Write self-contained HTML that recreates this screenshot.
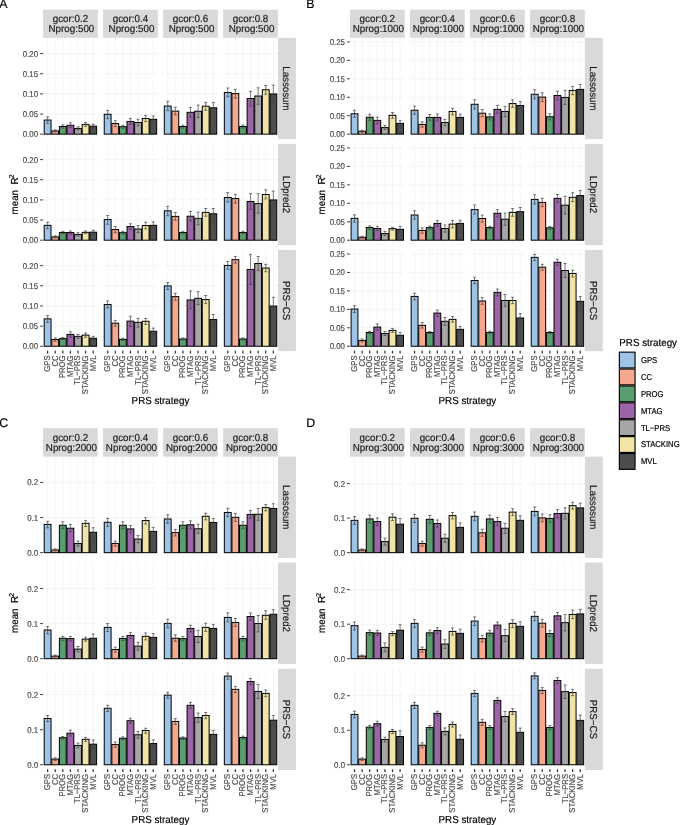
<!DOCTYPE html>
<html><head><meta charset="utf-8"><title>PRS strategy</title>
<style>
html,body{margin:0;padding:0;background:#fff;}
body{width:685px;height:825px;overflow:hidden;}
svg{display:block;font-family:"Liberation Sans",sans-serif;-webkit-font-smoothing:antialiased;text-rendering:geometricPrecision;}
</style></head><body>
<svg width="685" height="825" viewBox="0 0 685 825">
<rect x="0" y="0" width="685" height="825" fill="#ffffff"/>
<g>
<rect x="43.05" y="9.7" width="54.7" height="28.1" fill="#D9D9D9"/>
<rect x="103.1" y="9.7" width="54.7" height="28.1" fill="#D9D9D9"/>
<rect x="163.15" y="9.7" width="54.7" height="28.1" fill="#D9D9D9"/>
<rect x="223.2" y="9.7" width="54.7" height="28.1" fill="#D9D9D9"/>
<rect x="277.95" y="37.8" width="17.95" height="101.3" fill="#D9D9D9"/>
<line x1="40.1" y1="134.15" x2="43.05" y2="134.15" stroke="#333333" stroke-width="0.95"/>
<line x1="40.1" y1="114" x2="43.05" y2="114" stroke="#333333" stroke-width="0.95"/>
<line x1="40.1" y1="93.85" x2="43.05" y2="93.85" stroke="#333333" stroke-width="0.95"/>
<line x1="40.1" y1="73.7" x2="43.05" y2="73.7" stroke="#333333" stroke-width="0.95"/>
<line x1="40.1" y1="53.55" x2="43.05" y2="53.55" stroke="#333333" stroke-width="0.95"/>
<line x1="43.05" y1="134.15" x2="97.75" y2="134.15" stroke="#EDEDED" stroke-width="0.55"/>
<line x1="43.05" y1="114" x2="97.75" y2="114" stroke="#EDEDED" stroke-width="0.55"/>
<line x1="43.05" y1="93.85" x2="97.75" y2="93.85" stroke="#EDEDED" stroke-width="0.55"/>
<line x1="43.05" y1="73.7" x2="97.75" y2="73.7" stroke="#EDEDED" stroke-width="0.55"/>
<line x1="43.05" y1="53.55" x2="97.75" y2="53.55" stroke="#EDEDED" stroke-width="0.55"/>
<line x1="47.61" y1="37.8" x2="47.61" y2="139.1" stroke="#EDEDED" stroke-width="0.55"/>
<line x1="55.21" y1="37.8" x2="55.21" y2="139.1" stroke="#EDEDED" stroke-width="0.55"/>
<line x1="62.8" y1="37.8" x2="62.8" y2="139.1" stroke="#EDEDED" stroke-width="0.55"/>
<line x1="70.4" y1="37.8" x2="70.4" y2="139.1" stroke="#EDEDED" stroke-width="0.55"/>
<line x1="78" y1="37.8" x2="78" y2="139.1" stroke="#EDEDED" stroke-width="0.55"/>
<line x1="85.59" y1="37.8" x2="85.59" y2="139.1" stroke="#EDEDED" stroke-width="0.55"/>
<line x1="93.19" y1="37.8" x2="93.19" y2="139.1" stroke="#EDEDED" stroke-width="0.55"/>
<rect x="44.19" y="120.04" width="6.84" height="14.11" fill="#9DC3E6" stroke="#000" stroke-width="1"/>
<line x1="47.61" y1="116.89" x2="47.61" y2="123.2" stroke="#444444" stroke-width="0.7"/>
<line x1="46.06" y1="116.89" x2="49.16" y2="116.89" stroke="#444444" stroke-width="0.7"/>
<line x1="46.06" y1="123.2" x2="49.16" y2="123.2" stroke="#444444" stroke-width="0.7"/>
<rect x="51.79" y="130.91" width="6.84" height="3.24" fill="#F4A88E" stroke="#000" stroke-width="1"/>
<line x1="55.21" y1="129.85" x2="55.21" y2="131.96" stroke="#444444" stroke-width="0.7"/>
<line x1="53.66" y1="129.85" x2="56.76" y2="129.85" stroke="#444444" stroke-width="0.7"/>
<line x1="53.66" y1="131.96" x2="56.76" y2="131.96" stroke="#444444" stroke-width="0.7"/>
<rect x="59.38" y="126.53" width="6.84" height="7.62" fill="#5A9E6F" stroke="#000" stroke-width="1"/>
<line x1="62.8" y1="124.95" x2="62.8" y2="128.1" stroke="#444444" stroke-width="0.7"/>
<line x1="61.25" y1="124.95" x2="64.35" y2="124.95" stroke="#444444" stroke-width="0.7"/>
<line x1="61.25" y1="128.1" x2="64.35" y2="128.1" stroke="#444444" stroke-width="0.7"/>
<rect x="66.98" y="125.3" width="6.84" height="8.85" fill="#9C65A7" stroke="#000" stroke-width="1"/>
<line x1="70.4" y1="122.85" x2="70.4" y2="127.58" stroke="#444444" stroke-width="0.7"/>
<line x1="68.85" y1="122.85" x2="71.95" y2="122.85" stroke="#444444" stroke-width="0.7"/>
<line x1="68.85" y1="127.58" x2="71.95" y2="127.58" stroke="#444444" stroke-width="0.7"/>
<rect x="74.58" y="128.45" width="6.84" height="5.7" fill="#A6A6A6" stroke="#000" stroke-width="1"/>
<line x1="78" y1="126.88" x2="78" y2="130.03" stroke="#444444" stroke-width="0.7"/>
<line x1="76.45" y1="126.88" x2="79.55" y2="126.88" stroke="#444444" stroke-width="0.7"/>
<line x1="76.45" y1="130.03" x2="79.55" y2="130.03" stroke="#444444" stroke-width="0.7"/>
<rect x="82.18" y="124.42" width="6.84" height="9.73" fill="#F0E4A6" stroke="#000" stroke-width="1"/>
<line x1="85.59" y1="122.5" x2="85.59" y2="126.35" stroke="#444444" stroke-width="0.7"/>
<line x1="84.04" y1="122.5" x2="87.14" y2="122.5" stroke="#444444" stroke-width="0.7"/>
<line x1="84.04" y1="126.35" x2="87.14" y2="126.35" stroke="#444444" stroke-width="0.7"/>
<rect x="89.77" y="126.18" width="6.84" height="7.97" fill="#4D4D4D" stroke="#000" stroke-width="1"/>
<line x1="93.19" y1="124.25" x2="93.19" y2="128.1" stroke="#444444" stroke-width="0.7"/>
<line x1="91.64" y1="124.25" x2="94.74" y2="124.25" stroke="#444444" stroke-width="0.7"/>
<line x1="91.64" y1="128.1" x2="94.74" y2="128.1" stroke="#444444" stroke-width="0.7"/>
<line x1="103.1" y1="134.15" x2="157.8" y2="134.15" stroke="#EDEDED" stroke-width="0.55"/>
<line x1="103.1" y1="114" x2="157.8" y2="114" stroke="#EDEDED" stroke-width="0.55"/>
<line x1="103.1" y1="93.85" x2="157.8" y2="93.85" stroke="#EDEDED" stroke-width="0.55"/>
<line x1="103.1" y1="73.7" x2="157.8" y2="73.7" stroke="#EDEDED" stroke-width="0.55"/>
<line x1="103.1" y1="53.55" x2="157.8" y2="53.55" stroke="#EDEDED" stroke-width="0.55"/>
<line x1="107.66" y1="37.8" x2="107.66" y2="139.1" stroke="#EDEDED" stroke-width="0.55"/>
<line x1="115.26" y1="37.8" x2="115.26" y2="139.1" stroke="#EDEDED" stroke-width="0.55"/>
<line x1="122.85" y1="37.8" x2="122.85" y2="139.1" stroke="#EDEDED" stroke-width="0.55"/>
<line x1="130.45" y1="37.8" x2="130.45" y2="139.1" stroke="#EDEDED" stroke-width="0.55"/>
<line x1="138.05" y1="37.8" x2="138.05" y2="139.1" stroke="#EDEDED" stroke-width="0.55"/>
<line x1="145.64" y1="37.8" x2="145.64" y2="139.1" stroke="#EDEDED" stroke-width="0.55"/>
<line x1="153.24" y1="37.8" x2="153.24" y2="139.1" stroke="#EDEDED" stroke-width="0.55"/>
<rect x="104.24" y="114.26" width="6.84" height="19.89" fill="#9DC3E6" stroke="#000" stroke-width="1"/>
<line x1="107.66" y1="110.41" x2="107.66" y2="118.64" stroke="#444444" stroke-width="0.7"/>
<line x1="106.11" y1="110.41" x2="109.21" y2="110.41" stroke="#444444" stroke-width="0.7"/>
<line x1="106.11" y1="118.64" x2="109.21" y2="118.64" stroke="#444444" stroke-width="0.7"/>
<rect x="111.84" y="123.55" width="6.84" height="10.6" fill="#F4A88E" stroke="#000" stroke-width="1"/>
<line x1="115.26" y1="120.74" x2="115.26" y2="126.53" stroke="#444444" stroke-width="0.7"/>
<line x1="113.71" y1="120.74" x2="116.81" y2="120.74" stroke="#444444" stroke-width="0.7"/>
<line x1="113.71" y1="126.53" x2="116.81" y2="126.53" stroke="#444444" stroke-width="0.7"/>
<rect x="119.43" y="126.7" width="6.84" height="7.45" fill="#5A9E6F" stroke="#000" stroke-width="1"/>
<line x1="122.85" y1="125.3" x2="122.85" y2="128.28" stroke="#444444" stroke-width="0.7"/>
<line x1="121.3" y1="125.3" x2="124.4" y2="125.3" stroke="#444444" stroke-width="0.7"/>
<line x1="121.3" y1="128.28" x2="124.4" y2="128.28" stroke="#444444" stroke-width="0.7"/>
<rect x="127.03" y="121.45" width="6.84" height="12.7" fill="#9C65A7" stroke="#000" stroke-width="1"/>
<line x1="130.45" y1="118.47" x2="130.45" y2="124.42" stroke="#444444" stroke-width="0.7"/>
<line x1="128.9" y1="118.47" x2="132" y2="118.47" stroke="#444444" stroke-width="0.7"/>
<line x1="128.9" y1="124.42" x2="132" y2="124.42" stroke="#444444" stroke-width="0.7"/>
<rect x="134.63" y="122.5" width="6.84" height="11.65" fill="#A6A6A6" stroke="#000" stroke-width="1"/>
<line x1="138.05" y1="119.17" x2="138.05" y2="125.82" stroke="#444444" stroke-width="0.7"/>
<line x1="136.5" y1="119.17" x2="139.6" y2="119.17" stroke="#444444" stroke-width="0.7"/>
<line x1="136.5" y1="125.82" x2="139.6" y2="125.82" stroke="#444444" stroke-width="0.7"/>
<rect x="142.23" y="118.47" width="6.84" height="15.68" fill="#F0E4A6" stroke="#000" stroke-width="1"/>
<line x1="145.64" y1="115.31" x2="145.64" y2="121.62" stroke="#444444" stroke-width="0.7"/>
<line x1="144.09" y1="115.31" x2="147.19" y2="115.31" stroke="#444444" stroke-width="0.7"/>
<line x1="144.09" y1="121.62" x2="147.19" y2="121.62" stroke="#444444" stroke-width="0.7"/>
<rect x="149.82" y="119.34" width="6.84" height="14.81" fill="#4D4D4D" stroke="#000" stroke-width="1"/>
<line x1="153.24" y1="116.01" x2="153.24" y2="122.67" stroke="#444444" stroke-width="0.7"/>
<line x1="151.69" y1="116.01" x2="154.79" y2="116.01" stroke="#444444" stroke-width="0.7"/>
<line x1="151.69" y1="122.67" x2="154.79" y2="122.67" stroke="#444444" stroke-width="0.7"/>
<line x1="163.15" y1="134.15" x2="217.85" y2="134.15" stroke="#EDEDED" stroke-width="0.55"/>
<line x1="163.15" y1="114" x2="217.85" y2="114" stroke="#EDEDED" stroke-width="0.55"/>
<line x1="163.15" y1="93.85" x2="217.85" y2="93.85" stroke="#EDEDED" stroke-width="0.55"/>
<line x1="163.15" y1="73.7" x2="217.85" y2="73.7" stroke="#EDEDED" stroke-width="0.55"/>
<line x1="163.15" y1="53.55" x2="217.85" y2="53.55" stroke="#EDEDED" stroke-width="0.55"/>
<line x1="167.71" y1="37.8" x2="167.71" y2="139.1" stroke="#EDEDED" stroke-width="0.55"/>
<line x1="175.31" y1="37.8" x2="175.31" y2="139.1" stroke="#EDEDED" stroke-width="0.55"/>
<line x1="182.9" y1="37.8" x2="182.9" y2="139.1" stroke="#EDEDED" stroke-width="0.55"/>
<line x1="190.5" y1="37.8" x2="190.5" y2="139.1" stroke="#EDEDED" stroke-width="0.55"/>
<line x1="198.1" y1="37.8" x2="198.1" y2="139.1" stroke="#EDEDED" stroke-width="0.55"/>
<line x1="205.69" y1="37.8" x2="205.69" y2="139.1" stroke="#EDEDED" stroke-width="0.55"/>
<line x1="213.29" y1="37.8" x2="213.29" y2="139.1" stroke="#EDEDED" stroke-width="0.55"/>
<rect x="164.29" y="106.03" width="6.84" height="28.12" fill="#9DC3E6" stroke="#000" stroke-width="1"/>
<line x1="167.71" y1="101.3" x2="167.71" y2="110.58" stroke="#444444" stroke-width="0.7"/>
<line x1="166.16" y1="101.3" x2="169.26" y2="101.3" stroke="#444444" stroke-width="0.7"/>
<line x1="166.16" y1="110.58" x2="169.26" y2="110.58" stroke="#444444" stroke-width="0.7"/>
<rect x="171.89" y="111.11" width="6.84" height="23.04" fill="#F4A88E" stroke="#000" stroke-width="1"/>
<line x1="175.31" y1="107.26" x2="175.31" y2="114.79" stroke="#444444" stroke-width="0.7"/>
<line x1="173.76" y1="107.26" x2="176.86" y2="107.26" stroke="#444444" stroke-width="0.7"/>
<line x1="173.76" y1="114.79" x2="176.86" y2="114.79" stroke="#444444" stroke-width="0.7"/>
<rect x="179.48" y="126.53" width="6.84" height="7.62" fill="#5A9E6F" stroke="#000" stroke-width="1"/>
<line x1="182.9" y1="125.12" x2="182.9" y2="128.1" stroke="#444444" stroke-width="0.7"/>
<line x1="181.35" y1="125.12" x2="184.45" y2="125.12" stroke="#444444" stroke-width="0.7"/>
<line x1="181.35" y1="128.1" x2="184.45" y2="128.1" stroke="#444444" stroke-width="0.7"/>
<rect x="187.08" y="112.34" width="6.84" height="21.81" fill="#9C65A7" stroke="#000" stroke-width="1"/>
<line x1="190.5" y1="107.43" x2="190.5" y2="117.07" stroke="#444444" stroke-width="0.7"/>
<line x1="188.95" y1="107.43" x2="192.05" y2="107.43" stroke="#444444" stroke-width="0.7"/>
<line x1="188.95" y1="117.07" x2="192.05" y2="117.07" stroke="#444444" stroke-width="0.7"/>
<rect x="194.68" y="111.28" width="6.84" height="22.87" fill="#A6A6A6" stroke="#000" stroke-width="1"/>
<line x1="198.1" y1="105.15" x2="198.1" y2="117.59" stroke="#444444" stroke-width="0.7"/>
<line x1="196.55" y1="105.15" x2="199.65" y2="105.15" stroke="#444444" stroke-width="0.7"/>
<line x1="196.55" y1="117.59" x2="199.65" y2="117.59" stroke="#444444" stroke-width="0.7"/>
<rect x="202.28" y="106.2" width="6.84" height="27.95" fill="#F0E4A6" stroke="#000" stroke-width="1"/>
<line x1="205.69" y1="102.35" x2="205.69" y2="110.23" stroke="#444444" stroke-width="0.7"/>
<line x1="204.14" y1="102.35" x2="207.24" y2="102.35" stroke="#444444" stroke-width="0.7"/>
<line x1="204.14" y1="110.23" x2="207.24" y2="110.23" stroke="#444444" stroke-width="0.7"/>
<rect x="209.87" y="107.78" width="6.84" height="26.37" fill="#4D4D4D" stroke="#000" stroke-width="1"/>
<line x1="213.29" y1="102.53" x2="213.29" y2="113.04" stroke="#444444" stroke-width="0.7"/>
<line x1="211.74" y1="102.53" x2="214.84" y2="102.53" stroke="#444444" stroke-width="0.7"/>
<line x1="211.74" y1="113.04" x2="214.84" y2="113.04" stroke="#444444" stroke-width="0.7"/>
<line x1="223.2" y1="134.15" x2="277.9" y2="134.15" stroke="#EDEDED" stroke-width="0.55"/>
<line x1="223.2" y1="114" x2="277.9" y2="114" stroke="#EDEDED" stroke-width="0.55"/>
<line x1="223.2" y1="93.85" x2="277.9" y2="93.85" stroke="#EDEDED" stroke-width="0.55"/>
<line x1="223.2" y1="73.7" x2="277.9" y2="73.7" stroke="#EDEDED" stroke-width="0.55"/>
<line x1="223.2" y1="53.55" x2="277.9" y2="53.55" stroke="#EDEDED" stroke-width="0.55"/>
<line x1="227.76" y1="37.8" x2="227.76" y2="139.1" stroke="#EDEDED" stroke-width="0.55"/>
<line x1="235.36" y1="37.8" x2="235.36" y2="139.1" stroke="#EDEDED" stroke-width="0.55"/>
<line x1="242.95" y1="37.8" x2="242.95" y2="139.1" stroke="#EDEDED" stroke-width="0.55"/>
<line x1="250.55" y1="37.8" x2="250.55" y2="139.1" stroke="#EDEDED" stroke-width="0.55"/>
<line x1="258.15" y1="37.8" x2="258.15" y2="139.1" stroke="#EDEDED" stroke-width="0.55"/>
<line x1="265.74" y1="37.8" x2="265.74" y2="139.1" stroke="#EDEDED" stroke-width="0.55"/>
<line x1="273.34" y1="37.8" x2="273.34" y2="139.1" stroke="#EDEDED" stroke-width="0.55"/>
<rect x="224.34" y="92.54" width="6.84" height="41.61" fill="#9DC3E6" stroke="#000" stroke-width="1"/>
<line x1="227.76" y1="87.99" x2="227.76" y2="96.74" stroke="#444444" stroke-width="0.7"/>
<line x1="226.21" y1="87.99" x2="229.31" y2="87.99" stroke="#444444" stroke-width="0.7"/>
<line x1="226.21" y1="96.74" x2="229.31" y2="96.74" stroke="#444444" stroke-width="0.7"/>
<rect x="231.94" y="93.59" width="6.84" height="40.56" fill="#F4A88E" stroke="#000" stroke-width="1"/>
<line x1="235.36" y1="89.39" x2="235.36" y2="98.15" stroke="#444444" stroke-width="0.7"/>
<line x1="233.81" y1="89.39" x2="236.91" y2="89.39" stroke="#444444" stroke-width="0.7"/>
<line x1="233.81" y1="98.15" x2="236.91" y2="98.15" stroke="#444444" stroke-width="0.7"/>
<rect x="239.53" y="126.53" width="6.84" height="7.62" fill="#5A9E6F" stroke="#000" stroke-width="1"/>
<line x1="242.95" y1="124.95" x2="242.95" y2="128.1" stroke="#444444" stroke-width="0.7"/>
<line x1="241.4" y1="124.95" x2="244.5" y2="124.95" stroke="#444444" stroke-width="0.7"/>
<line x1="241.4" y1="128.1" x2="244.5" y2="128.1" stroke="#444444" stroke-width="0.7"/>
<rect x="247.13" y="98.5" width="6.84" height="35.65" fill="#9C65A7" stroke="#000" stroke-width="1"/>
<line x1="250.55" y1="91.31" x2="250.55" y2="106.03" stroke="#444444" stroke-width="0.7"/>
<line x1="249" y1="91.31" x2="252.1" y2="91.31" stroke="#444444" stroke-width="0.7"/>
<line x1="249" y1="106.03" x2="252.1" y2="106.03" stroke="#444444" stroke-width="0.7"/>
<rect x="254.73" y="96.04" width="6.84" height="38.11" fill="#A6A6A6" stroke="#000" stroke-width="1"/>
<line x1="258.15" y1="87.81" x2="258.15" y2="104.28" stroke="#444444" stroke-width="0.7"/>
<line x1="256.6" y1="87.81" x2="259.7" y2="87.81" stroke="#444444" stroke-width="0.7"/>
<line x1="256.6" y1="104.28" x2="259.7" y2="104.28" stroke="#444444" stroke-width="0.7"/>
<rect x="262.33" y="89.74" width="6.84" height="44.41" fill="#F0E4A6" stroke="#000" stroke-width="1"/>
<line x1="265.74" y1="85.53" x2="265.74" y2="94.29" stroke="#444444" stroke-width="0.7"/>
<line x1="264.19" y1="85.53" x2="267.29" y2="85.53" stroke="#444444" stroke-width="0.7"/>
<line x1="264.19" y1="94.29" x2="267.29" y2="94.29" stroke="#444444" stroke-width="0.7"/>
<rect x="269.92" y="93.94" width="6.84" height="40.21" fill="#4D4D4D" stroke="#000" stroke-width="1"/>
<line x1="273.34" y1="85.18" x2="273.34" y2="102.7" stroke="#444444" stroke-width="0.7"/>
<line x1="271.79" y1="85.18" x2="274.89" y2="85.18" stroke="#444444" stroke-width="0.7"/>
<line x1="271.79" y1="102.7" x2="274.89" y2="102.7" stroke="#444444" stroke-width="0.7"/>
<rect x="277.95" y="143.85" width="17.95" height="101.3" fill="#D9D9D9"/>
<line x1="40.1" y1="240.2" x2="43.05" y2="240.2" stroke="#333333" stroke-width="0.95"/>
<line x1="40.1" y1="220.05" x2="43.05" y2="220.05" stroke="#333333" stroke-width="0.95"/>
<line x1="40.1" y1="199.9" x2="43.05" y2="199.9" stroke="#333333" stroke-width="0.95"/>
<line x1="40.1" y1="179.75" x2="43.05" y2="179.75" stroke="#333333" stroke-width="0.95"/>
<line x1="40.1" y1="159.6" x2="43.05" y2="159.6" stroke="#333333" stroke-width="0.95"/>
<line x1="43.05" y1="240.2" x2="97.75" y2="240.2" stroke="#EDEDED" stroke-width="0.55"/>
<line x1="43.05" y1="220.05" x2="97.75" y2="220.05" stroke="#EDEDED" stroke-width="0.55"/>
<line x1="43.05" y1="199.9" x2="97.75" y2="199.9" stroke="#EDEDED" stroke-width="0.55"/>
<line x1="43.05" y1="179.75" x2="97.75" y2="179.75" stroke="#EDEDED" stroke-width="0.55"/>
<line x1="43.05" y1="159.6" x2="97.75" y2="159.6" stroke="#EDEDED" stroke-width="0.55"/>
<line x1="47.61" y1="143.85" x2="47.61" y2="245.15" stroke="#EDEDED" stroke-width="0.55"/>
<line x1="55.21" y1="143.85" x2="55.21" y2="245.15" stroke="#EDEDED" stroke-width="0.55"/>
<line x1="62.8" y1="143.85" x2="62.8" y2="245.15" stroke="#EDEDED" stroke-width="0.55"/>
<line x1="70.4" y1="143.85" x2="70.4" y2="245.15" stroke="#EDEDED" stroke-width="0.55"/>
<line x1="78" y1="143.85" x2="78" y2="245.15" stroke="#EDEDED" stroke-width="0.55"/>
<line x1="85.59" y1="143.85" x2="85.59" y2="245.15" stroke="#EDEDED" stroke-width="0.55"/>
<line x1="93.19" y1="143.85" x2="93.19" y2="245.15" stroke="#EDEDED" stroke-width="0.55"/>
<rect x="44.19" y="225.34" width="6.84" height="14.86" fill="#9DC3E6" stroke="#000" stroke-width="1"/>
<line x1="47.61" y1="222.19" x2="47.61" y2="228.85" stroke="#444444" stroke-width="0.7"/>
<line x1="46.06" y1="222.19" x2="49.16" y2="222.19" stroke="#444444" stroke-width="0.7"/>
<line x1="46.06" y1="228.85" x2="49.16" y2="228.85" stroke="#444444" stroke-width="0.7"/>
<rect x="51.79" y="236.91" width="6.84" height="3.29" fill="#F4A88E" stroke="#000" stroke-width="1"/>
<line x1="55.21" y1="235.85" x2="55.21" y2="237.96" stroke="#444444" stroke-width="0.7"/>
<line x1="53.66" y1="235.85" x2="56.76" y2="235.85" stroke="#444444" stroke-width="0.7"/>
<line x1="53.66" y1="237.96" x2="56.76" y2="237.96" stroke="#444444" stroke-width="0.7"/>
<rect x="59.38" y="232.53" width="6.84" height="7.67" fill="#5A9E6F" stroke="#000" stroke-width="1"/>
<line x1="62.8" y1="231.3" x2="62.8" y2="233.93" stroke="#444444" stroke-width="0.7"/>
<line x1="61.25" y1="231.3" x2="64.35" y2="231.3" stroke="#444444" stroke-width="0.7"/>
<line x1="61.25" y1="233.93" x2="64.35" y2="233.93" stroke="#444444" stroke-width="0.7"/>
<rect x="66.98" y="232.53" width="6.84" height="7.67" fill="#9C65A7" stroke="#000" stroke-width="1"/>
<line x1="70.4" y1="230.95" x2="70.4" y2="234.28" stroke="#444444" stroke-width="0.7"/>
<line x1="68.85" y1="230.95" x2="71.95" y2="230.95" stroke="#444444" stroke-width="0.7"/>
<line x1="68.85" y1="234.28" x2="71.95" y2="234.28" stroke="#444444" stroke-width="0.7"/>
<rect x="74.58" y="234.45" width="6.84" height="5.75" fill="#A6A6A6" stroke="#000" stroke-width="1"/>
<line x1="78" y1="232.7" x2="78" y2="236.03" stroke="#444444" stroke-width="0.7"/>
<line x1="76.45" y1="232.7" x2="79.55" y2="232.7" stroke="#444444" stroke-width="0.7"/>
<line x1="76.45" y1="236.03" x2="79.55" y2="236.03" stroke="#444444" stroke-width="0.7"/>
<rect x="82.18" y="232.35" width="6.84" height="7.85" fill="#F0E4A6" stroke="#000" stroke-width="1"/>
<line x1="85.59" y1="230.95" x2="85.59" y2="233.75" stroke="#444444" stroke-width="0.7"/>
<line x1="84.04" y1="230.95" x2="87.14" y2="230.95" stroke="#444444" stroke-width="0.7"/>
<line x1="84.04" y1="233.75" x2="87.14" y2="233.75" stroke="#444444" stroke-width="0.7"/>
<rect x="89.77" y="232.18" width="6.84" height="8.02" fill="#4D4D4D" stroke="#000" stroke-width="1"/>
<line x1="93.19" y1="230.25" x2="93.19" y2="234.1" stroke="#444444" stroke-width="0.7"/>
<line x1="91.64" y1="230.25" x2="94.74" y2="230.25" stroke="#444444" stroke-width="0.7"/>
<line x1="91.64" y1="234.1" x2="94.74" y2="234.1" stroke="#444444" stroke-width="0.7"/>
<line x1="103.1" y1="240.2" x2="157.8" y2="240.2" stroke="#EDEDED" stroke-width="0.55"/>
<line x1="103.1" y1="220.05" x2="157.8" y2="220.05" stroke="#EDEDED" stroke-width="0.55"/>
<line x1="103.1" y1="199.9" x2="157.8" y2="199.9" stroke="#EDEDED" stroke-width="0.55"/>
<line x1="103.1" y1="179.75" x2="157.8" y2="179.75" stroke="#EDEDED" stroke-width="0.55"/>
<line x1="103.1" y1="159.6" x2="157.8" y2="159.6" stroke="#EDEDED" stroke-width="0.55"/>
<line x1="107.66" y1="143.85" x2="107.66" y2="245.15" stroke="#EDEDED" stroke-width="0.55"/>
<line x1="115.26" y1="143.85" x2="115.26" y2="245.15" stroke="#EDEDED" stroke-width="0.55"/>
<line x1="122.85" y1="143.85" x2="122.85" y2="245.15" stroke="#EDEDED" stroke-width="0.55"/>
<line x1="130.45" y1="143.85" x2="130.45" y2="245.15" stroke="#EDEDED" stroke-width="0.55"/>
<line x1="138.05" y1="143.85" x2="138.05" y2="245.15" stroke="#EDEDED" stroke-width="0.55"/>
<line x1="145.64" y1="143.85" x2="145.64" y2="245.15" stroke="#EDEDED" stroke-width="0.55"/>
<line x1="153.24" y1="143.85" x2="153.24" y2="245.15" stroke="#EDEDED" stroke-width="0.55"/>
<rect x="104.24" y="219.56" width="6.84" height="20.64" fill="#9DC3E6" stroke="#000" stroke-width="1"/>
<line x1="107.66" y1="215.53" x2="107.66" y2="224.29" stroke="#444444" stroke-width="0.7"/>
<line x1="106.11" y1="215.53" x2="109.21" y2="215.53" stroke="#444444" stroke-width="0.7"/>
<line x1="106.11" y1="224.29" x2="109.21" y2="224.29" stroke="#444444" stroke-width="0.7"/>
<rect x="111.84" y="229.55" width="6.84" height="10.65" fill="#F4A88E" stroke="#000" stroke-width="1"/>
<line x1="115.26" y1="226.57" x2="115.26" y2="232.7" stroke="#444444" stroke-width="0.7"/>
<line x1="113.71" y1="226.57" x2="116.81" y2="226.57" stroke="#444444" stroke-width="0.7"/>
<line x1="113.71" y1="232.7" x2="116.81" y2="232.7" stroke="#444444" stroke-width="0.7"/>
<rect x="119.43" y="232.7" width="6.84" height="7.5" fill="#5A9E6F" stroke="#000" stroke-width="1"/>
<line x1="122.85" y1="231.3" x2="122.85" y2="234.1" stroke="#444444" stroke-width="0.7"/>
<line x1="121.3" y1="231.3" x2="124.4" y2="231.3" stroke="#444444" stroke-width="0.7"/>
<line x1="121.3" y1="234.1" x2="124.4" y2="234.1" stroke="#444444" stroke-width="0.7"/>
<rect x="127.03" y="226.57" width="6.84" height="13.63" fill="#9C65A7" stroke="#000" stroke-width="1"/>
<line x1="130.45" y1="223.77" x2="130.45" y2="229.37" stroke="#444444" stroke-width="0.7"/>
<line x1="128.9" y1="223.77" x2="132" y2="223.77" stroke="#444444" stroke-width="0.7"/>
<line x1="128.9" y1="229.37" x2="132" y2="229.37" stroke="#444444" stroke-width="0.7"/>
<rect x="134.63" y="229.02" width="6.84" height="11.18" fill="#A6A6A6" stroke="#000" stroke-width="1"/>
<line x1="138.05" y1="225.52" x2="138.05" y2="232.53" stroke="#444444" stroke-width="0.7"/>
<line x1="136.5" y1="225.52" x2="139.6" y2="225.52" stroke="#444444" stroke-width="0.7"/>
<line x1="136.5" y1="232.53" x2="139.6" y2="232.53" stroke="#444444" stroke-width="0.7"/>
<rect x="142.23" y="225.52" width="6.84" height="14.68" fill="#F0E4A6" stroke="#000" stroke-width="1"/>
<line x1="145.64" y1="222.19" x2="145.64" y2="228.85" stroke="#444444" stroke-width="0.7"/>
<line x1="144.09" y1="222.19" x2="147.19" y2="222.19" stroke="#444444" stroke-width="0.7"/>
<line x1="144.09" y1="228.85" x2="147.19" y2="228.85" stroke="#444444" stroke-width="0.7"/>
<rect x="149.82" y="225.34" width="6.84" height="14.86" fill="#4D4D4D" stroke="#000" stroke-width="1"/>
<line x1="153.24" y1="221.84" x2="153.24" y2="228.85" stroke="#444444" stroke-width="0.7"/>
<line x1="151.69" y1="221.84" x2="154.79" y2="221.84" stroke="#444444" stroke-width="0.7"/>
<line x1="151.69" y1="228.85" x2="154.79" y2="228.85" stroke="#444444" stroke-width="0.7"/>
<line x1="163.15" y1="240.2" x2="217.85" y2="240.2" stroke="#EDEDED" stroke-width="0.55"/>
<line x1="163.15" y1="220.05" x2="217.85" y2="220.05" stroke="#EDEDED" stroke-width="0.55"/>
<line x1="163.15" y1="199.9" x2="217.85" y2="199.9" stroke="#EDEDED" stroke-width="0.55"/>
<line x1="163.15" y1="179.75" x2="217.85" y2="179.75" stroke="#EDEDED" stroke-width="0.55"/>
<line x1="163.15" y1="159.6" x2="217.85" y2="159.6" stroke="#EDEDED" stroke-width="0.55"/>
<line x1="167.71" y1="143.85" x2="167.71" y2="245.15" stroke="#EDEDED" stroke-width="0.55"/>
<line x1="175.31" y1="143.85" x2="175.31" y2="245.15" stroke="#EDEDED" stroke-width="0.55"/>
<line x1="182.9" y1="143.85" x2="182.9" y2="245.15" stroke="#EDEDED" stroke-width="0.55"/>
<line x1="190.5" y1="143.85" x2="190.5" y2="245.15" stroke="#EDEDED" stroke-width="0.55"/>
<line x1="198.1" y1="143.85" x2="198.1" y2="245.15" stroke="#EDEDED" stroke-width="0.55"/>
<line x1="205.69" y1="143.85" x2="205.69" y2="245.15" stroke="#EDEDED" stroke-width="0.55"/>
<line x1="213.29" y1="143.85" x2="213.29" y2="245.15" stroke="#EDEDED" stroke-width="0.55"/>
<rect x="164.29" y="210.8" width="6.84" height="29.4" fill="#9DC3E6" stroke="#000" stroke-width="1"/>
<line x1="167.71" y1="206.42" x2="167.71" y2="215.71" stroke="#444444" stroke-width="0.7"/>
<line x1="166.16" y1="206.42" x2="169.26" y2="206.42" stroke="#444444" stroke-width="0.7"/>
<line x1="166.16" y1="215.71" x2="169.26" y2="215.71" stroke="#444444" stroke-width="0.7"/>
<rect x="171.89" y="216.41" width="6.84" height="23.79" fill="#F4A88E" stroke="#000" stroke-width="1"/>
<line x1="175.31" y1="212.55" x2="175.31" y2="220.26" stroke="#444444" stroke-width="0.7"/>
<line x1="173.76" y1="212.55" x2="176.86" y2="212.55" stroke="#444444" stroke-width="0.7"/>
<line x1="173.76" y1="220.26" x2="176.86" y2="220.26" stroke="#444444" stroke-width="0.7"/>
<rect x="179.48" y="232.53" width="6.84" height="7.67" fill="#5A9E6F" stroke="#000" stroke-width="1"/>
<line x1="182.9" y1="231.3" x2="182.9" y2="233.75" stroke="#444444" stroke-width="0.7"/>
<line x1="181.35" y1="231.3" x2="184.45" y2="231.3" stroke="#444444" stroke-width="0.7"/>
<line x1="181.35" y1="233.75" x2="184.45" y2="233.75" stroke="#444444" stroke-width="0.7"/>
<rect x="187.08" y="216.23" width="6.84" height="23.97" fill="#9C65A7" stroke="#000" stroke-width="1"/>
<line x1="190.5" y1="211.5" x2="190.5" y2="220.96" stroke="#444444" stroke-width="0.7"/>
<line x1="188.95" y1="211.5" x2="192.05" y2="211.5" stroke="#444444" stroke-width="0.7"/>
<line x1="188.95" y1="220.96" x2="192.05" y2="220.96" stroke="#444444" stroke-width="0.7"/>
<rect x="194.68" y="218.34" width="6.84" height="21.86" fill="#A6A6A6" stroke="#000" stroke-width="1"/>
<line x1="198.1" y1="212.2" x2="198.1" y2="224.82" stroke="#444444" stroke-width="0.7"/>
<line x1="196.55" y1="212.2" x2="199.65" y2="212.2" stroke="#444444" stroke-width="0.7"/>
<line x1="196.55" y1="224.82" x2="199.65" y2="224.82" stroke="#444444" stroke-width="0.7"/>
<rect x="202.28" y="212.38" width="6.84" height="27.82" fill="#F0E4A6" stroke="#000" stroke-width="1"/>
<line x1="205.69" y1="208.53" x2="205.69" y2="216.23" stroke="#444444" stroke-width="0.7"/>
<line x1="204.14" y1="208.53" x2="207.24" y2="208.53" stroke="#444444" stroke-width="0.7"/>
<line x1="204.14" y1="216.23" x2="207.24" y2="216.23" stroke="#444444" stroke-width="0.7"/>
<rect x="209.87" y="213.78" width="6.84" height="26.42" fill="#4D4D4D" stroke="#000" stroke-width="1"/>
<line x1="213.29" y1="208.53" x2="213.29" y2="219.04" stroke="#444444" stroke-width="0.7"/>
<line x1="211.74" y1="208.53" x2="214.84" y2="208.53" stroke="#444444" stroke-width="0.7"/>
<line x1="211.74" y1="219.04" x2="214.84" y2="219.04" stroke="#444444" stroke-width="0.7"/>
<line x1="223.2" y1="240.2" x2="277.9" y2="240.2" stroke="#EDEDED" stroke-width="0.55"/>
<line x1="223.2" y1="220.05" x2="277.9" y2="220.05" stroke="#EDEDED" stroke-width="0.55"/>
<line x1="223.2" y1="199.9" x2="277.9" y2="199.9" stroke="#EDEDED" stroke-width="0.55"/>
<line x1="223.2" y1="179.75" x2="277.9" y2="179.75" stroke="#EDEDED" stroke-width="0.55"/>
<line x1="223.2" y1="159.6" x2="277.9" y2="159.6" stroke="#EDEDED" stroke-width="0.55"/>
<line x1="227.76" y1="143.85" x2="227.76" y2="245.15" stroke="#EDEDED" stroke-width="0.55"/>
<line x1="235.36" y1="143.85" x2="235.36" y2="245.15" stroke="#EDEDED" stroke-width="0.55"/>
<line x1="242.95" y1="143.85" x2="242.95" y2="245.15" stroke="#EDEDED" stroke-width="0.55"/>
<line x1="250.55" y1="143.85" x2="250.55" y2="245.15" stroke="#EDEDED" stroke-width="0.55"/>
<line x1="258.15" y1="143.85" x2="258.15" y2="245.15" stroke="#EDEDED" stroke-width="0.55"/>
<line x1="265.74" y1="143.85" x2="265.74" y2="245.15" stroke="#EDEDED" stroke-width="0.55"/>
<line x1="273.34" y1="143.85" x2="273.34" y2="245.15" stroke="#EDEDED" stroke-width="0.55"/>
<rect x="224.34" y="197.49" width="6.84" height="42.71" fill="#9DC3E6" stroke="#000" stroke-width="1"/>
<line x1="227.76" y1="192.58" x2="227.76" y2="202.04" stroke="#444444" stroke-width="0.7"/>
<line x1="226.21" y1="192.58" x2="229.31" y2="192.58" stroke="#444444" stroke-width="0.7"/>
<line x1="226.21" y1="202.04" x2="229.31" y2="202.04" stroke="#444444" stroke-width="0.7"/>
<rect x="231.94" y="198.54" width="6.84" height="41.66" fill="#F4A88E" stroke="#000" stroke-width="1"/>
<line x1="235.36" y1="194.34" x2="235.36" y2="203.09" stroke="#444444" stroke-width="0.7"/>
<line x1="233.81" y1="194.34" x2="236.91" y2="194.34" stroke="#444444" stroke-width="0.7"/>
<line x1="233.81" y1="203.09" x2="236.91" y2="203.09" stroke="#444444" stroke-width="0.7"/>
<rect x="239.53" y="232.53" width="6.84" height="7.67" fill="#5A9E6F" stroke="#000" stroke-width="1"/>
<line x1="242.95" y1="231.3" x2="242.95" y2="233.75" stroke="#444444" stroke-width="0.7"/>
<line x1="241.4" y1="231.3" x2="244.5" y2="231.3" stroke="#444444" stroke-width="0.7"/>
<line x1="241.4" y1="233.75" x2="244.5" y2="233.75" stroke="#444444" stroke-width="0.7"/>
<rect x="247.13" y="201.52" width="6.84" height="38.68" fill="#9C65A7" stroke="#000" stroke-width="1"/>
<line x1="250.55" y1="193.64" x2="250.55" y2="209.4" stroke="#444444" stroke-width="0.7"/>
<line x1="249" y1="193.64" x2="252.1" y2="193.64" stroke="#444444" stroke-width="0.7"/>
<line x1="249" y1="209.4" x2="252.1" y2="209.4" stroke="#444444" stroke-width="0.7"/>
<rect x="254.73" y="203.62" width="6.84" height="36.58" fill="#A6A6A6" stroke="#000" stroke-width="1"/>
<line x1="258.15" y1="193.64" x2="258.15" y2="213.08" stroke="#444444" stroke-width="0.7"/>
<line x1="256.6" y1="193.64" x2="259.7" y2="193.64" stroke="#444444" stroke-width="0.7"/>
<line x1="256.6" y1="213.08" x2="259.7" y2="213.08" stroke="#444444" stroke-width="0.7"/>
<rect x="262.33" y="194.51" width="6.84" height="45.69" fill="#F0E4A6" stroke="#000" stroke-width="1"/>
<line x1="265.74" y1="189.78" x2="265.74" y2="198.89" stroke="#444444" stroke-width="0.7"/>
<line x1="264.19" y1="189.78" x2="267.29" y2="189.78" stroke="#444444" stroke-width="0.7"/>
<line x1="264.19" y1="198.89" x2="267.29" y2="198.89" stroke="#444444" stroke-width="0.7"/>
<rect x="269.92" y="199.94" width="6.84" height="40.26" fill="#4D4D4D" stroke="#000" stroke-width="1"/>
<line x1="273.34" y1="191.18" x2="273.34" y2="208.7" stroke="#444444" stroke-width="0.7"/>
<line x1="271.79" y1="191.18" x2="274.89" y2="191.18" stroke="#444444" stroke-width="0.7"/>
<line x1="271.79" y1="208.7" x2="274.89" y2="208.7" stroke="#444444" stroke-width="0.7"/>
<rect x="277.95" y="249.9" width="17.95" height="101.3" fill="#D9D9D9"/>
<line x1="40.1" y1="346.25" x2="43.05" y2="346.25" stroke="#333333" stroke-width="0.95"/>
<line x1="40.1" y1="326.1" x2="43.05" y2="326.1" stroke="#333333" stroke-width="0.95"/>
<line x1="40.1" y1="305.95" x2="43.05" y2="305.95" stroke="#333333" stroke-width="0.95"/>
<line x1="40.1" y1="285.8" x2="43.05" y2="285.8" stroke="#333333" stroke-width="0.95"/>
<line x1="40.1" y1="265.65" x2="43.05" y2="265.65" stroke="#333333" stroke-width="0.95"/>
<line x1="43.05" y1="346.25" x2="97.75" y2="346.25" stroke="#EDEDED" stroke-width="0.55"/>
<line x1="43.05" y1="326.1" x2="97.75" y2="326.1" stroke="#EDEDED" stroke-width="0.55"/>
<line x1="43.05" y1="305.95" x2="97.75" y2="305.95" stroke="#EDEDED" stroke-width="0.55"/>
<line x1="43.05" y1="285.8" x2="97.75" y2="285.8" stroke="#EDEDED" stroke-width="0.55"/>
<line x1="43.05" y1="265.65" x2="97.75" y2="265.65" stroke="#EDEDED" stroke-width="0.55"/>
<line x1="47.61" y1="249.9" x2="47.61" y2="351.2" stroke="#EDEDED" stroke-width="0.55"/>
<line x1="55.21" y1="249.9" x2="55.21" y2="351.2" stroke="#EDEDED" stroke-width="0.55"/>
<line x1="62.8" y1="249.9" x2="62.8" y2="351.2" stroke="#EDEDED" stroke-width="0.55"/>
<line x1="70.4" y1="249.9" x2="70.4" y2="351.2" stroke="#EDEDED" stroke-width="0.55"/>
<line x1="78" y1="249.9" x2="78" y2="351.2" stroke="#EDEDED" stroke-width="0.55"/>
<line x1="85.59" y1="249.9" x2="85.59" y2="351.2" stroke="#EDEDED" stroke-width="0.55"/>
<line x1="93.19" y1="249.9" x2="93.19" y2="351.2" stroke="#EDEDED" stroke-width="0.55"/>
<rect x="44.19" y="318.85" width="6.84" height="27.4" fill="#9DC3E6" stroke="#000" stroke-width="1"/>
<line x1="47.61" y1="315.69" x2="47.61" y2="322.35" stroke="#444444" stroke-width="0.7"/>
<line x1="46.06" y1="315.69" x2="49.16" y2="315.69" stroke="#444444" stroke-width="0.7"/>
<line x1="46.06" y1="322.35" x2="49.16" y2="322.35" stroke="#444444" stroke-width="0.7"/>
<rect x="51.79" y="339.52" width="6.84" height="6.73" fill="#F4A88E" stroke="#000" stroke-width="1"/>
<line x1="55.21" y1="337.94" x2="55.21" y2="341.27" stroke="#444444" stroke-width="0.7"/>
<line x1="53.66" y1="337.94" x2="56.76" y2="337.94" stroke="#444444" stroke-width="0.7"/>
<line x1="53.66" y1="341.27" x2="56.76" y2="341.27" stroke="#444444" stroke-width="0.7"/>
<rect x="59.38" y="338.64" width="6.84" height="7.61" fill="#5A9E6F" stroke="#000" stroke-width="1"/>
<line x1="62.8" y1="337.59" x2="62.8" y2="339.69" stroke="#444444" stroke-width="0.7"/>
<line x1="61.25" y1="337.59" x2="64.35" y2="337.59" stroke="#444444" stroke-width="0.7"/>
<line x1="61.25" y1="339.69" x2="64.35" y2="339.69" stroke="#444444" stroke-width="0.7"/>
<rect x="66.98" y="334.44" width="6.84" height="11.81" fill="#9C65A7" stroke="#000" stroke-width="1"/>
<line x1="70.4" y1="331.81" x2="70.4" y2="337.07" stroke="#444444" stroke-width="0.7"/>
<line x1="68.85" y1="331.81" x2="71.95" y2="331.81" stroke="#444444" stroke-width="0.7"/>
<line x1="68.85" y1="337.07" x2="71.95" y2="337.07" stroke="#444444" stroke-width="0.7"/>
<rect x="74.58" y="336.36" width="6.84" height="9.89" fill="#A6A6A6" stroke="#000" stroke-width="1"/>
<line x1="78" y1="334.44" x2="78" y2="338.47" stroke="#444444" stroke-width="0.7"/>
<line x1="76.45" y1="334.44" x2="79.55" y2="334.44" stroke="#444444" stroke-width="0.7"/>
<line x1="76.45" y1="338.47" x2="79.55" y2="338.47" stroke="#444444" stroke-width="0.7"/>
<rect x="82.18" y="335.14" width="6.84" height="11.11" fill="#F0E4A6" stroke="#000" stroke-width="1"/>
<line x1="85.59" y1="333.04" x2="85.59" y2="337.24" stroke="#444444" stroke-width="0.7"/>
<line x1="84.04" y1="333.04" x2="87.14" y2="333.04" stroke="#444444" stroke-width="0.7"/>
<line x1="84.04" y1="337.24" x2="87.14" y2="337.24" stroke="#444444" stroke-width="0.7"/>
<rect x="89.77" y="338.29" width="6.84" height="7.96" fill="#4D4D4D" stroke="#000" stroke-width="1"/>
<line x1="93.19" y1="336.36" x2="93.19" y2="340.22" stroke="#444444" stroke-width="0.7"/>
<line x1="91.64" y1="336.36" x2="94.74" y2="336.36" stroke="#444444" stroke-width="0.7"/>
<line x1="91.64" y1="340.22" x2="94.74" y2="340.22" stroke="#444444" stroke-width="0.7"/>
<line x1="103.1" y1="346.25" x2="157.8" y2="346.25" stroke="#EDEDED" stroke-width="0.55"/>
<line x1="103.1" y1="326.1" x2="157.8" y2="326.1" stroke="#EDEDED" stroke-width="0.55"/>
<line x1="103.1" y1="305.95" x2="157.8" y2="305.95" stroke="#EDEDED" stroke-width="0.55"/>
<line x1="103.1" y1="285.8" x2="157.8" y2="285.8" stroke="#EDEDED" stroke-width="0.55"/>
<line x1="103.1" y1="265.65" x2="157.8" y2="265.65" stroke="#EDEDED" stroke-width="0.55"/>
<line x1="107.66" y1="249.9" x2="107.66" y2="351.2" stroke="#EDEDED" stroke-width="0.55"/>
<line x1="115.26" y1="249.9" x2="115.26" y2="351.2" stroke="#EDEDED" stroke-width="0.55"/>
<line x1="122.85" y1="249.9" x2="122.85" y2="351.2" stroke="#EDEDED" stroke-width="0.55"/>
<line x1="130.45" y1="249.9" x2="130.45" y2="351.2" stroke="#EDEDED" stroke-width="0.55"/>
<line x1="138.05" y1="249.9" x2="138.05" y2="351.2" stroke="#EDEDED" stroke-width="0.55"/>
<line x1="145.64" y1="249.9" x2="145.64" y2="351.2" stroke="#EDEDED" stroke-width="0.55"/>
<line x1="153.24" y1="249.9" x2="153.24" y2="351.2" stroke="#EDEDED" stroke-width="0.55"/>
<rect x="104.24" y="304.48" width="6.84" height="41.77" fill="#9DC3E6" stroke="#000" stroke-width="1"/>
<line x1="107.66" y1="300.98" x2="107.66" y2="307.99" stroke="#444444" stroke-width="0.7"/>
<line x1="106.11" y1="300.98" x2="109.21" y2="300.98" stroke="#444444" stroke-width="0.7"/>
<line x1="106.11" y1="307.99" x2="109.21" y2="307.99" stroke="#444444" stroke-width="0.7"/>
<rect x="111.84" y="323.23" width="6.84" height="23.02" fill="#F4A88E" stroke="#000" stroke-width="1"/>
<line x1="115.26" y1="320.42" x2="115.26" y2="326.2" stroke="#444444" stroke-width="0.7"/>
<line x1="113.71" y1="320.42" x2="116.81" y2="320.42" stroke="#444444" stroke-width="0.7"/>
<line x1="113.71" y1="326.2" x2="116.81" y2="326.2" stroke="#444444" stroke-width="0.7"/>
<rect x="119.43" y="339.34" width="6.84" height="6.91" fill="#5A9E6F" stroke="#000" stroke-width="1"/>
<line x1="122.85" y1="338.29" x2="122.85" y2="340.39" stroke="#444444" stroke-width="0.7"/>
<line x1="121.3" y1="338.29" x2="124.4" y2="338.29" stroke="#444444" stroke-width="0.7"/>
<line x1="121.3" y1="340.39" x2="124.4" y2="340.39" stroke="#444444" stroke-width="0.7"/>
<rect x="127.03" y="321.12" width="6.84" height="25.13" fill="#9C65A7" stroke="#000" stroke-width="1"/>
<line x1="130.45" y1="316.22" x2="130.45" y2="326.38" stroke="#444444" stroke-width="0.7"/>
<line x1="128.9" y1="316.22" x2="132" y2="316.22" stroke="#444444" stroke-width="0.7"/>
<line x1="128.9" y1="326.38" x2="132" y2="326.38" stroke="#444444" stroke-width="0.7"/>
<rect x="134.63" y="322.35" width="6.84" height="23.9" fill="#A6A6A6" stroke="#000" stroke-width="1"/>
<line x1="138.05" y1="318.32" x2="138.05" y2="327.08" stroke="#444444" stroke-width="0.7"/>
<line x1="136.5" y1="318.32" x2="139.6" y2="318.32" stroke="#444444" stroke-width="0.7"/>
<line x1="136.5" y1="327.08" x2="139.6" y2="327.08" stroke="#444444" stroke-width="0.7"/>
<rect x="142.23" y="321.3" width="6.84" height="24.95" fill="#F0E4A6" stroke="#000" stroke-width="1"/>
<line x1="145.64" y1="318.5" x2="145.64" y2="324.45" stroke="#444444" stroke-width="0.7"/>
<line x1="144.09" y1="318.5" x2="147.19" y2="318.5" stroke="#444444" stroke-width="0.7"/>
<line x1="144.09" y1="324.45" x2="147.19" y2="324.45" stroke="#444444" stroke-width="0.7"/>
<rect x="149.82" y="331.28" width="6.84" height="14.97" fill="#4D4D4D" stroke="#000" stroke-width="1"/>
<line x1="153.24" y1="328.13" x2="153.24" y2="334.61" stroke="#444444" stroke-width="0.7"/>
<line x1="151.69" y1="328.13" x2="154.79" y2="328.13" stroke="#444444" stroke-width="0.7"/>
<line x1="151.69" y1="334.61" x2="154.79" y2="334.61" stroke="#444444" stroke-width="0.7"/>
<line x1="163.15" y1="346.25" x2="217.85" y2="346.25" stroke="#EDEDED" stroke-width="0.55"/>
<line x1="163.15" y1="326.1" x2="217.85" y2="326.1" stroke="#EDEDED" stroke-width="0.55"/>
<line x1="163.15" y1="305.95" x2="217.85" y2="305.95" stroke="#EDEDED" stroke-width="0.55"/>
<line x1="163.15" y1="285.8" x2="217.85" y2="285.8" stroke="#EDEDED" stroke-width="0.55"/>
<line x1="163.15" y1="265.65" x2="217.85" y2="265.65" stroke="#EDEDED" stroke-width="0.55"/>
<line x1="167.71" y1="249.9" x2="167.71" y2="351.2" stroke="#EDEDED" stroke-width="0.55"/>
<line x1="175.31" y1="249.9" x2="175.31" y2="351.2" stroke="#EDEDED" stroke-width="0.55"/>
<line x1="182.9" y1="249.9" x2="182.9" y2="351.2" stroke="#EDEDED" stroke-width="0.55"/>
<line x1="190.5" y1="249.9" x2="190.5" y2="351.2" stroke="#EDEDED" stroke-width="0.55"/>
<line x1="198.1" y1="249.9" x2="198.1" y2="351.2" stroke="#EDEDED" stroke-width="0.55"/>
<line x1="205.69" y1="249.9" x2="205.69" y2="351.2" stroke="#EDEDED" stroke-width="0.55"/>
<line x1="213.29" y1="249.9" x2="213.29" y2="351.2" stroke="#EDEDED" stroke-width="0.55"/>
<rect x="164.29" y="285.91" width="6.84" height="60.34" fill="#9DC3E6" stroke="#000" stroke-width="1"/>
<line x1="167.71" y1="282.58" x2="167.71" y2="289.42" stroke="#444444" stroke-width="0.7"/>
<line x1="166.16" y1="282.58" x2="169.26" y2="282.58" stroke="#444444" stroke-width="0.7"/>
<line x1="166.16" y1="289.42" x2="169.26" y2="289.42" stroke="#444444" stroke-width="0.7"/>
<rect x="171.89" y="296.6" width="6.84" height="49.65" fill="#F4A88E" stroke="#000" stroke-width="1"/>
<line x1="175.31" y1="293.27" x2="175.31" y2="300.28" stroke="#444444" stroke-width="0.7"/>
<line x1="173.76" y1="293.27" x2="176.86" y2="293.27" stroke="#444444" stroke-width="0.7"/>
<line x1="173.76" y1="300.28" x2="176.86" y2="300.28" stroke="#444444" stroke-width="0.7"/>
<rect x="179.48" y="338.99" width="6.84" height="7.26" fill="#5A9E6F" stroke="#000" stroke-width="1"/>
<line x1="182.9" y1="337.94" x2="182.9" y2="340.04" stroke="#444444" stroke-width="0.7"/>
<line x1="181.35" y1="337.94" x2="184.45" y2="337.94" stroke="#444444" stroke-width="0.7"/>
<line x1="181.35" y1="340.04" x2="184.45" y2="340.04" stroke="#444444" stroke-width="0.7"/>
<rect x="187.08" y="299.93" width="6.84" height="46.32" fill="#9C65A7" stroke="#000" stroke-width="1"/>
<line x1="190.5" y1="290.99" x2="190.5" y2="308.69" stroke="#444444" stroke-width="0.7"/>
<line x1="188.95" y1="290.99" x2="192.05" y2="290.99" stroke="#444444" stroke-width="0.7"/>
<line x1="188.95" y1="308.69" x2="192.05" y2="308.69" stroke="#444444" stroke-width="0.7"/>
<rect x="194.68" y="298.35" width="6.84" height="47.9" fill="#A6A6A6" stroke="#000" stroke-width="1"/>
<line x1="198.1" y1="291.69" x2="198.1" y2="304.66" stroke="#444444" stroke-width="0.7"/>
<line x1="196.55" y1="291.69" x2="199.65" y2="291.69" stroke="#444444" stroke-width="0.7"/>
<line x1="196.55" y1="304.66" x2="199.65" y2="304.66" stroke="#444444" stroke-width="0.7"/>
<rect x="202.28" y="299.58" width="6.84" height="46.67" fill="#F0E4A6" stroke="#000" stroke-width="1"/>
<line x1="205.69" y1="295.55" x2="205.69" y2="303.61" stroke="#444444" stroke-width="0.7"/>
<line x1="204.14" y1="295.55" x2="207.24" y2="295.55" stroke="#444444" stroke-width="0.7"/>
<line x1="204.14" y1="303.61" x2="207.24" y2="303.61" stroke="#444444" stroke-width="0.7"/>
<rect x="209.87" y="319.55" width="6.84" height="26.7" fill="#4D4D4D" stroke="#000" stroke-width="1"/>
<line x1="213.29" y1="314.47" x2="213.29" y2="324.8" stroke="#444444" stroke-width="0.7"/>
<line x1="211.74" y1="314.47" x2="214.84" y2="314.47" stroke="#444444" stroke-width="0.7"/>
<line x1="211.74" y1="324.8" x2="214.84" y2="324.8" stroke="#444444" stroke-width="0.7"/>
<line x1="223.2" y1="346.25" x2="277.9" y2="346.25" stroke="#EDEDED" stroke-width="0.55"/>
<line x1="223.2" y1="326.1" x2="277.9" y2="326.1" stroke="#EDEDED" stroke-width="0.55"/>
<line x1="223.2" y1="305.95" x2="277.9" y2="305.95" stroke="#EDEDED" stroke-width="0.55"/>
<line x1="223.2" y1="285.8" x2="277.9" y2="285.8" stroke="#EDEDED" stroke-width="0.55"/>
<line x1="223.2" y1="265.65" x2="277.9" y2="265.65" stroke="#EDEDED" stroke-width="0.55"/>
<line x1="227.76" y1="249.9" x2="227.76" y2="351.2" stroke="#EDEDED" stroke-width="0.55"/>
<line x1="235.36" y1="249.9" x2="235.36" y2="351.2" stroke="#EDEDED" stroke-width="0.55"/>
<line x1="242.95" y1="249.9" x2="242.95" y2="351.2" stroke="#EDEDED" stroke-width="0.55"/>
<line x1="250.55" y1="249.9" x2="250.55" y2="351.2" stroke="#EDEDED" stroke-width="0.55"/>
<line x1="258.15" y1="249.9" x2="258.15" y2="351.2" stroke="#EDEDED" stroke-width="0.55"/>
<line x1="265.74" y1="249.9" x2="265.74" y2="351.2" stroke="#EDEDED" stroke-width="0.55"/>
<line x1="273.34" y1="249.9" x2="273.34" y2="351.2" stroke="#EDEDED" stroke-width="0.55"/>
<rect x="224.34" y="265.42" width="6.84" height="80.83" fill="#9DC3E6" stroke="#000" stroke-width="1"/>
<line x1="227.76" y1="261.56" x2="227.76" y2="269.27" stroke="#444444" stroke-width="0.7"/>
<line x1="226.21" y1="261.56" x2="229.31" y2="261.56" stroke="#444444" stroke-width="0.7"/>
<line x1="226.21" y1="269.27" x2="229.31" y2="269.27" stroke="#444444" stroke-width="0.7"/>
<rect x="231.94" y="259.64" width="6.84" height="86.61" fill="#F4A88E" stroke="#000" stroke-width="1"/>
<line x1="235.36" y1="256.48" x2="235.36" y2="263.14" stroke="#444444" stroke-width="0.7"/>
<line x1="233.81" y1="256.48" x2="236.91" y2="256.48" stroke="#444444" stroke-width="0.7"/>
<line x1="233.81" y1="263.14" x2="236.91" y2="263.14" stroke="#444444" stroke-width="0.7"/>
<rect x="239.53" y="338.99" width="6.84" height="7.26" fill="#5A9E6F" stroke="#000" stroke-width="1"/>
<line x1="242.95" y1="337.94" x2="242.95" y2="340.04" stroke="#444444" stroke-width="0.7"/>
<line x1="241.4" y1="337.94" x2="244.5" y2="337.94" stroke="#444444" stroke-width="0.7"/>
<line x1="241.4" y1="340.04" x2="244.5" y2="340.04" stroke="#444444" stroke-width="0.7"/>
<rect x="247.13" y="269.45" width="6.84" height="76.8" fill="#9C65A7" stroke="#000" stroke-width="1"/>
<line x1="250.55" y1="254.38" x2="250.55" y2="284.51" stroke="#444444" stroke-width="0.7"/>
<line x1="249" y1="254.38" x2="252.1" y2="254.38" stroke="#444444" stroke-width="0.7"/>
<line x1="249" y1="284.51" x2="252.1" y2="284.51" stroke="#444444" stroke-width="0.7"/>
<rect x="254.73" y="263.49" width="6.84" height="82.76" fill="#A6A6A6" stroke="#000" stroke-width="1"/>
<line x1="258.15" y1="256.48" x2="258.15" y2="270.67" stroke="#444444" stroke-width="0.7"/>
<line x1="256.6" y1="256.48" x2="259.7" y2="256.48" stroke="#444444" stroke-width="0.7"/>
<line x1="256.6" y1="270.67" x2="259.7" y2="270.67" stroke="#444444" stroke-width="0.7"/>
<rect x="262.33" y="268.04" width="6.84" height="78.21" fill="#F0E4A6" stroke="#000" stroke-width="1"/>
<line x1="265.74" y1="264.36" x2="265.74" y2="271.72" stroke="#444444" stroke-width="0.7"/>
<line x1="264.19" y1="264.36" x2="267.29" y2="264.36" stroke="#444444" stroke-width="0.7"/>
<line x1="264.19" y1="271.72" x2="267.29" y2="271.72" stroke="#444444" stroke-width="0.7"/>
<rect x="269.92" y="306.06" width="6.84" height="40.19" fill="#4D4D4D" stroke="#000" stroke-width="1"/>
<line x1="273.34" y1="297.3" x2="273.34" y2="314.82" stroke="#444444" stroke-width="0.7"/>
<line x1="271.79" y1="297.3" x2="274.89" y2="297.3" stroke="#444444" stroke-width="0.7"/>
<line x1="271.79" y1="314.82" x2="274.89" y2="314.82" stroke="#444444" stroke-width="0.7"/>
<line x1="47.61" y1="350.8" x2="47.61" y2="353.55" stroke="#333333" stroke-width="1.25"/>
<line x1="55.21" y1="350.8" x2="55.21" y2="353.55" stroke="#333333" stroke-width="1.25"/>
<line x1="62.8" y1="350.8" x2="62.8" y2="353.55" stroke="#333333" stroke-width="1.25"/>
<line x1="70.4" y1="350.8" x2="70.4" y2="353.55" stroke="#333333" stroke-width="1.25"/>
<line x1="78" y1="350.8" x2="78" y2="353.55" stroke="#333333" stroke-width="1.25"/>
<line x1="85.59" y1="350.8" x2="85.59" y2="353.55" stroke="#333333" stroke-width="1.25"/>
<line x1="93.19" y1="350.8" x2="93.19" y2="353.55" stroke="#333333" stroke-width="1.25"/>
<line x1="107.66" y1="350.8" x2="107.66" y2="353.55" stroke="#333333" stroke-width="1.25"/>
<line x1="115.26" y1="350.8" x2="115.26" y2="353.55" stroke="#333333" stroke-width="1.25"/>
<line x1="122.85" y1="350.8" x2="122.85" y2="353.55" stroke="#333333" stroke-width="1.25"/>
<line x1="130.45" y1="350.8" x2="130.45" y2="353.55" stroke="#333333" stroke-width="1.25"/>
<line x1="138.05" y1="350.8" x2="138.05" y2="353.55" stroke="#333333" stroke-width="1.25"/>
<line x1="145.64" y1="350.8" x2="145.64" y2="353.55" stroke="#333333" stroke-width="1.25"/>
<line x1="153.24" y1="350.8" x2="153.24" y2="353.55" stroke="#333333" stroke-width="1.25"/>
<line x1="167.71" y1="350.8" x2="167.71" y2="353.55" stroke="#333333" stroke-width="1.25"/>
<line x1="175.31" y1="350.8" x2="175.31" y2="353.55" stroke="#333333" stroke-width="1.25"/>
<line x1="182.9" y1="350.8" x2="182.9" y2="353.55" stroke="#333333" stroke-width="1.25"/>
<line x1="190.5" y1="350.8" x2="190.5" y2="353.55" stroke="#333333" stroke-width="1.25"/>
<line x1="198.1" y1="350.8" x2="198.1" y2="353.55" stroke="#333333" stroke-width="1.25"/>
<line x1="205.69" y1="350.8" x2="205.69" y2="353.55" stroke="#333333" stroke-width="1.25"/>
<line x1="213.29" y1="350.8" x2="213.29" y2="353.55" stroke="#333333" stroke-width="1.25"/>
<line x1="227.76" y1="350.8" x2="227.76" y2="353.55" stroke="#333333" stroke-width="1.25"/>
<line x1="235.36" y1="350.8" x2="235.36" y2="353.55" stroke="#333333" stroke-width="1.25"/>
<line x1="242.95" y1="350.8" x2="242.95" y2="353.55" stroke="#333333" stroke-width="1.25"/>
<line x1="250.55" y1="350.8" x2="250.55" y2="353.55" stroke="#333333" stroke-width="1.25"/>
<line x1="258.15" y1="350.8" x2="258.15" y2="353.55" stroke="#333333" stroke-width="1.25"/>
<line x1="265.74" y1="350.8" x2="265.74" y2="353.55" stroke="#333333" stroke-width="1.25"/>
<line x1="273.34" y1="350.8" x2="273.34" y2="353.55" stroke="#333333" stroke-width="1.25"/>
<rect x="349.95" y="9.7" width="54.7" height="28.1" fill="#D9D9D9"/>
<rect x="410" y="9.7" width="54.7" height="28.1" fill="#D9D9D9"/>
<rect x="470.05" y="9.7" width="54.7" height="28.1" fill="#D9D9D9"/>
<rect x="530.1" y="9.7" width="54.7" height="28.1" fill="#D9D9D9"/>
<rect x="584.85" y="37.8" width="17.95" height="101.3" fill="#D9D9D9"/>
<line x1="347" y1="134.15" x2="349.95" y2="134.15" stroke="#333333" stroke-width="0.95"/>
<line x1="347" y1="115.7" x2="349.95" y2="115.7" stroke="#333333" stroke-width="0.95"/>
<line x1="347" y1="97.25" x2="349.95" y2="97.25" stroke="#333333" stroke-width="0.95"/>
<line x1="347" y1="78.8" x2="349.95" y2="78.8" stroke="#333333" stroke-width="0.95"/>
<line x1="347" y1="60.35" x2="349.95" y2="60.35" stroke="#333333" stroke-width="0.95"/>
<line x1="347" y1="41.9" x2="349.95" y2="41.9" stroke="#333333" stroke-width="0.95"/>
<line x1="349.95" y1="134.15" x2="404.65" y2="134.15" stroke="#EDEDED" stroke-width="0.55"/>
<line x1="349.95" y1="115.7" x2="404.65" y2="115.7" stroke="#EDEDED" stroke-width="0.55"/>
<line x1="349.95" y1="97.25" x2="404.65" y2="97.25" stroke="#EDEDED" stroke-width="0.55"/>
<line x1="349.95" y1="78.8" x2="404.65" y2="78.8" stroke="#EDEDED" stroke-width="0.55"/>
<line x1="349.95" y1="60.35" x2="404.65" y2="60.35" stroke="#EDEDED" stroke-width="0.55"/>
<line x1="349.95" y1="41.9" x2="404.65" y2="41.9" stroke="#EDEDED" stroke-width="0.55"/>
<line x1="354.51" y1="37.8" x2="354.51" y2="139.1" stroke="#EDEDED" stroke-width="0.55"/>
<line x1="362.11" y1="37.8" x2="362.11" y2="139.1" stroke="#EDEDED" stroke-width="0.55"/>
<line x1="369.7" y1="37.8" x2="369.7" y2="139.1" stroke="#EDEDED" stroke-width="0.55"/>
<line x1="377.3" y1="37.8" x2="377.3" y2="139.1" stroke="#EDEDED" stroke-width="0.55"/>
<line x1="384.9" y1="37.8" x2="384.9" y2="139.1" stroke="#EDEDED" stroke-width="0.55"/>
<line x1="392.49" y1="37.8" x2="392.49" y2="139.1" stroke="#EDEDED" stroke-width="0.55"/>
<line x1="400.09" y1="37.8" x2="400.09" y2="139.1" stroke="#EDEDED" stroke-width="0.55"/>
<rect x="351.09" y="113.74" width="6.84" height="20.41" fill="#9DC3E6" stroke="#000" stroke-width="1"/>
<line x1="354.51" y1="110.23" x2="354.51" y2="117.24" stroke="#444444" stroke-width="0.7"/>
<line x1="352.96" y1="110.23" x2="356.06" y2="110.23" stroke="#444444" stroke-width="0.7"/>
<line x1="352.96" y1="117.24" x2="356.06" y2="117.24" stroke="#444444" stroke-width="0.7"/>
<rect x="358.69" y="131.26" width="6.84" height="2.89" fill="#F4A88E" stroke="#000" stroke-width="1"/>
<line x1="362.11" y1="130.2" x2="362.11" y2="132.31" stroke="#444444" stroke-width="0.7"/>
<line x1="360.56" y1="130.2" x2="363.66" y2="130.2" stroke="#444444" stroke-width="0.7"/>
<line x1="360.56" y1="132.31" x2="363.66" y2="132.31" stroke="#444444" stroke-width="0.7"/>
<rect x="366.28" y="117.24" width="6.84" height="16.91" fill="#5A9E6F" stroke="#000" stroke-width="1"/>
<line x1="369.7" y1="114.26" x2="369.7" y2="120.39" stroke="#444444" stroke-width="0.7"/>
<line x1="368.15" y1="114.26" x2="371.25" y2="114.26" stroke="#444444" stroke-width="0.7"/>
<line x1="368.15" y1="120.39" x2="371.25" y2="120.39" stroke="#444444" stroke-width="0.7"/>
<rect x="373.88" y="120.39" width="6.84" height="13.76" fill="#9C65A7" stroke="#000" stroke-width="1"/>
<line x1="377.3" y1="117.24" x2="377.3" y2="123.72" stroke="#444444" stroke-width="0.7"/>
<line x1="375.75" y1="117.24" x2="378.85" y2="117.24" stroke="#444444" stroke-width="0.7"/>
<line x1="375.75" y1="123.72" x2="378.85" y2="123.72" stroke="#444444" stroke-width="0.7"/>
<rect x="381.48" y="127.58" width="6.84" height="6.57" fill="#A6A6A6" stroke="#000" stroke-width="1"/>
<line x1="384.9" y1="125.47" x2="384.9" y2="129.5" stroke="#444444" stroke-width="0.7"/>
<line x1="383.35" y1="125.47" x2="386.45" y2="125.47" stroke="#444444" stroke-width="0.7"/>
<line x1="383.35" y1="129.5" x2="386.45" y2="129.5" stroke="#444444" stroke-width="0.7"/>
<rect x="389.08" y="115.31" width="6.84" height="18.84" fill="#F0E4A6" stroke="#000" stroke-width="1"/>
<line x1="392.49" y1="112.51" x2="392.49" y2="118.29" stroke="#444444" stroke-width="0.7"/>
<line x1="390.94" y1="112.51" x2="394.04" y2="112.51" stroke="#444444" stroke-width="0.7"/>
<line x1="390.94" y1="118.29" x2="394.04" y2="118.29" stroke="#444444" stroke-width="0.7"/>
<rect x="396.67" y="123.37" width="6.84" height="10.78" fill="#4D4D4D" stroke="#000" stroke-width="1"/>
<line x1="400.09" y1="120.39" x2="400.09" y2="126.53" stroke="#444444" stroke-width="0.7"/>
<line x1="398.54" y1="120.39" x2="401.64" y2="120.39" stroke="#444444" stroke-width="0.7"/>
<line x1="398.54" y1="126.53" x2="401.64" y2="126.53" stroke="#444444" stroke-width="0.7"/>
<line x1="410" y1="134.15" x2="464.7" y2="134.15" stroke="#EDEDED" stroke-width="0.55"/>
<line x1="410" y1="115.7" x2="464.7" y2="115.7" stroke="#EDEDED" stroke-width="0.55"/>
<line x1="410" y1="97.25" x2="464.7" y2="97.25" stroke="#EDEDED" stroke-width="0.55"/>
<line x1="410" y1="78.8" x2="464.7" y2="78.8" stroke="#EDEDED" stroke-width="0.55"/>
<line x1="410" y1="60.35" x2="464.7" y2="60.35" stroke="#EDEDED" stroke-width="0.55"/>
<line x1="410" y1="41.9" x2="464.7" y2="41.9" stroke="#EDEDED" stroke-width="0.55"/>
<line x1="414.56" y1="37.8" x2="414.56" y2="139.1" stroke="#EDEDED" stroke-width="0.55"/>
<line x1="422.16" y1="37.8" x2="422.16" y2="139.1" stroke="#EDEDED" stroke-width="0.55"/>
<line x1="429.75" y1="37.8" x2="429.75" y2="139.1" stroke="#EDEDED" stroke-width="0.55"/>
<line x1="437.35" y1="37.8" x2="437.35" y2="139.1" stroke="#EDEDED" stroke-width="0.55"/>
<line x1="444.95" y1="37.8" x2="444.95" y2="139.1" stroke="#EDEDED" stroke-width="0.55"/>
<line x1="452.54" y1="37.8" x2="452.54" y2="139.1" stroke="#EDEDED" stroke-width="0.55"/>
<line x1="460.14" y1="37.8" x2="460.14" y2="139.1" stroke="#EDEDED" stroke-width="0.55"/>
<rect x="411.14" y="110.23" width="6.84" height="23.92" fill="#9DC3E6" stroke="#000" stroke-width="1"/>
<line x1="414.56" y1="106.2" x2="414.56" y2="114.26" stroke="#444444" stroke-width="0.7"/>
<line x1="413.01" y1="106.2" x2="416.11" y2="106.2" stroke="#444444" stroke-width="0.7"/>
<line x1="413.01" y1="114.26" x2="416.11" y2="114.26" stroke="#444444" stroke-width="0.7"/>
<rect x="418.74" y="124.42" width="6.84" height="9.73" fill="#F4A88E" stroke="#000" stroke-width="1"/>
<line x1="422.16" y1="121.8" x2="422.16" y2="127.23" stroke="#444444" stroke-width="0.7"/>
<line x1="420.61" y1="121.8" x2="423.71" y2="121.8" stroke="#444444" stroke-width="0.7"/>
<line x1="420.61" y1="127.23" x2="423.71" y2="127.23" stroke="#444444" stroke-width="0.7"/>
<rect x="426.33" y="117.42" width="6.84" height="16.73" fill="#5A9E6F" stroke="#000" stroke-width="1"/>
<line x1="429.75" y1="114.44" x2="429.75" y2="120.39" stroke="#444444" stroke-width="0.7"/>
<line x1="428.2" y1="114.44" x2="431.3" y2="114.44" stroke="#444444" stroke-width="0.7"/>
<line x1="428.2" y1="120.39" x2="431.3" y2="120.39" stroke="#444444" stroke-width="0.7"/>
<rect x="433.93" y="117.42" width="6.84" height="16.73" fill="#9C65A7" stroke="#000" stroke-width="1"/>
<line x1="437.35" y1="113.91" x2="437.35" y2="121.09" stroke="#444444" stroke-width="0.7"/>
<line x1="435.8" y1="113.91" x2="438.9" y2="113.91" stroke="#444444" stroke-width="0.7"/>
<line x1="435.8" y1="121.09" x2="438.9" y2="121.09" stroke="#444444" stroke-width="0.7"/>
<rect x="441.53" y="122.5" width="6.84" height="11.65" fill="#A6A6A6" stroke="#000" stroke-width="1"/>
<line x1="444.95" y1="119.34" x2="444.95" y2="125.82" stroke="#444444" stroke-width="0.7"/>
<line x1="443.4" y1="119.34" x2="446.5" y2="119.34" stroke="#444444" stroke-width="0.7"/>
<line x1="443.4" y1="125.82" x2="446.5" y2="125.82" stroke="#444444" stroke-width="0.7"/>
<rect x="449.13" y="111.46" width="6.84" height="22.69" fill="#F0E4A6" stroke="#000" stroke-width="1"/>
<line x1="452.54" y1="108.31" x2="452.54" y2="114.79" stroke="#444444" stroke-width="0.7"/>
<line x1="450.99" y1="108.31" x2="454.09" y2="108.31" stroke="#444444" stroke-width="0.7"/>
<line x1="450.99" y1="114.79" x2="454.09" y2="114.79" stroke="#444444" stroke-width="0.7"/>
<rect x="456.72" y="117.42" width="6.84" height="16.73" fill="#4D4D4D" stroke="#000" stroke-width="1"/>
<line x1="460.14" y1="114.26" x2="460.14" y2="120.74" stroke="#444444" stroke-width="0.7"/>
<line x1="458.59" y1="114.26" x2="461.69" y2="114.26" stroke="#444444" stroke-width="0.7"/>
<line x1="458.59" y1="120.74" x2="461.69" y2="120.74" stroke="#444444" stroke-width="0.7"/>
<line x1="470.05" y1="134.15" x2="524.75" y2="134.15" stroke="#EDEDED" stroke-width="0.55"/>
<line x1="470.05" y1="115.7" x2="524.75" y2="115.7" stroke="#EDEDED" stroke-width="0.55"/>
<line x1="470.05" y1="97.25" x2="524.75" y2="97.25" stroke="#EDEDED" stroke-width="0.55"/>
<line x1="470.05" y1="78.8" x2="524.75" y2="78.8" stroke="#EDEDED" stroke-width="0.55"/>
<line x1="470.05" y1="60.35" x2="524.75" y2="60.35" stroke="#EDEDED" stroke-width="0.55"/>
<line x1="470.05" y1="41.9" x2="524.75" y2="41.9" stroke="#EDEDED" stroke-width="0.55"/>
<line x1="474.61" y1="37.8" x2="474.61" y2="139.1" stroke="#EDEDED" stroke-width="0.55"/>
<line x1="482.21" y1="37.8" x2="482.21" y2="139.1" stroke="#EDEDED" stroke-width="0.55"/>
<line x1="489.8" y1="37.8" x2="489.8" y2="139.1" stroke="#EDEDED" stroke-width="0.55"/>
<line x1="497.4" y1="37.8" x2="497.4" y2="139.1" stroke="#EDEDED" stroke-width="0.55"/>
<line x1="505" y1="37.8" x2="505" y2="139.1" stroke="#EDEDED" stroke-width="0.55"/>
<line x1="512.59" y1="37.8" x2="512.59" y2="139.1" stroke="#EDEDED" stroke-width="0.55"/>
<line x1="520.19" y1="37.8" x2="520.19" y2="139.1" stroke="#EDEDED" stroke-width="0.55"/>
<rect x="471.19" y="104.28" width="6.84" height="29.87" fill="#9DC3E6" stroke="#000" stroke-width="1"/>
<line x1="474.61" y1="99.72" x2="474.61" y2="109.01" stroke="#444444" stroke-width="0.7"/>
<line x1="473.06" y1="99.72" x2="476.16" y2="99.72" stroke="#444444" stroke-width="0.7"/>
<line x1="473.06" y1="109.01" x2="476.16" y2="109.01" stroke="#444444" stroke-width="0.7"/>
<rect x="478.79" y="113.21" width="6.84" height="20.94" fill="#F4A88E" stroke="#000" stroke-width="1"/>
<line x1="482.21" y1="109.53" x2="482.21" y2="116.72" stroke="#444444" stroke-width="0.7"/>
<line x1="480.66" y1="109.53" x2="483.76" y2="109.53" stroke="#444444" stroke-width="0.7"/>
<line x1="480.66" y1="116.72" x2="483.76" y2="116.72" stroke="#444444" stroke-width="0.7"/>
<rect x="486.38" y="116.89" width="6.84" height="17.26" fill="#5A9E6F" stroke="#000" stroke-width="1"/>
<line x1="489.8" y1="113.91" x2="489.8" y2="119.87" stroke="#444444" stroke-width="0.7"/>
<line x1="488.25" y1="113.91" x2="491.35" y2="113.91" stroke="#444444" stroke-width="0.7"/>
<line x1="488.25" y1="119.87" x2="491.35" y2="119.87" stroke="#444444" stroke-width="0.7"/>
<rect x="493.98" y="109.36" width="6.84" height="24.79" fill="#9C65A7" stroke="#000" stroke-width="1"/>
<line x1="497.4" y1="105.33" x2="497.4" y2="113.21" stroke="#444444" stroke-width="0.7"/>
<line x1="495.85" y1="105.33" x2="498.95" y2="105.33" stroke="#444444" stroke-width="0.7"/>
<line x1="495.85" y1="113.21" x2="498.95" y2="113.21" stroke="#444444" stroke-width="0.7"/>
<rect x="501.58" y="111.46" width="6.84" height="22.69" fill="#A6A6A6" stroke="#000" stroke-width="1"/>
<line x1="505" y1="106.38" x2="505" y2="116.72" stroke="#444444" stroke-width="0.7"/>
<line x1="503.45" y1="106.38" x2="506.55" y2="106.38" stroke="#444444" stroke-width="0.7"/>
<line x1="503.45" y1="116.72" x2="506.55" y2="116.72" stroke="#444444" stroke-width="0.7"/>
<rect x="509.18" y="103.58" width="6.84" height="30.57" fill="#F0E4A6" stroke="#000" stroke-width="1"/>
<line x1="512.59" y1="99.9" x2="512.59" y2="107.26" stroke="#444444" stroke-width="0.7"/>
<line x1="511.04" y1="99.9" x2="514.14" y2="99.9" stroke="#444444" stroke-width="0.7"/>
<line x1="511.04" y1="107.26" x2="514.14" y2="107.26" stroke="#444444" stroke-width="0.7"/>
<rect x="516.77" y="105.5" width="6.84" height="28.65" fill="#4D4D4D" stroke="#000" stroke-width="1"/>
<line x1="520.19" y1="101.47" x2="520.19" y2="109.71" stroke="#444444" stroke-width="0.7"/>
<line x1="518.64" y1="101.47" x2="521.74" y2="101.47" stroke="#444444" stroke-width="0.7"/>
<line x1="518.64" y1="109.71" x2="521.74" y2="109.71" stroke="#444444" stroke-width="0.7"/>
<line x1="530.1" y1="134.15" x2="584.8" y2="134.15" stroke="#EDEDED" stroke-width="0.55"/>
<line x1="530.1" y1="115.7" x2="584.8" y2="115.7" stroke="#EDEDED" stroke-width="0.55"/>
<line x1="530.1" y1="97.25" x2="584.8" y2="97.25" stroke="#EDEDED" stroke-width="0.55"/>
<line x1="530.1" y1="78.8" x2="584.8" y2="78.8" stroke="#EDEDED" stroke-width="0.55"/>
<line x1="530.1" y1="60.35" x2="584.8" y2="60.35" stroke="#EDEDED" stroke-width="0.55"/>
<line x1="530.1" y1="41.9" x2="584.8" y2="41.9" stroke="#EDEDED" stroke-width="0.55"/>
<line x1="534.66" y1="37.8" x2="534.66" y2="139.1" stroke="#EDEDED" stroke-width="0.55"/>
<line x1="542.26" y1="37.8" x2="542.26" y2="139.1" stroke="#EDEDED" stroke-width="0.55"/>
<line x1="549.85" y1="37.8" x2="549.85" y2="139.1" stroke="#EDEDED" stroke-width="0.55"/>
<line x1="557.45" y1="37.8" x2="557.45" y2="139.1" stroke="#EDEDED" stroke-width="0.55"/>
<line x1="565.05" y1="37.8" x2="565.05" y2="139.1" stroke="#EDEDED" stroke-width="0.55"/>
<line x1="572.64" y1="37.8" x2="572.64" y2="139.1" stroke="#EDEDED" stroke-width="0.55"/>
<line x1="580.24" y1="37.8" x2="580.24" y2="139.1" stroke="#EDEDED" stroke-width="0.55"/>
<rect x="531.24" y="94.29" width="6.84" height="39.86" fill="#9DC3E6" stroke="#000" stroke-width="1"/>
<line x1="534.66" y1="89.74" x2="534.66" y2="98.85" stroke="#444444" stroke-width="0.7"/>
<line x1="533.11" y1="89.74" x2="536.21" y2="89.74" stroke="#444444" stroke-width="0.7"/>
<line x1="533.11" y1="98.85" x2="536.21" y2="98.85" stroke="#444444" stroke-width="0.7"/>
<rect x="538.84" y="97.09" width="6.84" height="37.06" fill="#F4A88E" stroke="#000" stroke-width="1"/>
<line x1="542.26" y1="92.89" x2="542.26" y2="101.47" stroke="#444444" stroke-width="0.7"/>
<line x1="540.71" y1="92.89" x2="543.81" y2="92.89" stroke="#444444" stroke-width="0.7"/>
<line x1="540.71" y1="101.47" x2="543.81" y2="101.47" stroke="#444444" stroke-width="0.7"/>
<rect x="546.43" y="116.72" width="6.84" height="17.43" fill="#5A9E6F" stroke="#000" stroke-width="1"/>
<line x1="549.85" y1="113.74" x2="549.85" y2="119.87" stroke="#444444" stroke-width="0.7"/>
<line x1="548.3" y1="113.74" x2="551.4" y2="113.74" stroke="#444444" stroke-width="0.7"/>
<line x1="548.3" y1="119.87" x2="551.4" y2="119.87" stroke="#444444" stroke-width="0.7"/>
<rect x="554.03" y="95.52" width="6.84" height="38.63" fill="#9C65A7" stroke="#000" stroke-width="1"/>
<line x1="557.45" y1="91.31" x2="557.45" y2="99.72" stroke="#444444" stroke-width="0.7"/>
<line x1="555.9" y1="91.31" x2="559" y2="91.31" stroke="#444444" stroke-width="0.7"/>
<line x1="555.9" y1="99.72" x2="559" y2="99.72" stroke="#444444" stroke-width="0.7"/>
<rect x="561.63" y="97.45" width="6.84" height="36.7" fill="#A6A6A6" stroke="#000" stroke-width="1"/>
<line x1="565.05" y1="90.26" x2="565.05" y2="104.45" stroke="#444444" stroke-width="0.7"/>
<line x1="563.5" y1="90.26" x2="566.6" y2="90.26" stroke="#444444" stroke-width="0.7"/>
<line x1="563.5" y1="104.45" x2="566.6" y2="104.45" stroke="#444444" stroke-width="0.7"/>
<rect x="569.23" y="90.44" width="6.84" height="43.71" fill="#F0E4A6" stroke="#000" stroke-width="1"/>
<line x1="572.64" y1="86.41" x2="572.64" y2="94.64" stroke="#444444" stroke-width="0.7"/>
<line x1="571.09" y1="86.41" x2="574.19" y2="86.41" stroke="#444444" stroke-width="0.7"/>
<line x1="571.09" y1="94.64" x2="574.19" y2="94.64" stroke="#444444" stroke-width="0.7"/>
<rect x="576.82" y="89.39" width="6.84" height="44.76" fill="#4D4D4D" stroke="#000" stroke-width="1"/>
<line x1="580.24" y1="84.48" x2="580.24" y2="94.29" stroke="#444444" stroke-width="0.7"/>
<line x1="578.69" y1="84.48" x2="581.79" y2="84.48" stroke="#444444" stroke-width="0.7"/>
<line x1="578.69" y1="94.29" x2="581.79" y2="94.29" stroke="#444444" stroke-width="0.7"/>
<rect x="584.85" y="143.85" width="17.95" height="101.3" fill="#D9D9D9"/>
<line x1="347" y1="240.2" x2="349.95" y2="240.2" stroke="#333333" stroke-width="0.95"/>
<line x1="347" y1="221.75" x2="349.95" y2="221.75" stroke="#333333" stroke-width="0.95"/>
<line x1="347" y1="203.3" x2="349.95" y2="203.3" stroke="#333333" stroke-width="0.95"/>
<line x1="347" y1="184.85" x2="349.95" y2="184.85" stroke="#333333" stroke-width="0.95"/>
<line x1="347" y1="166.4" x2="349.95" y2="166.4" stroke="#333333" stroke-width="0.95"/>
<line x1="347" y1="147.95" x2="349.95" y2="147.95" stroke="#333333" stroke-width="0.95"/>
<line x1="349.95" y1="240.2" x2="404.65" y2="240.2" stroke="#EDEDED" stroke-width="0.55"/>
<line x1="349.95" y1="221.75" x2="404.65" y2="221.75" stroke="#EDEDED" stroke-width="0.55"/>
<line x1="349.95" y1="203.3" x2="404.65" y2="203.3" stroke="#EDEDED" stroke-width="0.55"/>
<line x1="349.95" y1="184.85" x2="404.65" y2="184.85" stroke="#EDEDED" stroke-width="0.55"/>
<line x1="349.95" y1="166.4" x2="404.65" y2="166.4" stroke="#EDEDED" stroke-width="0.55"/>
<line x1="349.95" y1="147.95" x2="404.65" y2="147.95" stroke="#EDEDED" stroke-width="0.55"/>
<line x1="354.51" y1="143.85" x2="354.51" y2="245.15" stroke="#EDEDED" stroke-width="0.55"/>
<line x1="362.11" y1="143.85" x2="362.11" y2="245.15" stroke="#EDEDED" stroke-width="0.55"/>
<line x1="369.7" y1="143.85" x2="369.7" y2="245.15" stroke="#EDEDED" stroke-width="0.55"/>
<line x1="377.3" y1="143.85" x2="377.3" y2="245.15" stroke="#EDEDED" stroke-width="0.55"/>
<line x1="384.9" y1="143.85" x2="384.9" y2="245.15" stroke="#EDEDED" stroke-width="0.55"/>
<line x1="392.49" y1="143.85" x2="392.49" y2="245.15" stroke="#EDEDED" stroke-width="0.55"/>
<line x1="400.09" y1="143.85" x2="400.09" y2="245.15" stroke="#EDEDED" stroke-width="0.55"/>
<rect x="351.09" y="218.34" width="6.84" height="21.86" fill="#9DC3E6" stroke="#000" stroke-width="1"/>
<line x1="354.51" y1="214.83" x2="354.51" y2="222.19" stroke="#444444" stroke-width="0.7"/>
<line x1="352.96" y1="214.83" x2="356.06" y2="214.83" stroke="#444444" stroke-width="0.7"/>
<line x1="352.96" y1="222.19" x2="356.06" y2="222.19" stroke="#444444" stroke-width="0.7"/>
<rect x="358.69" y="237.26" width="6.84" height="2.94" fill="#F4A88E" stroke="#000" stroke-width="1"/>
<line x1="362.11" y1="236.2" x2="362.11" y2="238.31" stroke="#444444" stroke-width="0.7"/>
<line x1="360.56" y1="236.2" x2="363.66" y2="236.2" stroke="#444444" stroke-width="0.7"/>
<line x1="360.56" y1="238.31" x2="363.66" y2="238.31" stroke="#444444" stroke-width="0.7"/>
<rect x="366.28" y="227.45" width="6.84" height="12.75" fill="#5A9E6F" stroke="#000" stroke-width="1"/>
<line x1="369.7" y1="225.87" x2="369.7" y2="229.2" stroke="#444444" stroke-width="0.7"/>
<line x1="368.15" y1="225.87" x2="371.25" y2="225.87" stroke="#444444" stroke-width="0.7"/>
<line x1="368.15" y1="229.2" x2="371.25" y2="229.2" stroke="#444444" stroke-width="0.7"/>
<rect x="373.88" y="228.5" width="6.84" height="11.7" fill="#9C65A7" stroke="#000" stroke-width="1"/>
<line x1="377.3" y1="226.39" x2="377.3" y2="230.6" stroke="#444444" stroke-width="0.7"/>
<line x1="375.75" y1="226.39" x2="378.85" y2="226.39" stroke="#444444" stroke-width="0.7"/>
<line x1="375.75" y1="230.6" x2="378.85" y2="230.6" stroke="#444444" stroke-width="0.7"/>
<rect x="381.48" y="233.58" width="6.84" height="6.62" fill="#A6A6A6" stroke="#000" stroke-width="1"/>
<line x1="384.9" y1="231.3" x2="384.9" y2="235.5" stroke="#444444" stroke-width="0.7"/>
<line x1="383.35" y1="231.3" x2="386.45" y2="231.3" stroke="#444444" stroke-width="0.7"/>
<line x1="383.35" y1="235.5" x2="386.45" y2="235.5" stroke="#444444" stroke-width="0.7"/>
<rect x="389.08" y="228.67" width="6.84" height="11.53" fill="#F0E4A6" stroke="#000" stroke-width="1"/>
<line x1="392.49" y1="227.27" x2="392.49" y2="230.07" stroke="#444444" stroke-width="0.7"/>
<line x1="390.94" y1="227.27" x2="394.04" y2="227.27" stroke="#444444" stroke-width="0.7"/>
<line x1="390.94" y1="230.07" x2="394.04" y2="230.07" stroke="#444444" stroke-width="0.7"/>
<rect x="396.67" y="229.37" width="6.84" height="10.83" fill="#4D4D4D" stroke="#000" stroke-width="1"/>
<line x1="400.09" y1="226.39" x2="400.09" y2="232.35" stroke="#444444" stroke-width="0.7"/>
<line x1="398.54" y1="226.39" x2="401.64" y2="226.39" stroke="#444444" stroke-width="0.7"/>
<line x1="398.54" y1="232.35" x2="401.64" y2="232.35" stroke="#444444" stroke-width="0.7"/>
<line x1="410" y1="240.2" x2="464.7" y2="240.2" stroke="#EDEDED" stroke-width="0.55"/>
<line x1="410" y1="221.75" x2="464.7" y2="221.75" stroke="#EDEDED" stroke-width="0.55"/>
<line x1="410" y1="203.3" x2="464.7" y2="203.3" stroke="#EDEDED" stroke-width="0.55"/>
<line x1="410" y1="184.85" x2="464.7" y2="184.85" stroke="#EDEDED" stroke-width="0.55"/>
<line x1="410" y1="166.4" x2="464.7" y2="166.4" stroke="#EDEDED" stroke-width="0.55"/>
<line x1="410" y1="147.95" x2="464.7" y2="147.95" stroke="#EDEDED" stroke-width="0.55"/>
<line x1="414.56" y1="143.85" x2="414.56" y2="245.15" stroke="#EDEDED" stroke-width="0.55"/>
<line x1="422.16" y1="143.85" x2="422.16" y2="245.15" stroke="#EDEDED" stroke-width="0.55"/>
<line x1="429.75" y1="143.85" x2="429.75" y2="245.15" stroke="#EDEDED" stroke-width="0.55"/>
<line x1="437.35" y1="143.85" x2="437.35" y2="245.15" stroke="#EDEDED" stroke-width="0.55"/>
<line x1="444.95" y1="143.85" x2="444.95" y2="245.15" stroke="#EDEDED" stroke-width="0.55"/>
<line x1="452.54" y1="143.85" x2="452.54" y2="245.15" stroke="#EDEDED" stroke-width="0.55"/>
<line x1="460.14" y1="143.85" x2="460.14" y2="245.15" stroke="#EDEDED" stroke-width="0.55"/>
<rect x="411.14" y="215.01" width="6.84" height="25.19" fill="#9DC3E6" stroke="#000" stroke-width="1"/>
<line x1="414.56" y1="210.8" x2="414.56" y2="219.21" stroke="#444444" stroke-width="0.7"/>
<line x1="413.01" y1="210.8" x2="416.11" y2="210.8" stroke="#444444" stroke-width="0.7"/>
<line x1="413.01" y1="219.21" x2="416.11" y2="219.21" stroke="#444444" stroke-width="0.7"/>
<rect x="418.74" y="230.42" width="6.84" height="9.78" fill="#F4A88E" stroke="#000" stroke-width="1"/>
<line x1="422.16" y1="227.8" x2="422.16" y2="233.23" stroke="#444444" stroke-width="0.7"/>
<line x1="420.61" y1="227.8" x2="423.71" y2="227.8" stroke="#444444" stroke-width="0.7"/>
<line x1="420.61" y1="233.23" x2="423.71" y2="233.23" stroke="#444444" stroke-width="0.7"/>
<rect x="426.33" y="227.62" width="6.84" height="12.58" fill="#5A9E6F" stroke="#000" stroke-width="1"/>
<line x1="429.75" y1="226.04" x2="429.75" y2="229.2" stroke="#444444" stroke-width="0.7"/>
<line x1="428.2" y1="226.04" x2="431.3" y2="226.04" stroke="#444444" stroke-width="0.7"/>
<line x1="428.2" y1="229.2" x2="431.3" y2="229.2" stroke="#444444" stroke-width="0.7"/>
<rect x="433.93" y="223.42" width="6.84" height="16.78" fill="#9C65A7" stroke="#000" stroke-width="1"/>
<line x1="437.35" y1="220.44" x2="437.35" y2="226.39" stroke="#444444" stroke-width="0.7"/>
<line x1="435.8" y1="220.44" x2="438.9" y2="220.44" stroke="#444444" stroke-width="0.7"/>
<line x1="435.8" y1="226.39" x2="438.9" y2="226.39" stroke="#444444" stroke-width="0.7"/>
<rect x="441.53" y="228.5" width="6.84" height="11.7" fill="#A6A6A6" stroke="#000" stroke-width="1"/>
<line x1="444.95" y1="224.99" x2="444.95" y2="232.18" stroke="#444444" stroke-width="0.7"/>
<line x1="443.4" y1="224.99" x2="446.5" y2="224.99" stroke="#444444" stroke-width="0.7"/>
<line x1="443.4" y1="232.18" x2="446.5" y2="232.18" stroke="#444444" stroke-width="0.7"/>
<rect x="449.13" y="224.12" width="6.84" height="16.08" fill="#F0E4A6" stroke="#000" stroke-width="1"/>
<line x1="452.54" y1="220.44" x2="452.54" y2="227.8" stroke="#444444" stroke-width="0.7"/>
<line x1="450.99" y1="220.44" x2="454.09" y2="220.44" stroke="#444444" stroke-width="0.7"/>
<line x1="450.99" y1="227.8" x2="454.09" y2="227.8" stroke="#444444" stroke-width="0.7"/>
<rect x="456.72" y="223.42" width="6.84" height="16.78" fill="#4D4D4D" stroke="#000" stroke-width="1"/>
<line x1="460.14" y1="220.26" x2="460.14" y2="226.74" stroke="#444444" stroke-width="0.7"/>
<line x1="458.59" y1="220.26" x2="461.69" y2="220.26" stroke="#444444" stroke-width="0.7"/>
<line x1="458.59" y1="226.74" x2="461.69" y2="226.74" stroke="#444444" stroke-width="0.7"/>
<line x1="470.05" y1="240.2" x2="524.75" y2="240.2" stroke="#EDEDED" stroke-width="0.55"/>
<line x1="470.05" y1="221.75" x2="524.75" y2="221.75" stroke="#EDEDED" stroke-width="0.55"/>
<line x1="470.05" y1="203.3" x2="524.75" y2="203.3" stroke="#EDEDED" stroke-width="0.55"/>
<line x1="470.05" y1="184.85" x2="524.75" y2="184.85" stroke="#EDEDED" stroke-width="0.55"/>
<line x1="470.05" y1="166.4" x2="524.75" y2="166.4" stroke="#EDEDED" stroke-width="0.55"/>
<line x1="470.05" y1="147.95" x2="524.75" y2="147.95" stroke="#EDEDED" stroke-width="0.55"/>
<line x1="474.61" y1="143.85" x2="474.61" y2="245.15" stroke="#EDEDED" stroke-width="0.55"/>
<line x1="482.21" y1="143.85" x2="482.21" y2="245.15" stroke="#EDEDED" stroke-width="0.55"/>
<line x1="489.8" y1="143.85" x2="489.8" y2="245.15" stroke="#EDEDED" stroke-width="0.55"/>
<line x1="497.4" y1="143.85" x2="497.4" y2="245.15" stroke="#EDEDED" stroke-width="0.55"/>
<line x1="505" y1="143.85" x2="505" y2="245.15" stroke="#EDEDED" stroke-width="0.55"/>
<line x1="512.59" y1="143.85" x2="512.59" y2="245.15" stroke="#EDEDED" stroke-width="0.55"/>
<line x1="520.19" y1="143.85" x2="520.19" y2="245.15" stroke="#EDEDED" stroke-width="0.55"/>
<rect x="471.19" y="209.58" width="6.84" height="30.62" fill="#9DC3E6" stroke="#000" stroke-width="1"/>
<line x1="474.61" y1="205.02" x2="474.61" y2="214.13" stroke="#444444" stroke-width="0.7"/>
<line x1="473.06" y1="205.02" x2="476.16" y2="205.02" stroke="#444444" stroke-width="0.7"/>
<line x1="473.06" y1="214.13" x2="476.16" y2="214.13" stroke="#444444" stroke-width="0.7"/>
<rect x="478.79" y="218.51" width="6.84" height="21.69" fill="#F4A88E" stroke="#000" stroke-width="1"/>
<line x1="482.21" y1="215.18" x2="482.21" y2="222.19" stroke="#444444" stroke-width="0.7"/>
<line x1="480.66" y1="215.18" x2="483.76" y2="215.18" stroke="#444444" stroke-width="0.7"/>
<line x1="480.66" y1="222.19" x2="483.76" y2="222.19" stroke="#444444" stroke-width="0.7"/>
<rect x="486.38" y="227.62" width="6.84" height="12.58" fill="#5A9E6F" stroke="#000" stroke-width="1"/>
<line x1="489.8" y1="226.22" x2="489.8" y2="229.02" stroke="#444444" stroke-width="0.7"/>
<line x1="488.25" y1="226.22" x2="491.35" y2="226.22" stroke="#444444" stroke-width="0.7"/>
<line x1="488.25" y1="229.02" x2="491.35" y2="229.02" stroke="#444444" stroke-width="0.7"/>
<rect x="493.98" y="213.26" width="6.84" height="26.94" fill="#9C65A7" stroke="#000" stroke-width="1"/>
<line x1="497.4" y1="209.58" x2="497.4" y2="216.93" stroke="#444444" stroke-width="0.7"/>
<line x1="495.85" y1="209.58" x2="498.95" y2="209.58" stroke="#444444" stroke-width="0.7"/>
<line x1="495.85" y1="216.93" x2="498.95" y2="216.93" stroke="#444444" stroke-width="0.7"/>
<rect x="501.58" y="219.21" width="6.84" height="20.99" fill="#A6A6A6" stroke="#000" stroke-width="1"/>
<line x1="505" y1="213.08" x2="505" y2="225.34" stroke="#444444" stroke-width="0.7"/>
<line x1="503.45" y1="213.08" x2="506.55" y2="213.08" stroke="#444444" stroke-width="0.7"/>
<line x1="503.45" y1="225.34" x2="506.55" y2="225.34" stroke="#444444" stroke-width="0.7"/>
<rect x="509.18" y="212.38" width="6.84" height="27.82" fill="#F0E4A6" stroke="#000" stroke-width="1"/>
<line x1="512.59" y1="208.53" x2="512.59" y2="216.23" stroke="#444444" stroke-width="0.7"/>
<line x1="511.04" y1="208.53" x2="514.14" y2="208.53" stroke="#444444" stroke-width="0.7"/>
<line x1="511.04" y1="216.23" x2="514.14" y2="216.23" stroke="#444444" stroke-width="0.7"/>
<rect x="516.77" y="211.68" width="6.84" height="28.52" fill="#4D4D4D" stroke="#000" stroke-width="1"/>
<line x1="520.19" y1="207.47" x2="520.19" y2="215.88" stroke="#444444" stroke-width="0.7"/>
<line x1="518.64" y1="207.47" x2="521.74" y2="207.47" stroke="#444444" stroke-width="0.7"/>
<line x1="518.64" y1="215.88" x2="521.74" y2="215.88" stroke="#444444" stroke-width="0.7"/>
<line x1="530.1" y1="240.2" x2="584.8" y2="240.2" stroke="#EDEDED" stroke-width="0.55"/>
<line x1="530.1" y1="221.75" x2="584.8" y2="221.75" stroke="#EDEDED" stroke-width="0.55"/>
<line x1="530.1" y1="203.3" x2="584.8" y2="203.3" stroke="#EDEDED" stroke-width="0.55"/>
<line x1="530.1" y1="184.85" x2="584.8" y2="184.85" stroke="#EDEDED" stroke-width="0.55"/>
<line x1="530.1" y1="166.4" x2="584.8" y2="166.4" stroke="#EDEDED" stroke-width="0.55"/>
<line x1="530.1" y1="147.95" x2="584.8" y2="147.95" stroke="#EDEDED" stroke-width="0.55"/>
<line x1="534.66" y1="143.85" x2="534.66" y2="245.15" stroke="#EDEDED" stroke-width="0.55"/>
<line x1="542.26" y1="143.85" x2="542.26" y2="245.15" stroke="#EDEDED" stroke-width="0.55"/>
<line x1="549.85" y1="143.85" x2="549.85" y2="245.15" stroke="#EDEDED" stroke-width="0.55"/>
<line x1="557.45" y1="143.85" x2="557.45" y2="245.15" stroke="#EDEDED" stroke-width="0.55"/>
<line x1="565.05" y1="143.85" x2="565.05" y2="245.15" stroke="#EDEDED" stroke-width="0.55"/>
<line x1="572.64" y1="143.85" x2="572.64" y2="245.15" stroke="#EDEDED" stroke-width="0.55"/>
<line x1="580.24" y1="143.85" x2="580.24" y2="245.15" stroke="#EDEDED" stroke-width="0.55"/>
<rect x="531.24" y="199.42" width="6.84" height="40.78" fill="#9DC3E6" stroke="#000" stroke-width="1"/>
<line x1="534.66" y1="194.69" x2="534.66" y2="203.97" stroke="#444444" stroke-width="0.7"/>
<line x1="533.11" y1="194.69" x2="536.21" y2="194.69" stroke="#444444" stroke-width="0.7"/>
<line x1="533.11" y1="203.97" x2="536.21" y2="203.97" stroke="#444444" stroke-width="0.7"/>
<rect x="538.84" y="202.39" width="6.84" height="37.81" fill="#F4A88E" stroke="#000" stroke-width="1"/>
<line x1="542.26" y1="198.19" x2="542.26" y2="206.6" stroke="#444444" stroke-width="0.7"/>
<line x1="540.71" y1="198.19" x2="543.81" y2="198.19" stroke="#444444" stroke-width="0.7"/>
<line x1="540.71" y1="206.6" x2="543.81" y2="206.6" stroke="#444444" stroke-width="0.7"/>
<rect x="546.43" y="227.8" width="6.84" height="12.4" fill="#5A9E6F" stroke="#000" stroke-width="1"/>
<line x1="549.85" y1="226.39" x2="549.85" y2="229.2" stroke="#444444" stroke-width="0.7"/>
<line x1="548.3" y1="226.39" x2="551.4" y2="226.39" stroke="#444444" stroke-width="0.7"/>
<line x1="548.3" y1="229.2" x2="551.4" y2="229.2" stroke="#444444" stroke-width="0.7"/>
<rect x="554.03" y="198.36" width="6.84" height="41.84" fill="#9C65A7" stroke="#000" stroke-width="1"/>
<line x1="557.45" y1="194.51" x2="557.45" y2="202.57" stroke="#444444" stroke-width="0.7"/>
<line x1="555.9" y1="194.51" x2="559" y2="194.51" stroke="#444444" stroke-width="0.7"/>
<line x1="555.9" y1="202.57" x2="559" y2="202.57" stroke="#444444" stroke-width="0.7"/>
<rect x="561.63" y="205.2" width="6.84" height="35" fill="#A6A6A6" stroke="#000" stroke-width="1"/>
<line x1="565.05" y1="196.26" x2="565.05" y2="214.13" stroke="#444444" stroke-width="0.7"/>
<line x1="563.5" y1="196.26" x2="566.6" y2="196.26" stroke="#444444" stroke-width="0.7"/>
<line x1="563.5" y1="214.13" x2="566.6" y2="214.13" stroke="#444444" stroke-width="0.7"/>
<rect x="569.23" y="197.31" width="6.84" height="42.89" fill="#F0E4A6" stroke="#000" stroke-width="1"/>
<line x1="572.64" y1="192.76" x2="572.64" y2="201.52" stroke="#444444" stroke-width="0.7"/>
<line x1="571.09" y1="192.76" x2="574.19" y2="192.76" stroke="#444444" stroke-width="0.7"/>
<line x1="571.09" y1="201.52" x2="574.19" y2="201.52" stroke="#444444" stroke-width="0.7"/>
<rect x="576.82" y="195.56" width="6.84" height="44.64" fill="#4D4D4D" stroke="#000" stroke-width="1"/>
<line x1="580.24" y1="190.48" x2="580.24" y2="200.47" stroke="#444444" stroke-width="0.7"/>
<line x1="578.69" y1="190.48" x2="581.79" y2="190.48" stroke="#444444" stroke-width="0.7"/>
<line x1="578.69" y1="200.47" x2="581.79" y2="200.47" stroke="#444444" stroke-width="0.7"/>
<rect x="584.85" y="249.9" width="17.95" height="101.3" fill="#D9D9D9"/>
<line x1="347" y1="346.25" x2="349.95" y2="346.25" stroke="#333333" stroke-width="0.95"/>
<line x1="347" y1="327.8" x2="349.95" y2="327.8" stroke="#333333" stroke-width="0.95"/>
<line x1="347" y1="309.35" x2="349.95" y2="309.35" stroke="#333333" stroke-width="0.95"/>
<line x1="347" y1="290.9" x2="349.95" y2="290.9" stroke="#333333" stroke-width="0.95"/>
<line x1="347" y1="272.45" x2="349.95" y2="272.45" stroke="#333333" stroke-width="0.95"/>
<line x1="347" y1="254" x2="349.95" y2="254" stroke="#333333" stroke-width="0.95"/>
<line x1="349.95" y1="346.25" x2="404.65" y2="346.25" stroke="#EDEDED" stroke-width="0.55"/>
<line x1="349.95" y1="327.8" x2="404.65" y2="327.8" stroke="#EDEDED" stroke-width="0.55"/>
<line x1="349.95" y1="309.35" x2="404.65" y2="309.35" stroke="#EDEDED" stroke-width="0.55"/>
<line x1="349.95" y1="290.9" x2="404.65" y2="290.9" stroke="#EDEDED" stroke-width="0.55"/>
<line x1="349.95" y1="272.45" x2="404.65" y2="272.45" stroke="#EDEDED" stroke-width="0.55"/>
<line x1="349.95" y1="254" x2="404.65" y2="254" stroke="#EDEDED" stroke-width="0.55"/>
<line x1="354.51" y1="249.9" x2="354.51" y2="351.2" stroke="#EDEDED" stroke-width="0.55"/>
<line x1="362.11" y1="249.9" x2="362.11" y2="351.2" stroke="#EDEDED" stroke-width="0.55"/>
<line x1="369.7" y1="249.9" x2="369.7" y2="351.2" stroke="#EDEDED" stroke-width="0.55"/>
<line x1="377.3" y1="249.9" x2="377.3" y2="351.2" stroke="#EDEDED" stroke-width="0.55"/>
<line x1="384.9" y1="249.9" x2="384.9" y2="351.2" stroke="#EDEDED" stroke-width="0.55"/>
<line x1="392.49" y1="249.9" x2="392.49" y2="351.2" stroke="#EDEDED" stroke-width="0.55"/>
<line x1="400.09" y1="249.9" x2="400.09" y2="351.2" stroke="#EDEDED" stroke-width="0.55"/>
<rect x="351.09" y="309.04" width="6.84" height="37.21" fill="#9DC3E6" stroke="#000" stroke-width="1"/>
<line x1="354.51" y1="305.71" x2="354.51" y2="312.54" stroke="#444444" stroke-width="0.7"/>
<line x1="352.96" y1="305.71" x2="356.06" y2="305.71" stroke="#444444" stroke-width="0.7"/>
<line x1="352.96" y1="312.54" x2="356.06" y2="312.54" stroke="#444444" stroke-width="0.7"/>
<rect x="358.69" y="340.39" width="6.84" height="5.86" fill="#F4A88E" stroke="#000" stroke-width="1"/>
<line x1="362.11" y1="338.99" x2="362.11" y2="341.97" stroke="#444444" stroke-width="0.7"/>
<line x1="360.56" y1="338.99" x2="363.66" y2="338.99" stroke="#444444" stroke-width="0.7"/>
<line x1="360.56" y1="341.97" x2="363.66" y2="341.97" stroke="#444444" stroke-width="0.7"/>
<rect x="366.28" y="332.51" width="6.84" height="13.74" fill="#5A9E6F" stroke="#000" stroke-width="1"/>
<line x1="369.7" y1="331.28" x2="369.7" y2="333.74" stroke="#444444" stroke-width="0.7"/>
<line x1="368.15" y1="331.28" x2="371.25" y2="331.28" stroke="#444444" stroke-width="0.7"/>
<line x1="368.15" y1="333.74" x2="371.25" y2="333.74" stroke="#444444" stroke-width="0.7"/>
<rect x="373.88" y="327.08" width="6.84" height="19.17" fill="#9C65A7" stroke="#000" stroke-width="1"/>
<line x1="377.3" y1="324.1" x2="377.3" y2="330.23" stroke="#444444" stroke-width="0.7"/>
<line x1="375.75" y1="324.1" x2="378.85" y2="324.1" stroke="#444444" stroke-width="0.7"/>
<line x1="375.75" y1="330.23" x2="378.85" y2="330.23" stroke="#444444" stroke-width="0.7"/>
<rect x="381.48" y="333.56" width="6.84" height="12.69" fill="#A6A6A6" stroke="#000" stroke-width="1"/>
<line x1="384.9" y1="331.64" x2="384.9" y2="335.49" stroke="#444444" stroke-width="0.7"/>
<line x1="383.35" y1="331.64" x2="386.45" y2="331.64" stroke="#444444" stroke-width="0.7"/>
<line x1="383.35" y1="335.49" x2="386.45" y2="335.49" stroke="#444444" stroke-width="0.7"/>
<rect x="389.08" y="330.41" width="6.84" height="15.84" fill="#F0E4A6" stroke="#000" stroke-width="1"/>
<line x1="392.49" y1="328.66" x2="392.49" y2="332.34" stroke="#444444" stroke-width="0.7"/>
<line x1="390.94" y1="328.66" x2="394.04" y2="328.66" stroke="#444444" stroke-width="0.7"/>
<line x1="390.94" y1="332.34" x2="394.04" y2="332.34" stroke="#444444" stroke-width="0.7"/>
<rect x="396.67" y="335.31" width="6.84" height="10.94" fill="#4D4D4D" stroke="#000" stroke-width="1"/>
<line x1="400.09" y1="332.51" x2="400.09" y2="338.12" stroke="#444444" stroke-width="0.7"/>
<line x1="398.54" y1="332.51" x2="401.64" y2="332.51" stroke="#444444" stroke-width="0.7"/>
<line x1="398.54" y1="338.12" x2="401.64" y2="338.12" stroke="#444444" stroke-width="0.7"/>
<line x1="410" y1="346.25" x2="464.7" y2="346.25" stroke="#EDEDED" stroke-width="0.55"/>
<line x1="410" y1="327.8" x2="464.7" y2="327.8" stroke="#EDEDED" stroke-width="0.55"/>
<line x1="410" y1="309.35" x2="464.7" y2="309.35" stroke="#EDEDED" stroke-width="0.55"/>
<line x1="410" y1="290.9" x2="464.7" y2="290.9" stroke="#EDEDED" stroke-width="0.55"/>
<line x1="410" y1="272.45" x2="464.7" y2="272.45" stroke="#EDEDED" stroke-width="0.55"/>
<line x1="410" y1="254" x2="464.7" y2="254" stroke="#EDEDED" stroke-width="0.55"/>
<line x1="414.56" y1="249.9" x2="414.56" y2="351.2" stroke="#EDEDED" stroke-width="0.55"/>
<line x1="422.16" y1="249.9" x2="422.16" y2="351.2" stroke="#EDEDED" stroke-width="0.55"/>
<line x1="429.75" y1="249.9" x2="429.75" y2="351.2" stroke="#EDEDED" stroke-width="0.55"/>
<line x1="437.35" y1="249.9" x2="437.35" y2="351.2" stroke="#EDEDED" stroke-width="0.55"/>
<line x1="444.95" y1="249.9" x2="444.95" y2="351.2" stroke="#EDEDED" stroke-width="0.55"/>
<line x1="452.54" y1="249.9" x2="452.54" y2="351.2" stroke="#EDEDED" stroke-width="0.55"/>
<line x1="460.14" y1="249.9" x2="460.14" y2="351.2" stroke="#EDEDED" stroke-width="0.55"/>
<rect x="411.14" y="296.42" width="6.84" height="49.83" fill="#9DC3E6" stroke="#000" stroke-width="1"/>
<line x1="414.56" y1="293.27" x2="414.56" y2="299.93" stroke="#444444" stroke-width="0.7"/>
<line x1="413.01" y1="293.27" x2="416.11" y2="293.27" stroke="#444444" stroke-width="0.7"/>
<line x1="413.01" y1="299.93" x2="416.11" y2="299.93" stroke="#444444" stroke-width="0.7"/>
<rect x="418.74" y="325.33" width="6.84" height="20.92" fill="#F4A88E" stroke="#000" stroke-width="1"/>
<line x1="422.16" y1="322.53" x2="422.16" y2="328.13" stroke="#444444" stroke-width="0.7"/>
<line x1="420.61" y1="322.53" x2="423.71" y2="322.53" stroke="#444444" stroke-width="0.7"/>
<line x1="420.61" y1="328.13" x2="423.71" y2="328.13" stroke="#444444" stroke-width="0.7"/>
<rect x="426.33" y="332.51" width="6.84" height="13.74" fill="#5A9E6F" stroke="#000" stroke-width="1"/>
<line x1="429.75" y1="331.46" x2="429.75" y2="333.74" stroke="#444444" stroke-width="0.7"/>
<line x1="428.2" y1="331.46" x2="431.3" y2="331.46" stroke="#444444" stroke-width="0.7"/>
<line x1="428.2" y1="333.74" x2="431.3" y2="333.74" stroke="#444444" stroke-width="0.7"/>
<rect x="433.93" y="313.07" width="6.84" height="33.18" fill="#9C65A7" stroke="#000" stroke-width="1"/>
<line x1="437.35" y1="310.09" x2="437.35" y2="316.22" stroke="#444444" stroke-width="0.7"/>
<line x1="435.8" y1="310.09" x2="438.9" y2="310.09" stroke="#444444" stroke-width="0.7"/>
<line x1="435.8" y1="316.22" x2="438.9" y2="316.22" stroke="#444444" stroke-width="0.7"/>
<rect x="441.53" y="321.3" width="6.84" height="24.95" fill="#A6A6A6" stroke="#000" stroke-width="1"/>
<line x1="444.95" y1="317.45" x2="444.95" y2="325.33" stroke="#444444" stroke-width="0.7"/>
<line x1="443.4" y1="317.45" x2="446.5" y2="317.45" stroke="#444444" stroke-width="0.7"/>
<line x1="443.4" y1="325.33" x2="446.5" y2="325.33" stroke="#444444" stroke-width="0.7"/>
<rect x="449.13" y="319.37" width="6.84" height="26.88" fill="#F0E4A6" stroke="#000" stroke-width="1"/>
<line x1="452.54" y1="316.57" x2="452.54" y2="322.18" stroke="#444444" stroke-width="0.7"/>
<line x1="450.99" y1="316.57" x2="454.09" y2="316.57" stroke="#444444" stroke-width="0.7"/>
<line x1="450.99" y1="322.18" x2="454.09" y2="322.18" stroke="#444444" stroke-width="0.7"/>
<rect x="456.72" y="329.36" width="6.84" height="16.89" fill="#4D4D4D" stroke="#000" stroke-width="1"/>
<line x1="460.14" y1="326.38" x2="460.14" y2="332.34" stroke="#444444" stroke-width="0.7"/>
<line x1="458.59" y1="326.38" x2="461.69" y2="326.38" stroke="#444444" stroke-width="0.7"/>
<line x1="458.59" y1="332.34" x2="461.69" y2="332.34" stroke="#444444" stroke-width="0.7"/>
<line x1="470.05" y1="346.25" x2="524.75" y2="346.25" stroke="#EDEDED" stroke-width="0.55"/>
<line x1="470.05" y1="327.8" x2="524.75" y2="327.8" stroke="#EDEDED" stroke-width="0.55"/>
<line x1="470.05" y1="309.35" x2="524.75" y2="309.35" stroke="#EDEDED" stroke-width="0.55"/>
<line x1="470.05" y1="290.9" x2="524.75" y2="290.9" stroke="#EDEDED" stroke-width="0.55"/>
<line x1="470.05" y1="272.45" x2="524.75" y2="272.45" stroke="#EDEDED" stroke-width="0.55"/>
<line x1="470.05" y1="254" x2="524.75" y2="254" stroke="#EDEDED" stroke-width="0.55"/>
<line x1="474.61" y1="249.9" x2="474.61" y2="351.2" stroke="#EDEDED" stroke-width="0.55"/>
<line x1="482.21" y1="249.9" x2="482.21" y2="351.2" stroke="#EDEDED" stroke-width="0.55"/>
<line x1="489.8" y1="249.9" x2="489.8" y2="351.2" stroke="#EDEDED" stroke-width="0.55"/>
<line x1="497.4" y1="249.9" x2="497.4" y2="351.2" stroke="#EDEDED" stroke-width="0.55"/>
<line x1="505" y1="249.9" x2="505" y2="351.2" stroke="#EDEDED" stroke-width="0.55"/>
<line x1="512.59" y1="249.9" x2="512.59" y2="351.2" stroke="#EDEDED" stroke-width="0.55"/>
<line x1="520.19" y1="249.9" x2="520.19" y2="351.2" stroke="#EDEDED" stroke-width="0.55"/>
<rect x="471.19" y="280.48" width="6.84" height="65.77" fill="#9DC3E6" stroke="#000" stroke-width="1"/>
<line x1="474.61" y1="277.33" x2="474.61" y2="283.81" stroke="#444444" stroke-width="0.7"/>
<line x1="473.06" y1="277.33" x2="476.16" y2="277.33" stroke="#444444" stroke-width="0.7"/>
<line x1="473.06" y1="283.81" x2="476.16" y2="283.81" stroke="#444444" stroke-width="0.7"/>
<rect x="478.79" y="300.98" width="6.84" height="45.27" fill="#F4A88E" stroke="#000" stroke-width="1"/>
<line x1="482.21" y1="297.65" x2="482.21" y2="304.31" stroke="#444444" stroke-width="0.7"/>
<line x1="480.66" y1="297.65" x2="483.76" y2="297.65" stroke="#444444" stroke-width="0.7"/>
<line x1="480.66" y1="304.31" x2="483.76" y2="304.31" stroke="#444444" stroke-width="0.7"/>
<rect x="486.38" y="332.34" width="6.84" height="13.91" fill="#5A9E6F" stroke="#000" stroke-width="1"/>
<line x1="489.8" y1="331.28" x2="489.8" y2="333.56" stroke="#444444" stroke-width="0.7"/>
<line x1="488.25" y1="331.28" x2="491.35" y2="331.28" stroke="#444444" stroke-width="0.7"/>
<line x1="488.25" y1="333.56" x2="491.35" y2="333.56" stroke="#444444" stroke-width="0.7"/>
<rect x="493.98" y="292.39" width="6.84" height="53.86" fill="#9C65A7" stroke="#000" stroke-width="1"/>
<line x1="497.4" y1="289.07" x2="497.4" y2="295.9" stroke="#444444" stroke-width="0.7"/>
<line x1="495.85" y1="289.07" x2="498.95" y2="289.07" stroke="#444444" stroke-width="0.7"/>
<line x1="495.85" y1="295.9" x2="498.95" y2="295.9" stroke="#444444" stroke-width="0.7"/>
<rect x="501.58" y="300.45" width="6.84" height="45.8" fill="#A6A6A6" stroke="#000" stroke-width="1"/>
<line x1="505" y1="294.5" x2="505" y2="306.41" stroke="#444444" stroke-width="0.7"/>
<line x1="503.45" y1="294.5" x2="506.55" y2="294.5" stroke="#444444" stroke-width="0.7"/>
<line x1="503.45" y1="306.41" x2="506.55" y2="306.41" stroke="#444444" stroke-width="0.7"/>
<rect x="509.18" y="300.45" width="6.84" height="45.8" fill="#F0E4A6" stroke="#000" stroke-width="1"/>
<line x1="512.59" y1="297.3" x2="512.59" y2="303.61" stroke="#444444" stroke-width="0.7"/>
<line x1="511.04" y1="297.3" x2="514.14" y2="297.3" stroke="#444444" stroke-width="0.7"/>
<line x1="511.04" y1="303.61" x2="514.14" y2="303.61" stroke="#444444" stroke-width="0.7"/>
<rect x="516.77" y="317.97" width="6.84" height="28.28" fill="#4D4D4D" stroke="#000" stroke-width="1"/>
<line x1="520.19" y1="313.59" x2="520.19" y2="322.53" stroke="#444444" stroke-width="0.7"/>
<line x1="518.64" y1="313.59" x2="521.74" y2="313.59" stroke="#444444" stroke-width="0.7"/>
<line x1="518.64" y1="322.53" x2="521.74" y2="322.53" stroke="#444444" stroke-width="0.7"/>
<line x1="530.1" y1="346.25" x2="584.8" y2="346.25" stroke="#EDEDED" stroke-width="0.55"/>
<line x1="530.1" y1="327.8" x2="584.8" y2="327.8" stroke="#EDEDED" stroke-width="0.55"/>
<line x1="530.1" y1="309.35" x2="584.8" y2="309.35" stroke="#EDEDED" stroke-width="0.55"/>
<line x1="530.1" y1="290.9" x2="584.8" y2="290.9" stroke="#EDEDED" stroke-width="0.55"/>
<line x1="530.1" y1="272.45" x2="584.8" y2="272.45" stroke="#EDEDED" stroke-width="0.55"/>
<line x1="530.1" y1="254" x2="584.8" y2="254" stroke="#EDEDED" stroke-width="0.55"/>
<line x1="534.66" y1="249.9" x2="534.66" y2="351.2" stroke="#EDEDED" stroke-width="0.55"/>
<line x1="542.26" y1="249.9" x2="542.26" y2="351.2" stroke="#EDEDED" stroke-width="0.55"/>
<line x1="549.85" y1="249.9" x2="549.85" y2="351.2" stroke="#EDEDED" stroke-width="0.55"/>
<line x1="557.45" y1="249.9" x2="557.45" y2="351.2" stroke="#EDEDED" stroke-width="0.55"/>
<line x1="565.05" y1="249.9" x2="565.05" y2="351.2" stroke="#EDEDED" stroke-width="0.55"/>
<line x1="572.64" y1="249.9" x2="572.64" y2="351.2" stroke="#EDEDED" stroke-width="0.55"/>
<line x1="580.24" y1="249.9" x2="580.24" y2="351.2" stroke="#EDEDED" stroke-width="0.55"/>
<rect x="531.24" y="257.36" width="6.84" height="88.89" fill="#9DC3E6" stroke="#000" stroke-width="1"/>
<line x1="534.66" y1="254.38" x2="534.66" y2="260.69" stroke="#444444" stroke-width="0.7"/>
<line x1="533.11" y1="254.38" x2="536.21" y2="254.38" stroke="#444444" stroke-width="0.7"/>
<line x1="533.11" y1="260.69" x2="536.21" y2="260.69" stroke="#444444" stroke-width="0.7"/>
<rect x="538.84" y="267.17" width="6.84" height="79.08" fill="#F4A88E" stroke="#000" stroke-width="1"/>
<line x1="542.26" y1="264.36" x2="542.26" y2="270.15" stroke="#444444" stroke-width="0.7"/>
<line x1="540.71" y1="264.36" x2="543.81" y2="264.36" stroke="#444444" stroke-width="0.7"/>
<line x1="540.71" y1="270.15" x2="543.81" y2="270.15" stroke="#444444" stroke-width="0.7"/>
<rect x="546.43" y="332.51" width="6.84" height="13.74" fill="#5A9E6F" stroke="#000" stroke-width="1"/>
<line x1="549.85" y1="331.46" x2="549.85" y2="333.74" stroke="#444444" stroke-width="0.7"/>
<line x1="548.3" y1="331.46" x2="551.4" y2="331.46" stroke="#444444" stroke-width="0.7"/>
<line x1="548.3" y1="333.74" x2="551.4" y2="333.74" stroke="#444444" stroke-width="0.7"/>
<rect x="554.03" y="262.26" width="6.84" height="83.99" fill="#9C65A7" stroke="#000" stroke-width="1"/>
<line x1="557.45" y1="259.28" x2="557.45" y2="265.42" stroke="#444444" stroke-width="0.7"/>
<line x1="555.9" y1="259.28" x2="559" y2="259.28" stroke="#444444" stroke-width="0.7"/>
<line x1="555.9" y1="265.42" x2="559" y2="265.42" stroke="#444444" stroke-width="0.7"/>
<rect x="561.63" y="270.5" width="6.84" height="75.75" fill="#A6A6A6" stroke="#000" stroke-width="1"/>
<line x1="565.05" y1="263.49" x2="565.05" y2="277.5" stroke="#444444" stroke-width="0.7"/>
<line x1="563.5" y1="263.49" x2="566.6" y2="263.49" stroke="#444444" stroke-width="0.7"/>
<line x1="563.5" y1="277.5" x2="566.6" y2="277.5" stroke="#444444" stroke-width="0.7"/>
<rect x="569.23" y="273.47" width="6.84" height="72.78" fill="#F0E4A6" stroke="#000" stroke-width="1"/>
<line x1="572.64" y1="270.15" x2="572.64" y2="276.98" stroke="#444444" stroke-width="0.7"/>
<line x1="571.09" y1="270.15" x2="574.19" y2="270.15" stroke="#444444" stroke-width="0.7"/>
<line x1="571.09" y1="276.98" x2="574.19" y2="276.98" stroke="#444444" stroke-width="0.7"/>
<rect x="576.82" y="301.33" width="6.84" height="44.92" fill="#4D4D4D" stroke="#000" stroke-width="1"/>
<line x1="580.24" y1="296.6" x2="580.24" y2="306.23" stroke="#444444" stroke-width="0.7"/>
<line x1="578.69" y1="296.6" x2="581.79" y2="296.6" stroke="#444444" stroke-width="0.7"/>
<line x1="578.69" y1="306.23" x2="581.79" y2="306.23" stroke="#444444" stroke-width="0.7"/>
<line x1="354.51" y1="350.8" x2="354.51" y2="353.55" stroke="#333333" stroke-width="1.25"/>
<line x1="362.11" y1="350.8" x2="362.11" y2="353.55" stroke="#333333" stroke-width="1.25"/>
<line x1="369.7" y1="350.8" x2="369.7" y2="353.55" stroke="#333333" stroke-width="1.25"/>
<line x1="377.3" y1="350.8" x2="377.3" y2="353.55" stroke="#333333" stroke-width="1.25"/>
<line x1="384.9" y1="350.8" x2="384.9" y2="353.55" stroke="#333333" stroke-width="1.25"/>
<line x1="392.49" y1="350.8" x2="392.49" y2="353.55" stroke="#333333" stroke-width="1.25"/>
<line x1="400.09" y1="350.8" x2="400.09" y2="353.55" stroke="#333333" stroke-width="1.25"/>
<line x1="414.56" y1="350.8" x2="414.56" y2="353.55" stroke="#333333" stroke-width="1.25"/>
<line x1="422.16" y1="350.8" x2="422.16" y2="353.55" stroke="#333333" stroke-width="1.25"/>
<line x1="429.75" y1="350.8" x2="429.75" y2="353.55" stroke="#333333" stroke-width="1.25"/>
<line x1="437.35" y1="350.8" x2="437.35" y2="353.55" stroke="#333333" stroke-width="1.25"/>
<line x1="444.95" y1="350.8" x2="444.95" y2="353.55" stroke="#333333" stroke-width="1.25"/>
<line x1="452.54" y1="350.8" x2="452.54" y2="353.55" stroke="#333333" stroke-width="1.25"/>
<line x1="460.14" y1="350.8" x2="460.14" y2="353.55" stroke="#333333" stroke-width="1.25"/>
<line x1="474.61" y1="350.8" x2="474.61" y2="353.55" stroke="#333333" stroke-width="1.25"/>
<line x1="482.21" y1="350.8" x2="482.21" y2="353.55" stroke="#333333" stroke-width="1.25"/>
<line x1="489.8" y1="350.8" x2="489.8" y2="353.55" stroke="#333333" stroke-width="1.25"/>
<line x1="497.4" y1="350.8" x2="497.4" y2="353.55" stroke="#333333" stroke-width="1.25"/>
<line x1="505" y1="350.8" x2="505" y2="353.55" stroke="#333333" stroke-width="1.25"/>
<line x1="512.59" y1="350.8" x2="512.59" y2="353.55" stroke="#333333" stroke-width="1.25"/>
<line x1="520.19" y1="350.8" x2="520.19" y2="353.55" stroke="#333333" stroke-width="1.25"/>
<line x1="534.66" y1="350.8" x2="534.66" y2="353.55" stroke="#333333" stroke-width="1.25"/>
<line x1="542.26" y1="350.8" x2="542.26" y2="353.55" stroke="#333333" stroke-width="1.25"/>
<line x1="549.85" y1="350.8" x2="549.85" y2="353.55" stroke="#333333" stroke-width="1.25"/>
<line x1="557.45" y1="350.8" x2="557.45" y2="353.55" stroke="#333333" stroke-width="1.25"/>
<line x1="565.05" y1="350.8" x2="565.05" y2="353.55" stroke="#333333" stroke-width="1.25"/>
<line x1="572.64" y1="350.8" x2="572.64" y2="353.55" stroke="#333333" stroke-width="1.25"/>
<line x1="580.24" y1="350.8" x2="580.24" y2="353.55" stroke="#333333" stroke-width="1.25"/>
<rect x="43.05" y="428.2" width="54.7" height="28.45" fill="#D9D9D9"/>
<rect x="103.1" y="428.2" width="54.7" height="28.45" fill="#D9D9D9"/>
<rect x="163.15" y="428.2" width="54.7" height="28.45" fill="#D9D9D9"/>
<rect x="223.2" y="428.2" width="54.7" height="28.45" fill="#D9D9D9"/>
<rect x="277.95" y="456.6" width="17.95" height="101.3" fill="#D9D9D9"/>
<line x1="40.1" y1="552.65" x2="43.05" y2="552.65" stroke="#333333" stroke-width="0.95"/>
<line x1="40.1" y1="517.55" x2="43.05" y2="517.55" stroke="#333333" stroke-width="0.95"/>
<line x1="40.1" y1="482.45" x2="43.05" y2="482.45" stroke="#333333" stroke-width="0.95"/>
<line x1="43.05" y1="552.65" x2="97.75" y2="552.65" stroke="#EDEDED" stroke-width="0.55"/>
<line x1="43.05" y1="517.55" x2="97.75" y2="517.55" stroke="#EDEDED" stroke-width="0.55"/>
<line x1="43.05" y1="482.45" x2="97.75" y2="482.45" stroke="#EDEDED" stroke-width="0.55"/>
<line x1="47.61" y1="456.6" x2="47.61" y2="557.9" stroke="#EDEDED" stroke-width="0.55"/>
<line x1="55.21" y1="456.6" x2="55.21" y2="557.9" stroke="#EDEDED" stroke-width="0.55"/>
<line x1="62.8" y1="456.6" x2="62.8" y2="557.9" stroke="#EDEDED" stroke-width="0.55"/>
<line x1="70.4" y1="456.6" x2="70.4" y2="557.9" stroke="#EDEDED" stroke-width="0.55"/>
<line x1="78" y1="456.6" x2="78" y2="557.9" stroke="#EDEDED" stroke-width="0.55"/>
<line x1="85.59" y1="456.6" x2="85.59" y2="557.9" stroke="#EDEDED" stroke-width="0.55"/>
<line x1="93.19" y1="456.6" x2="93.19" y2="557.9" stroke="#EDEDED" stroke-width="0.55"/>
<rect x="44.19" y="524.38" width="6.84" height="28.27" fill="#9DC3E6" stroke="#000" stroke-width="1"/>
<line x1="47.61" y1="521.4" x2="47.61" y2="527.88" stroke="#444444" stroke-width="0.7"/>
<line x1="46.06" y1="521.4" x2="49.16" y2="521.4" stroke="#444444" stroke-width="0.7"/>
<line x1="46.06" y1="527.88" x2="49.16" y2="527.88" stroke="#444444" stroke-width="0.7"/>
<rect x="51.79" y="549.96" width="6.84" height="2.69" fill="#F4A88E" stroke="#000" stroke-width="1"/>
<line x1="55.21" y1="548.91" x2="55.21" y2="551.01" stroke="#444444" stroke-width="0.7"/>
<line x1="53.66" y1="548.91" x2="56.76" y2="548.91" stroke="#444444" stroke-width="0.7"/>
<line x1="53.66" y1="551.01" x2="56.76" y2="551.01" stroke="#444444" stroke-width="0.7"/>
<rect x="59.38" y="525.26" width="6.84" height="27.39" fill="#5A9E6F" stroke="#000" stroke-width="1"/>
<line x1="62.8" y1="521.75" x2="62.8" y2="528.76" stroke="#444444" stroke-width="0.7"/>
<line x1="61.25" y1="521.75" x2="64.35" y2="521.75" stroke="#444444" stroke-width="0.7"/>
<line x1="61.25" y1="528.76" x2="64.35" y2="528.76" stroke="#444444" stroke-width="0.7"/>
<rect x="66.98" y="528.23" width="6.84" height="24.42" fill="#9C65A7" stroke="#000" stroke-width="1"/>
<line x1="70.4" y1="524.55" x2="70.4" y2="531.91" stroke="#444444" stroke-width="0.7"/>
<line x1="68.85" y1="524.55" x2="71.95" y2="524.55" stroke="#444444" stroke-width="0.7"/>
<line x1="68.85" y1="531.91" x2="71.95" y2="531.91" stroke="#444444" stroke-width="0.7"/>
<rect x="74.58" y="543.47" width="6.84" height="9.18" fill="#A6A6A6" stroke="#000" stroke-width="1"/>
<line x1="78" y1="541.02" x2="78" y2="546.1" stroke="#444444" stroke-width="0.7"/>
<line x1="76.45" y1="541.02" x2="79.55" y2="541.02" stroke="#444444" stroke-width="0.7"/>
<line x1="76.45" y1="546.1" x2="79.55" y2="546.1" stroke="#444444" stroke-width="0.7"/>
<rect x="82.18" y="523.33" width="6.84" height="29.32" fill="#F0E4A6" stroke="#000" stroke-width="1"/>
<line x1="85.59" y1="520.7" x2="85.59" y2="526.48" stroke="#444444" stroke-width="0.7"/>
<line x1="84.04" y1="520.7" x2="87.14" y2="520.7" stroke="#444444" stroke-width="0.7"/>
<line x1="84.04" y1="526.48" x2="87.14" y2="526.48" stroke="#444444" stroke-width="0.7"/>
<rect x="89.77" y="532.26" width="6.84" height="20.39" fill="#4D4D4D" stroke="#000" stroke-width="1"/>
<line x1="93.19" y1="527.71" x2="93.19" y2="536.99" stroke="#444444" stroke-width="0.7"/>
<line x1="91.64" y1="527.71" x2="94.74" y2="527.71" stroke="#444444" stroke-width="0.7"/>
<line x1="91.64" y1="536.99" x2="94.74" y2="536.99" stroke="#444444" stroke-width="0.7"/>
<line x1="103.1" y1="552.65" x2="157.8" y2="552.65" stroke="#EDEDED" stroke-width="0.55"/>
<line x1="103.1" y1="517.55" x2="157.8" y2="517.55" stroke="#EDEDED" stroke-width="0.55"/>
<line x1="103.1" y1="482.45" x2="157.8" y2="482.45" stroke="#EDEDED" stroke-width="0.55"/>
<line x1="107.66" y1="456.6" x2="107.66" y2="557.9" stroke="#EDEDED" stroke-width="0.55"/>
<line x1="115.26" y1="456.6" x2="115.26" y2="557.9" stroke="#EDEDED" stroke-width="0.55"/>
<line x1="122.85" y1="456.6" x2="122.85" y2="557.9" stroke="#EDEDED" stroke-width="0.55"/>
<line x1="130.45" y1="456.6" x2="130.45" y2="557.9" stroke="#EDEDED" stroke-width="0.55"/>
<line x1="138.05" y1="456.6" x2="138.05" y2="557.9" stroke="#EDEDED" stroke-width="0.55"/>
<line x1="145.64" y1="456.6" x2="145.64" y2="557.9" stroke="#EDEDED" stroke-width="0.55"/>
<line x1="153.24" y1="456.6" x2="153.24" y2="557.9" stroke="#EDEDED" stroke-width="0.55"/>
<rect x="104.24" y="522.28" width="6.84" height="30.37" fill="#9DC3E6" stroke="#000" stroke-width="1"/>
<line x1="107.66" y1="518.42" x2="107.66" y2="526.48" stroke="#444444" stroke-width="0.7"/>
<line x1="106.11" y1="518.42" x2="109.21" y2="518.42" stroke="#444444" stroke-width="0.7"/>
<line x1="106.11" y1="526.48" x2="109.21" y2="526.48" stroke="#444444" stroke-width="0.7"/>
<rect x="111.84" y="543.47" width="6.84" height="9.18" fill="#F4A88E" stroke="#000" stroke-width="1"/>
<line x1="115.26" y1="541.2" x2="115.26" y2="546.1" stroke="#444444" stroke-width="0.7"/>
<line x1="113.71" y1="541.2" x2="116.81" y2="541.2" stroke="#444444" stroke-width="0.7"/>
<line x1="113.71" y1="546.1" x2="116.81" y2="546.1" stroke="#444444" stroke-width="0.7"/>
<rect x="119.43" y="525.26" width="6.84" height="27.39" fill="#5A9E6F" stroke="#000" stroke-width="1"/>
<line x1="122.85" y1="521.75" x2="122.85" y2="528.76" stroke="#444444" stroke-width="0.7"/>
<line x1="121.3" y1="521.75" x2="124.4" y2="521.75" stroke="#444444" stroke-width="0.7"/>
<line x1="121.3" y1="528.76" x2="124.4" y2="528.76" stroke="#444444" stroke-width="0.7"/>
<rect x="127.03" y="528.93" width="6.84" height="23.72" fill="#9C65A7" stroke="#000" stroke-width="1"/>
<line x1="130.45" y1="525.61" x2="130.45" y2="532.79" stroke="#444444" stroke-width="0.7"/>
<line x1="128.9" y1="525.61" x2="132" y2="525.61" stroke="#444444" stroke-width="0.7"/>
<line x1="128.9" y1="532.79" x2="132" y2="532.79" stroke="#444444" stroke-width="0.7"/>
<rect x="134.63" y="539.09" width="6.84" height="13.56" fill="#A6A6A6" stroke="#000" stroke-width="1"/>
<line x1="138.05" y1="535.59" x2="138.05" y2="542.77" stroke="#444444" stroke-width="0.7"/>
<line x1="136.5" y1="535.59" x2="139.6" y2="535.59" stroke="#444444" stroke-width="0.7"/>
<line x1="136.5" y1="542.77" x2="139.6" y2="542.77" stroke="#444444" stroke-width="0.7"/>
<rect x="142.23" y="520.53" width="6.84" height="32.12" fill="#F0E4A6" stroke="#000" stroke-width="1"/>
<line x1="145.64" y1="517.72" x2="145.64" y2="524.03" stroke="#444444" stroke-width="0.7"/>
<line x1="144.09" y1="517.72" x2="147.19" y2="517.72" stroke="#444444" stroke-width="0.7"/>
<line x1="144.09" y1="524.03" x2="147.19" y2="524.03" stroke="#444444" stroke-width="0.7"/>
<rect x="149.82" y="531.39" width="6.84" height="21.26" fill="#4D4D4D" stroke="#000" stroke-width="1"/>
<line x1="153.24" y1="527.36" x2="153.24" y2="535.94" stroke="#444444" stroke-width="0.7"/>
<line x1="151.69" y1="527.36" x2="154.79" y2="527.36" stroke="#444444" stroke-width="0.7"/>
<line x1="151.69" y1="535.94" x2="154.79" y2="535.94" stroke="#444444" stroke-width="0.7"/>
<line x1="163.15" y1="552.65" x2="217.85" y2="552.65" stroke="#EDEDED" stroke-width="0.55"/>
<line x1="163.15" y1="517.55" x2="217.85" y2="517.55" stroke="#EDEDED" stroke-width="0.55"/>
<line x1="163.15" y1="482.45" x2="217.85" y2="482.45" stroke="#EDEDED" stroke-width="0.55"/>
<line x1="167.71" y1="456.6" x2="167.71" y2="557.9" stroke="#EDEDED" stroke-width="0.55"/>
<line x1="175.31" y1="456.6" x2="175.31" y2="557.9" stroke="#EDEDED" stroke-width="0.55"/>
<line x1="182.9" y1="456.6" x2="182.9" y2="557.9" stroke="#EDEDED" stroke-width="0.55"/>
<line x1="190.5" y1="456.6" x2="190.5" y2="557.9" stroke="#EDEDED" stroke-width="0.55"/>
<line x1="198.1" y1="456.6" x2="198.1" y2="557.9" stroke="#EDEDED" stroke-width="0.55"/>
<line x1="205.69" y1="456.6" x2="205.69" y2="557.9" stroke="#EDEDED" stroke-width="0.55"/>
<line x1="213.29" y1="456.6" x2="213.29" y2="557.9" stroke="#EDEDED" stroke-width="0.55"/>
<rect x="164.29" y="518.95" width="6.84" height="33.7" fill="#9DC3E6" stroke="#000" stroke-width="1"/>
<line x1="167.71" y1="514.74" x2="167.71" y2="523.33" stroke="#444444" stroke-width="0.7"/>
<line x1="166.16" y1="514.74" x2="169.26" y2="514.74" stroke="#444444" stroke-width="0.7"/>
<line x1="166.16" y1="523.33" x2="169.26" y2="523.33" stroke="#444444" stroke-width="0.7"/>
<rect x="171.89" y="532.61" width="6.84" height="20.04" fill="#F4A88E" stroke="#000" stroke-width="1"/>
<line x1="175.31" y1="529.46" x2="175.31" y2="535.94" stroke="#444444" stroke-width="0.7"/>
<line x1="173.76" y1="529.46" x2="176.86" y2="529.46" stroke="#444444" stroke-width="0.7"/>
<line x1="173.76" y1="535.94" x2="176.86" y2="535.94" stroke="#444444" stroke-width="0.7"/>
<rect x="179.48" y="525.26" width="6.84" height="27.39" fill="#5A9E6F" stroke="#000" stroke-width="1"/>
<line x1="182.9" y1="521.75" x2="182.9" y2="528.76" stroke="#444444" stroke-width="0.7"/>
<line x1="181.35" y1="521.75" x2="184.45" y2="521.75" stroke="#444444" stroke-width="0.7"/>
<line x1="181.35" y1="528.76" x2="184.45" y2="528.76" stroke="#444444" stroke-width="0.7"/>
<rect x="187.08" y="524.73" width="6.84" height="27.92" fill="#9C65A7" stroke="#000" stroke-width="1"/>
<line x1="190.5" y1="520.88" x2="190.5" y2="528.76" stroke="#444444" stroke-width="0.7"/>
<line x1="188.95" y1="520.88" x2="192.05" y2="520.88" stroke="#444444" stroke-width="0.7"/>
<line x1="188.95" y1="528.76" x2="192.05" y2="528.76" stroke="#444444" stroke-width="0.7"/>
<rect x="194.68" y="528.76" width="6.84" height="23.89" fill="#A6A6A6" stroke="#000" stroke-width="1"/>
<line x1="198.1" y1="524.2" x2="198.1" y2="533.31" stroke="#444444" stroke-width="0.7"/>
<line x1="196.55" y1="524.2" x2="199.65" y2="524.2" stroke="#444444" stroke-width="0.7"/>
<line x1="196.55" y1="533.31" x2="199.65" y2="533.31" stroke="#444444" stroke-width="0.7"/>
<rect x="202.28" y="516.32" width="6.84" height="36.33" fill="#F0E4A6" stroke="#000" stroke-width="1"/>
<line x1="205.69" y1="513.17" x2="205.69" y2="519.82" stroke="#444444" stroke-width="0.7"/>
<line x1="204.14" y1="513.17" x2="207.24" y2="513.17" stroke="#444444" stroke-width="0.7"/>
<line x1="204.14" y1="519.82" x2="207.24" y2="519.82" stroke="#444444" stroke-width="0.7"/>
<rect x="209.87" y="522.45" width="6.84" height="30.2" fill="#4D4D4D" stroke="#000" stroke-width="1"/>
<line x1="213.29" y1="518.42" x2="213.29" y2="526.83" stroke="#444444" stroke-width="0.7"/>
<line x1="211.74" y1="518.42" x2="214.84" y2="518.42" stroke="#444444" stroke-width="0.7"/>
<line x1="211.74" y1="526.83" x2="214.84" y2="526.83" stroke="#444444" stroke-width="0.7"/>
<line x1="223.2" y1="552.65" x2="277.9" y2="552.65" stroke="#EDEDED" stroke-width="0.55"/>
<line x1="223.2" y1="517.55" x2="277.9" y2="517.55" stroke="#EDEDED" stroke-width="0.55"/>
<line x1="223.2" y1="482.45" x2="277.9" y2="482.45" stroke="#EDEDED" stroke-width="0.55"/>
<line x1="227.76" y1="456.6" x2="227.76" y2="557.9" stroke="#EDEDED" stroke-width="0.55"/>
<line x1="235.36" y1="456.6" x2="235.36" y2="557.9" stroke="#EDEDED" stroke-width="0.55"/>
<line x1="242.95" y1="456.6" x2="242.95" y2="557.9" stroke="#EDEDED" stroke-width="0.55"/>
<line x1="250.55" y1="456.6" x2="250.55" y2="557.9" stroke="#EDEDED" stroke-width="0.55"/>
<line x1="258.15" y1="456.6" x2="258.15" y2="557.9" stroke="#EDEDED" stroke-width="0.55"/>
<line x1="265.74" y1="456.6" x2="265.74" y2="557.9" stroke="#EDEDED" stroke-width="0.55"/>
<line x1="273.34" y1="456.6" x2="273.34" y2="557.9" stroke="#EDEDED" stroke-width="0.55"/>
<rect x="224.34" y="512.47" width="6.84" height="40.18" fill="#9DC3E6" stroke="#000" stroke-width="1"/>
<line x1="227.76" y1="508.26" x2="227.76" y2="516.67" stroke="#444444" stroke-width="0.7"/>
<line x1="226.21" y1="508.26" x2="229.31" y2="508.26" stroke="#444444" stroke-width="0.7"/>
<line x1="226.21" y1="516.67" x2="229.31" y2="516.67" stroke="#444444" stroke-width="0.7"/>
<rect x="231.94" y="517.37" width="6.84" height="35.28" fill="#F4A88E" stroke="#000" stroke-width="1"/>
<line x1="235.36" y1="513.52" x2="235.36" y2="521.4" stroke="#444444" stroke-width="0.7"/>
<line x1="233.81" y1="513.52" x2="236.91" y2="513.52" stroke="#444444" stroke-width="0.7"/>
<line x1="233.81" y1="521.4" x2="236.91" y2="521.4" stroke="#444444" stroke-width="0.7"/>
<rect x="239.53" y="525.26" width="6.84" height="27.39" fill="#5A9E6F" stroke="#000" stroke-width="1"/>
<line x1="242.95" y1="521.75" x2="242.95" y2="528.76" stroke="#444444" stroke-width="0.7"/>
<line x1="241.4" y1="521.75" x2="244.5" y2="521.75" stroke="#444444" stroke-width="0.7"/>
<line x1="241.4" y1="528.76" x2="244.5" y2="528.76" stroke="#444444" stroke-width="0.7"/>
<rect x="247.13" y="514.39" width="6.84" height="38.26" fill="#9C65A7" stroke="#000" stroke-width="1"/>
<line x1="250.55" y1="510.54" x2="250.55" y2="518.42" stroke="#444444" stroke-width="0.7"/>
<line x1="249" y1="510.54" x2="252.1" y2="510.54" stroke="#444444" stroke-width="0.7"/>
<line x1="249" y1="518.42" x2="252.1" y2="518.42" stroke="#444444" stroke-width="0.7"/>
<rect x="254.73" y="514.22" width="6.84" height="38.43" fill="#A6A6A6" stroke="#000" stroke-width="1"/>
<line x1="258.15" y1="508.44" x2="258.15" y2="520.35" stroke="#444444" stroke-width="0.7"/>
<line x1="256.6" y1="508.44" x2="259.7" y2="508.44" stroke="#444444" stroke-width="0.7"/>
<line x1="256.6" y1="520.35" x2="259.7" y2="520.35" stroke="#444444" stroke-width="0.7"/>
<rect x="262.33" y="507.56" width="6.84" height="45.09" fill="#F0E4A6" stroke="#000" stroke-width="1"/>
<line x1="265.74" y1="504.58" x2="265.74" y2="510.89" stroke="#444444" stroke-width="0.7"/>
<line x1="264.19" y1="504.58" x2="267.29" y2="504.58" stroke="#444444" stroke-width="0.7"/>
<line x1="264.19" y1="510.89" x2="267.29" y2="510.89" stroke="#444444" stroke-width="0.7"/>
<rect x="269.92" y="508.44" width="6.84" height="44.21" fill="#4D4D4D" stroke="#000" stroke-width="1"/>
<line x1="273.34" y1="503.71" x2="273.34" y2="513.34" stroke="#444444" stroke-width="0.7"/>
<line x1="271.79" y1="503.71" x2="274.89" y2="503.71" stroke="#444444" stroke-width="0.7"/>
<line x1="271.79" y1="513.34" x2="274.89" y2="513.34" stroke="#444444" stroke-width="0.7"/>
<rect x="277.95" y="562.65" width="17.95" height="101.3" fill="#D9D9D9"/>
<line x1="40.1" y1="658.7" x2="43.05" y2="658.7" stroke="#333333" stroke-width="0.95"/>
<line x1="40.1" y1="623.6" x2="43.05" y2="623.6" stroke="#333333" stroke-width="0.95"/>
<line x1="40.1" y1="588.5" x2="43.05" y2="588.5" stroke="#333333" stroke-width="0.95"/>
<line x1="43.05" y1="658.7" x2="97.75" y2="658.7" stroke="#EDEDED" stroke-width="0.55"/>
<line x1="43.05" y1="623.6" x2="97.75" y2="623.6" stroke="#EDEDED" stroke-width="0.55"/>
<line x1="43.05" y1="588.5" x2="97.75" y2="588.5" stroke="#EDEDED" stroke-width="0.55"/>
<line x1="47.61" y1="562.65" x2="47.61" y2="663.95" stroke="#EDEDED" stroke-width="0.55"/>
<line x1="55.21" y1="562.65" x2="55.21" y2="663.95" stroke="#EDEDED" stroke-width="0.55"/>
<line x1="62.8" y1="562.65" x2="62.8" y2="663.95" stroke="#EDEDED" stroke-width="0.55"/>
<line x1="70.4" y1="562.65" x2="70.4" y2="663.95" stroke="#EDEDED" stroke-width="0.55"/>
<line x1="78" y1="562.65" x2="78" y2="663.95" stroke="#EDEDED" stroke-width="0.55"/>
<line x1="85.59" y1="562.65" x2="85.59" y2="663.95" stroke="#EDEDED" stroke-width="0.55"/>
<line x1="93.19" y1="562.65" x2="93.19" y2="663.95" stroke="#EDEDED" stroke-width="0.55"/>
<rect x="44.19" y="630.03" width="6.84" height="28.67" fill="#9DC3E6" stroke="#000" stroke-width="1"/>
<line x1="47.61" y1="626.53" x2="47.61" y2="633.88" stroke="#444444" stroke-width="0.7"/>
<line x1="46.06" y1="626.53" x2="49.16" y2="626.53" stroke="#444444" stroke-width="0.7"/>
<line x1="46.06" y1="633.88" x2="49.16" y2="633.88" stroke="#444444" stroke-width="0.7"/>
<rect x="51.79" y="656.13" width="6.84" height="2.57" fill="#F4A88E" stroke="#000" stroke-width="1"/>
<line x1="55.21" y1="655.08" x2="55.21" y2="657.18" stroke="#444444" stroke-width="0.7"/>
<line x1="53.66" y1="655.08" x2="56.76" y2="655.08" stroke="#444444" stroke-width="0.7"/>
<line x1="53.66" y1="657.18" x2="56.76" y2="657.18" stroke="#444444" stroke-width="0.7"/>
<rect x="59.38" y="638.26" width="6.84" height="20.44" fill="#5A9E6F" stroke="#000" stroke-width="1"/>
<line x1="62.8" y1="636.34" x2="62.8" y2="640.36" stroke="#444444" stroke-width="0.7"/>
<line x1="61.25" y1="636.34" x2="64.35" y2="636.34" stroke="#444444" stroke-width="0.7"/>
<line x1="61.25" y1="640.36" x2="64.35" y2="640.36" stroke="#444444" stroke-width="0.7"/>
<rect x="66.98" y="638.61" width="6.84" height="20.09" fill="#9C65A7" stroke="#000" stroke-width="1"/>
<line x1="70.4" y1="636.51" x2="70.4" y2="640.89" stroke="#444444" stroke-width="0.7"/>
<line x1="68.85" y1="636.51" x2="71.95" y2="636.51" stroke="#444444" stroke-width="0.7"/>
<line x1="68.85" y1="640.89" x2="71.95" y2="640.89" stroke="#444444" stroke-width="0.7"/>
<rect x="74.58" y="649.12" width="6.84" height="9.58" fill="#A6A6A6" stroke="#000" stroke-width="1"/>
<line x1="78" y1="646.5" x2="78" y2="651.93" stroke="#444444" stroke-width="0.7"/>
<line x1="76.45" y1="646.5" x2="79.55" y2="646.5" stroke="#444444" stroke-width="0.7"/>
<line x1="76.45" y1="651.93" x2="79.55" y2="651.93" stroke="#444444" stroke-width="0.7"/>
<rect x="82.18" y="639.14" width="6.84" height="19.56" fill="#F0E4A6" stroke="#000" stroke-width="1"/>
<line x1="85.59" y1="637.21" x2="85.59" y2="641.07" stroke="#444444" stroke-width="0.7"/>
<line x1="84.04" y1="637.21" x2="87.14" y2="637.21" stroke="#444444" stroke-width="0.7"/>
<line x1="84.04" y1="641.07" x2="87.14" y2="641.07" stroke="#444444" stroke-width="0.7"/>
<rect x="89.77" y="638.26" width="6.84" height="20.44" fill="#4D4D4D" stroke="#000" stroke-width="1"/>
<line x1="93.19" y1="634.06" x2="93.19" y2="642.64" stroke="#444444" stroke-width="0.7"/>
<line x1="91.64" y1="634.06" x2="94.74" y2="634.06" stroke="#444444" stroke-width="0.7"/>
<line x1="91.64" y1="642.64" x2="94.74" y2="642.64" stroke="#444444" stroke-width="0.7"/>
<line x1="103.1" y1="658.7" x2="157.8" y2="658.7" stroke="#EDEDED" stroke-width="0.55"/>
<line x1="103.1" y1="623.6" x2="157.8" y2="623.6" stroke="#EDEDED" stroke-width="0.55"/>
<line x1="103.1" y1="588.5" x2="157.8" y2="588.5" stroke="#EDEDED" stroke-width="0.55"/>
<line x1="107.66" y1="562.65" x2="107.66" y2="663.95" stroke="#EDEDED" stroke-width="0.55"/>
<line x1="115.26" y1="562.65" x2="115.26" y2="663.95" stroke="#EDEDED" stroke-width="0.55"/>
<line x1="122.85" y1="562.65" x2="122.85" y2="663.95" stroke="#EDEDED" stroke-width="0.55"/>
<line x1="130.45" y1="562.65" x2="130.45" y2="663.95" stroke="#EDEDED" stroke-width="0.55"/>
<line x1="138.05" y1="562.65" x2="138.05" y2="663.95" stroke="#EDEDED" stroke-width="0.55"/>
<line x1="145.64" y1="562.65" x2="145.64" y2="663.95" stroke="#EDEDED" stroke-width="0.55"/>
<line x1="153.24" y1="562.65" x2="153.24" y2="663.95" stroke="#EDEDED" stroke-width="0.55"/>
<rect x="104.24" y="627.4" width="6.84" height="31.3" fill="#9DC3E6" stroke="#000" stroke-width="1"/>
<line x1="107.66" y1="623.55" x2="107.66" y2="631.61" stroke="#444444" stroke-width="0.7"/>
<line x1="106.11" y1="623.55" x2="109.21" y2="623.55" stroke="#444444" stroke-width="0.7"/>
<line x1="106.11" y1="631.61" x2="109.21" y2="631.61" stroke="#444444" stroke-width="0.7"/>
<rect x="111.84" y="649.47" width="6.84" height="9.23" fill="#F4A88E" stroke="#000" stroke-width="1"/>
<line x1="115.26" y1="647.2" x2="115.26" y2="652.1" stroke="#444444" stroke-width="0.7"/>
<line x1="113.71" y1="647.2" x2="116.81" y2="647.2" stroke="#444444" stroke-width="0.7"/>
<line x1="113.71" y1="652.1" x2="116.81" y2="652.1" stroke="#444444" stroke-width="0.7"/>
<rect x="119.43" y="638.44" width="6.84" height="20.26" fill="#5A9E6F" stroke="#000" stroke-width="1"/>
<line x1="122.85" y1="636.51" x2="122.85" y2="640.54" stroke="#444444" stroke-width="0.7"/>
<line x1="121.3" y1="636.51" x2="124.4" y2="636.51" stroke="#444444" stroke-width="0.7"/>
<line x1="121.3" y1="640.54" x2="124.4" y2="640.54" stroke="#444444" stroke-width="0.7"/>
<rect x="127.03" y="635.46" width="6.84" height="23.24" fill="#9C65A7" stroke="#000" stroke-width="1"/>
<line x1="130.45" y1="632.66" x2="130.45" y2="638.26" stroke="#444444" stroke-width="0.7"/>
<line x1="128.9" y1="632.66" x2="132" y2="632.66" stroke="#444444" stroke-width="0.7"/>
<line x1="128.9" y1="638.26" x2="132" y2="638.26" stroke="#444444" stroke-width="0.7"/>
<rect x="134.63" y="646.15" width="6.84" height="12.55" fill="#A6A6A6" stroke="#000" stroke-width="1"/>
<line x1="138.05" y1="642.29" x2="138.05" y2="650.18" stroke="#444444" stroke-width="0.7"/>
<line x1="136.5" y1="642.29" x2="139.6" y2="642.29" stroke="#444444" stroke-width="0.7"/>
<line x1="136.5" y1="650.18" x2="139.6" y2="650.18" stroke="#444444" stroke-width="0.7"/>
<rect x="142.23" y="636.34" width="6.84" height="22.36" fill="#F0E4A6" stroke="#000" stroke-width="1"/>
<line x1="145.64" y1="633.01" x2="145.64" y2="639.84" stroke="#444444" stroke-width="0.7"/>
<line x1="144.09" y1="633.01" x2="147.19" y2="633.01" stroke="#444444" stroke-width="0.7"/>
<line x1="144.09" y1="639.84" x2="147.19" y2="639.84" stroke="#444444" stroke-width="0.7"/>
<rect x="149.82" y="637.39" width="6.84" height="21.31" fill="#4D4D4D" stroke="#000" stroke-width="1"/>
<line x1="153.24" y1="633.53" x2="153.24" y2="641.59" stroke="#444444" stroke-width="0.7"/>
<line x1="151.69" y1="633.53" x2="154.79" y2="633.53" stroke="#444444" stroke-width="0.7"/>
<line x1="151.69" y1="641.59" x2="154.79" y2="641.59" stroke="#444444" stroke-width="0.7"/>
<line x1="163.15" y1="658.7" x2="217.85" y2="658.7" stroke="#EDEDED" stroke-width="0.55"/>
<line x1="163.15" y1="623.6" x2="217.85" y2="623.6" stroke="#EDEDED" stroke-width="0.55"/>
<line x1="163.15" y1="588.5" x2="217.85" y2="588.5" stroke="#EDEDED" stroke-width="0.55"/>
<line x1="167.71" y1="562.65" x2="167.71" y2="663.95" stroke="#EDEDED" stroke-width="0.55"/>
<line x1="175.31" y1="562.65" x2="175.31" y2="663.95" stroke="#EDEDED" stroke-width="0.55"/>
<line x1="182.9" y1="562.65" x2="182.9" y2="663.95" stroke="#EDEDED" stroke-width="0.55"/>
<line x1="190.5" y1="562.65" x2="190.5" y2="663.95" stroke="#EDEDED" stroke-width="0.55"/>
<line x1="198.1" y1="562.65" x2="198.1" y2="663.95" stroke="#EDEDED" stroke-width="0.55"/>
<line x1="205.69" y1="562.65" x2="205.69" y2="663.95" stroke="#EDEDED" stroke-width="0.55"/>
<line x1="213.29" y1="562.65" x2="213.29" y2="663.95" stroke="#EDEDED" stroke-width="0.55"/>
<rect x="164.29" y="623.37" width="6.84" height="35.33" fill="#9DC3E6" stroke="#000" stroke-width="1"/>
<line x1="167.71" y1="619.34" x2="167.71" y2="627.75" stroke="#444444" stroke-width="0.7"/>
<line x1="166.16" y1="619.34" x2="169.26" y2="619.34" stroke="#444444" stroke-width="0.7"/>
<line x1="166.16" y1="627.75" x2="169.26" y2="627.75" stroke="#444444" stroke-width="0.7"/>
<rect x="171.89" y="638.26" width="6.84" height="20.44" fill="#F4A88E" stroke="#000" stroke-width="1"/>
<line x1="175.31" y1="634.76" x2="175.31" y2="641.24" stroke="#444444" stroke-width="0.7"/>
<line x1="173.76" y1="634.76" x2="176.86" y2="634.76" stroke="#444444" stroke-width="0.7"/>
<line x1="173.76" y1="641.24" x2="176.86" y2="641.24" stroke="#444444" stroke-width="0.7"/>
<rect x="179.48" y="638.61" width="6.84" height="20.09" fill="#5A9E6F" stroke="#000" stroke-width="1"/>
<line x1="182.9" y1="636.51" x2="182.9" y2="640.89" stroke="#444444" stroke-width="0.7"/>
<line x1="181.35" y1="636.51" x2="184.45" y2="636.51" stroke="#444444" stroke-width="0.7"/>
<line x1="181.35" y1="640.89" x2="184.45" y2="640.89" stroke="#444444" stroke-width="0.7"/>
<rect x="187.08" y="628.45" width="6.84" height="30.25" fill="#9C65A7" stroke="#000" stroke-width="1"/>
<line x1="190.5" y1="625.3" x2="190.5" y2="631.78" stroke="#444444" stroke-width="0.7"/>
<line x1="188.95" y1="625.3" x2="192.05" y2="625.3" stroke="#444444" stroke-width="0.7"/>
<line x1="188.95" y1="631.78" x2="192.05" y2="631.78" stroke="#444444" stroke-width="0.7"/>
<rect x="194.68" y="636.51" width="6.84" height="22.19" fill="#A6A6A6" stroke="#000" stroke-width="1"/>
<line x1="198.1" y1="630.38" x2="198.1" y2="642.47" stroke="#444444" stroke-width="0.7"/>
<line x1="196.55" y1="630.38" x2="199.65" y2="630.38" stroke="#444444" stroke-width="0.7"/>
<line x1="196.55" y1="642.47" x2="199.65" y2="642.47" stroke="#444444" stroke-width="0.7"/>
<rect x="202.28" y="627.4" width="6.84" height="31.3" fill="#F0E4A6" stroke="#000" stroke-width="1"/>
<line x1="205.69" y1="623.2" x2="205.69" y2="631.43" stroke="#444444" stroke-width="0.7"/>
<line x1="204.14" y1="623.2" x2="207.24" y2="623.2" stroke="#444444" stroke-width="0.7"/>
<line x1="204.14" y1="631.43" x2="207.24" y2="631.43" stroke="#444444" stroke-width="0.7"/>
<rect x="209.87" y="628.45" width="6.84" height="30.25" fill="#4D4D4D" stroke="#000" stroke-width="1"/>
<line x1="213.29" y1="624.42" x2="213.29" y2="632.66" stroke="#444444" stroke-width="0.7"/>
<line x1="211.74" y1="624.42" x2="214.84" y2="624.42" stroke="#444444" stroke-width="0.7"/>
<line x1="211.74" y1="632.66" x2="214.84" y2="632.66" stroke="#444444" stroke-width="0.7"/>
<line x1="223.2" y1="658.7" x2="277.9" y2="658.7" stroke="#EDEDED" stroke-width="0.55"/>
<line x1="223.2" y1="623.6" x2="277.9" y2="623.6" stroke="#EDEDED" stroke-width="0.55"/>
<line x1="223.2" y1="588.5" x2="277.9" y2="588.5" stroke="#EDEDED" stroke-width="0.55"/>
<line x1="227.76" y1="562.65" x2="227.76" y2="663.95" stroke="#EDEDED" stroke-width="0.55"/>
<line x1="235.36" y1="562.65" x2="235.36" y2="663.95" stroke="#EDEDED" stroke-width="0.55"/>
<line x1="242.95" y1="562.65" x2="242.95" y2="663.95" stroke="#EDEDED" stroke-width="0.55"/>
<line x1="250.55" y1="562.65" x2="250.55" y2="663.95" stroke="#EDEDED" stroke-width="0.55"/>
<line x1="258.15" y1="562.65" x2="258.15" y2="663.95" stroke="#EDEDED" stroke-width="0.55"/>
<line x1="265.74" y1="562.65" x2="265.74" y2="663.95" stroke="#EDEDED" stroke-width="0.55"/>
<line x1="273.34" y1="562.65" x2="273.34" y2="663.95" stroke="#EDEDED" stroke-width="0.55"/>
<rect x="224.34" y="617.42" width="6.84" height="41.28" fill="#9DC3E6" stroke="#000" stroke-width="1"/>
<line x1="227.76" y1="612.86" x2="227.76" y2="621.8" stroke="#444444" stroke-width="0.7"/>
<line x1="226.21" y1="612.86" x2="229.31" y2="612.86" stroke="#444444" stroke-width="0.7"/>
<line x1="226.21" y1="621.8" x2="229.31" y2="621.8" stroke="#444444" stroke-width="0.7"/>
<rect x="231.94" y="622.5" width="6.84" height="36.2" fill="#F4A88E" stroke="#000" stroke-width="1"/>
<line x1="235.36" y1="618.47" x2="235.36" y2="626.35" stroke="#444444" stroke-width="0.7"/>
<line x1="233.81" y1="618.47" x2="236.91" y2="618.47" stroke="#444444" stroke-width="0.7"/>
<line x1="233.81" y1="626.35" x2="236.91" y2="626.35" stroke="#444444" stroke-width="0.7"/>
<rect x="239.53" y="638.61" width="6.84" height="20.09" fill="#5A9E6F" stroke="#000" stroke-width="1"/>
<line x1="242.95" y1="636.51" x2="242.95" y2="640.89" stroke="#444444" stroke-width="0.7"/>
<line x1="241.4" y1="636.51" x2="244.5" y2="636.51" stroke="#444444" stroke-width="0.7"/>
<line x1="241.4" y1="640.89" x2="244.5" y2="640.89" stroke="#444444" stroke-width="0.7"/>
<rect x="247.13" y="616.54" width="6.84" height="42.16" fill="#9C65A7" stroke="#000" stroke-width="1"/>
<line x1="250.55" y1="613.04" x2="250.55" y2="620.22" stroke="#444444" stroke-width="0.7"/>
<line x1="249" y1="613.04" x2="252.1" y2="613.04" stroke="#444444" stroke-width="0.7"/>
<line x1="249" y1="620.22" x2="252.1" y2="620.22" stroke="#444444" stroke-width="0.7"/>
<rect x="254.73" y="623.55" width="6.84" height="35.15" fill="#A6A6A6" stroke="#000" stroke-width="1"/>
<line x1="258.15" y1="615.49" x2="258.15" y2="631.96" stroke="#444444" stroke-width="0.7"/>
<line x1="256.6" y1="615.49" x2="259.7" y2="615.49" stroke="#444444" stroke-width="0.7"/>
<line x1="256.6" y1="631.96" x2="259.7" y2="631.96" stroke="#444444" stroke-width="0.7"/>
<rect x="262.33" y="615.31" width="6.84" height="43.39" fill="#F0E4A6" stroke="#000" stroke-width="1"/>
<line x1="265.74" y1="610.76" x2="265.74" y2="619.34" stroke="#444444" stroke-width="0.7"/>
<line x1="264.19" y1="610.76" x2="267.29" y2="610.76" stroke="#444444" stroke-width="0.7"/>
<line x1="264.19" y1="619.34" x2="267.29" y2="619.34" stroke="#444444" stroke-width="0.7"/>
<rect x="269.92" y="614.26" width="6.84" height="44.44" fill="#4D4D4D" stroke="#000" stroke-width="1"/>
<line x1="273.34" y1="609.71" x2="273.34" y2="619.17" stroke="#444444" stroke-width="0.7"/>
<line x1="271.79" y1="609.71" x2="274.89" y2="609.71" stroke="#444444" stroke-width="0.7"/>
<line x1="271.79" y1="619.17" x2="274.89" y2="619.17" stroke="#444444" stroke-width="0.7"/>
<rect x="277.95" y="668.7" width="17.95" height="101.3" fill="#D9D9D9"/>
<line x1="40.1" y1="764.75" x2="43.05" y2="764.75" stroke="#333333" stroke-width="0.95"/>
<line x1="40.1" y1="729.65" x2="43.05" y2="729.65" stroke="#333333" stroke-width="0.95"/>
<line x1="40.1" y1="694.55" x2="43.05" y2="694.55" stroke="#333333" stroke-width="0.95"/>
<line x1="43.05" y1="764.75" x2="97.75" y2="764.75" stroke="#EDEDED" stroke-width="0.55"/>
<line x1="43.05" y1="729.65" x2="97.75" y2="729.65" stroke="#EDEDED" stroke-width="0.55"/>
<line x1="43.05" y1="694.55" x2="97.75" y2="694.55" stroke="#EDEDED" stroke-width="0.55"/>
<line x1="47.61" y1="668.7" x2="47.61" y2="770" stroke="#EDEDED" stroke-width="0.55"/>
<line x1="55.21" y1="668.7" x2="55.21" y2="770" stroke="#EDEDED" stroke-width="0.55"/>
<line x1="62.8" y1="668.7" x2="62.8" y2="770" stroke="#EDEDED" stroke-width="0.55"/>
<line x1="70.4" y1="668.7" x2="70.4" y2="770" stroke="#EDEDED" stroke-width="0.55"/>
<line x1="78" y1="668.7" x2="78" y2="770" stroke="#EDEDED" stroke-width="0.55"/>
<line x1="85.59" y1="668.7" x2="85.59" y2="770" stroke="#EDEDED" stroke-width="0.55"/>
<line x1="93.19" y1="668.7" x2="93.19" y2="770" stroke="#EDEDED" stroke-width="0.55"/>
<rect x="44.19" y="718.45" width="6.84" height="46.3" fill="#9DC3E6" stroke="#000" stroke-width="1"/>
<line x1="47.61" y1="715.47" x2="47.61" y2="721.61" stroke="#444444" stroke-width="0.7"/>
<line x1="46.06" y1="715.47" x2="49.16" y2="715.47" stroke="#444444" stroke-width="0.7"/>
<line x1="46.06" y1="721.61" x2="49.16" y2="721.61" stroke="#444444" stroke-width="0.7"/>
<rect x="51.79" y="759.09" width="6.84" height="5.66" fill="#F4A88E" stroke="#000" stroke-width="1"/>
<line x1="55.21" y1="757.87" x2="55.21" y2="760.5" stroke="#444444" stroke-width="0.7"/>
<line x1="53.66" y1="757.87" x2="56.76" y2="757.87" stroke="#444444" stroke-width="0.7"/>
<line x1="53.66" y1="760.5" x2="56.76" y2="760.5" stroke="#444444" stroke-width="0.7"/>
<rect x="59.38" y="737.72" width="6.84" height="27.03" fill="#5A9E6F" stroke="#000" stroke-width="1"/>
<line x1="62.8" y1="736.5" x2="62.8" y2="738.95" stroke="#444444" stroke-width="0.7"/>
<line x1="61.25" y1="736.5" x2="64.35" y2="736.5" stroke="#444444" stroke-width="0.7"/>
<line x1="61.25" y1="738.95" x2="64.35" y2="738.95" stroke="#444444" stroke-width="0.7"/>
<rect x="66.98" y="733.17" width="6.84" height="31.58" fill="#9C65A7" stroke="#000" stroke-width="1"/>
<line x1="70.4" y1="730.19" x2="70.4" y2="736.15" stroke="#444444" stroke-width="0.7"/>
<line x1="68.85" y1="730.19" x2="71.95" y2="730.19" stroke="#444444" stroke-width="0.7"/>
<line x1="68.85" y1="736.15" x2="71.95" y2="736.15" stroke="#444444" stroke-width="0.7"/>
<rect x="74.58" y="745.43" width="6.84" height="19.32" fill="#A6A6A6" stroke="#000" stroke-width="1"/>
<line x1="78" y1="743.15" x2="78" y2="747.71" stroke="#444444" stroke-width="0.7"/>
<line x1="76.45" y1="743.15" x2="79.55" y2="743.15" stroke="#444444" stroke-width="0.7"/>
<line x1="76.45" y1="747.71" x2="79.55" y2="747.71" stroke="#444444" stroke-width="0.7"/>
<rect x="82.18" y="739.3" width="6.84" height="25.45" fill="#F0E4A6" stroke="#000" stroke-width="1"/>
<line x1="85.59" y1="737.37" x2="85.59" y2="741.4" stroke="#444444" stroke-width="0.7"/>
<line x1="84.04" y1="737.37" x2="87.14" y2="737.37" stroke="#444444" stroke-width="0.7"/>
<line x1="84.04" y1="741.4" x2="87.14" y2="741.4" stroke="#444444" stroke-width="0.7"/>
<rect x="89.77" y="744.2" width="6.84" height="20.55" fill="#4D4D4D" stroke="#000" stroke-width="1"/>
<line x1="93.19" y1="740" x2="93.19" y2="748.41" stroke="#444444" stroke-width="0.7"/>
<line x1="91.64" y1="740" x2="94.74" y2="740" stroke="#444444" stroke-width="0.7"/>
<line x1="91.64" y1="748.41" x2="94.74" y2="748.41" stroke="#444444" stroke-width="0.7"/>
<line x1="103.1" y1="764.75" x2="157.8" y2="764.75" stroke="#EDEDED" stroke-width="0.55"/>
<line x1="103.1" y1="729.65" x2="157.8" y2="729.65" stroke="#EDEDED" stroke-width="0.55"/>
<line x1="103.1" y1="694.55" x2="157.8" y2="694.55" stroke="#EDEDED" stroke-width="0.55"/>
<line x1="107.66" y1="668.7" x2="107.66" y2="770" stroke="#EDEDED" stroke-width="0.55"/>
<line x1="115.26" y1="668.7" x2="115.26" y2="770" stroke="#EDEDED" stroke-width="0.55"/>
<line x1="122.85" y1="668.7" x2="122.85" y2="770" stroke="#EDEDED" stroke-width="0.55"/>
<line x1="130.45" y1="668.7" x2="130.45" y2="770" stroke="#EDEDED" stroke-width="0.55"/>
<line x1="138.05" y1="668.7" x2="138.05" y2="770" stroke="#EDEDED" stroke-width="0.55"/>
<line x1="145.64" y1="668.7" x2="145.64" y2="770" stroke="#EDEDED" stroke-width="0.55"/>
<line x1="153.24" y1="668.7" x2="153.24" y2="770" stroke="#EDEDED" stroke-width="0.55"/>
<rect x="104.24" y="708.29" width="6.84" height="56.46" fill="#9DC3E6" stroke="#000" stroke-width="1"/>
<line x1="107.66" y1="705.31" x2="107.66" y2="711.45" stroke="#444444" stroke-width="0.7"/>
<line x1="106.11" y1="705.31" x2="109.21" y2="705.31" stroke="#444444" stroke-width="0.7"/>
<line x1="106.11" y1="711.45" x2="109.21" y2="711.45" stroke="#444444" stroke-width="0.7"/>
<rect x="111.84" y="744.55" width="6.84" height="20.2" fill="#F4A88E" stroke="#000" stroke-width="1"/>
<line x1="115.26" y1="742.1" x2="115.26" y2="747.18" stroke="#444444" stroke-width="0.7"/>
<line x1="113.71" y1="742.1" x2="116.81" y2="742.1" stroke="#444444" stroke-width="0.7"/>
<line x1="113.71" y1="747.18" x2="116.81" y2="747.18" stroke="#444444" stroke-width="0.7"/>
<rect x="119.43" y="738.25" width="6.84" height="26.5" fill="#5A9E6F" stroke="#000" stroke-width="1"/>
<line x1="122.85" y1="736.85" x2="122.85" y2="739.65" stroke="#444444" stroke-width="0.7"/>
<line x1="121.3" y1="736.85" x2="124.4" y2="736.85" stroke="#444444" stroke-width="0.7"/>
<line x1="121.3" y1="739.65" x2="124.4" y2="739.65" stroke="#444444" stroke-width="0.7"/>
<rect x="127.03" y="720.73" width="6.84" height="44.02" fill="#9C65A7" stroke="#000" stroke-width="1"/>
<line x1="130.45" y1="718.28" x2="130.45" y2="723.36" stroke="#444444" stroke-width="0.7"/>
<line x1="128.9" y1="718.28" x2="132" y2="718.28" stroke="#444444" stroke-width="0.7"/>
<line x1="128.9" y1="723.36" x2="132" y2="723.36" stroke="#444444" stroke-width="0.7"/>
<rect x="134.63" y="734.74" width="6.84" height="30.01" fill="#A6A6A6" stroke="#000" stroke-width="1"/>
<line x1="138.05" y1="731.42" x2="138.05" y2="738.25" stroke="#444444" stroke-width="0.7"/>
<line x1="136.5" y1="731.42" x2="139.6" y2="731.42" stroke="#444444" stroke-width="0.7"/>
<line x1="136.5" y1="738.25" x2="139.6" y2="738.25" stroke="#444444" stroke-width="0.7"/>
<rect x="142.23" y="730.54" width="6.84" height="34.21" fill="#F0E4A6" stroke="#000" stroke-width="1"/>
<line x1="145.64" y1="728.26" x2="145.64" y2="733.34" stroke="#444444" stroke-width="0.7"/>
<line x1="144.09" y1="728.26" x2="147.19" y2="728.26" stroke="#444444" stroke-width="0.7"/>
<line x1="144.09" y1="733.34" x2="147.19" y2="733.34" stroke="#444444" stroke-width="0.7"/>
<rect x="149.82" y="743.5" width="6.84" height="21.25" fill="#4D4D4D" stroke="#000" stroke-width="1"/>
<line x1="153.24" y1="739.82" x2="153.24" y2="747.36" stroke="#444444" stroke-width="0.7"/>
<line x1="151.69" y1="739.82" x2="154.79" y2="739.82" stroke="#444444" stroke-width="0.7"/>
<line x1="151.69" y1="747.36" x2="154.79" y2="747.36" stroke="#444444" stroke-width="0.7"/>
<line x1="163.15" y1="764.75" x2="217.85" y2="764.75" stroke="#EDEDED" stroke-width="0.55"/>
<line x1="163.15" y1="729.65" x2="217.85" y2="729.65" stroke="#EDEDED" stroke-width="0.55"/>
<line x1="163.15" y1="694.55" x2="217.85" y2="694.55" stroke="#EDEDED" stroke-width="0.55"/>
<line x1="167.71" y1="668.7" x2="167.71" y2="770" stroke="#EDEDED" stroke-width="0.55"/>
<line x1="175.31" y1="668.7" x2="175.31" y2="770" stroke="#EDEDED" stroke-width="0.55"/>
<line x1="182.9" y1="668.7" x2="182.9" y2="770" stroke="#EDEDED" stroke-width="0.55"/>
<line x1="190.5" y1="668.7" x2="190.5" y2="770" stroke="#EDEDED" stroke-width="0.55"/>
<line x1="198.1" y1="668.7" x2="198.1" y2="770" stroke="#EDEDED" stroke-width="0.55"/>
<line x1="205.69" y1="668.7" x2="205.69" y2="770" stroke="#EDEDED" stroke-width="0.55"/>
<line x1="213.29" y1="668.7" x2="213.29" y2="770" stroke="#EDEDED" stroke-width="0.55"/>
<rect x="164.29" y="695.15" width="6.84" height="69.6" fill="#9DC3E6" stroke="#000" stroke-width="1"/>
<line x1="167.71" y1="692.35" x2="167.71" y2="698.13" stroke="#444444" stroke-width="0.7"/>
<line x1="166.16" y1="692.35" x2="169.26" y2="692.35" stroke="#444444" stroke-width="0.7"/>
<line x1="166.16" y1="698.13" x2="169.26" y2="698.13" stroke="#444444" stroke-width="0.7"/>
<rect x="171.89" y="721.43" width="6.84" height="43.32" fill="#F4A88E" stroke="#000" stroke-width="1"/>
<line x1="175.31" y1="718.63" x2="175.31" y2="724.41" stroke="#444444" stroke-width="0.7"/>
<line x1="173.76" y1="718.63" x2="176.86" y2="718.63" stroke="#444444" stroke-width="0.7"/>
<line x1="173.76" y1="724.41" x2="176.86" y2="724.41" stroke="#444444" stroke-width="0.7"/>
<rect x="179.48" y="738.07" width="6.84" height="26.68" fill="#5A9E6F" stroke="#000" stroke-width="1"/>
<line x1="182.9" y1="736.85" x2="182.9" y2="739.47" stroke="#444444" stroke-width="0.7"/>
<line x1="181.35" y1="736.85" x2="184.45" y2="736.85" stroke="#444444" stroke-width="0.7"/>
<line x1="181.35" y1="739.47" x2="184.45" y2="739.47" stroke="#444444" stroke-width="0.7"/>
<rect x="187.08" y="705.31" width="6.84" height="59.44" fill="#9C65A7" stroke="#000" stroke-width="1"/>
<line x1="190.5" y1="702.51" x2="190.5" y2="708.29" stroke="#444444" stroke-width="0.7"/>
<line x1="188.95" y1="702.51" x2="192.05" y2="702.51" stroke="#444444" stroke-width="0.7"/>
<line x1="188.95" y1="708.29" x2="192.05" y2="708.29" stroke="#444444" stroke-width="0.7"/>
<rect x="194.68" y="717.58" width="6.84" height="47.17" fill="#A6A6A6" stroke="#000" stroke-width="1"/>
<line x1="198.1" y1="713.02" x2="198.1" y2="722.31" stroke="#444444" stroke-width="0.7"/>
<line x1="196.55" y1="713.02" x2="199.65" y2="713.02" stroke="#444444" stroke-width="0.7"/>
<line x1="196.55" y1="722.31" x2="199.65" y2="722.31" stroke="#444444" stroke-width="0.7"/>
<rect x="202.28" y="715.47" width="6.84" height="49.28" fill="#F0E4A6" stroke="#000" stroke-width="1"/>
<line x1="205.69" y1="712.5" x2="205.69" y2="718.63" stroke="#444444" stroke-width="0.7"/>
<line x1="204.14" y1="712.5" x2="207.24" y2="712.5" stroke="#444444" stroke-width="0.7"/>
<line x1="204.14" y1="718.63" x2="207.24" y2="718.63" stroke="#444444" stroke-width="0.7"/>
<rect x="209.87" y="734.39" width="6.84" height="30.36" fill="#4D4D4D" stroke="#000" stroke-width="1"/>
<line x1="213.29" y1="730.36" x2="213.29" y2="738.42" stroke="#444444" stroke-width="0.7"/>
<line x1="211.74" y1="730.36" x2="214.84" y2="730.36" stroke="#444444" stroke-width="0.7"/>
<line x1="211.74" y1="738.42" x2="214.84" y2="738.42" stroke="#444444" stroke-width="0.7"/>
<line x1="223.2" y1="764.75" x2="277.9" y2="764.75" stroke="#EDEDED" stroke-width="0.55"/>
<line x1="223.2" y1="729.65" x2="277.9" y2="729.65" stroke="#EDEDED" stroke-width="0.55"/>
<line x1="223.2" y1="694.55" x2="277.9" y2="694.55" stroke="#EDEDED" stroke-width="0.55"/>
<line x1="227.76" y1="668.7" x2="227.76" y2="770" stroke="#EDEDED" stroke-width="0.55"/>
<line x1="235.36" y1="668.7" x2="235.36" y2="770" stroke="#EDEDED" stroke-width="0.55"/>
<line x1="242.95" y1="668.7" x2="242.95" y2="770" stroke="#EDEDED" stroke-width="0.55"/>
<line x1="250.55" y1="668.7" x2="250.55" y2="770" stroke="#EDEDED" stroke-width="0.55"/>
<line x1="258.15" y1="668.7" x2="258.15" y2="770" stroke="#EDEDED" stroke-width="0.55"/>
<line x1="265.74" y1="668.7" x2="265.74" y2="770" stroke="#EDEDED" stroke-width="0.55"/>
<line x1="273.34" y1="668.7" x2="273.34" y2="770" stroke="#EDEDED" stroke-width="0.55"/>
<rect x="224.34" y="676.06" width="6.84" height="88.69" fill="#9DC3E6" stroke="#000" stroke-width="1"/>
<line x1="227.76" y1="673.08" x2="227.76" y2="679.21" stroke="#444444" stroke-width="0.7"/>
<line x1="226.21" y1="673.08" x2="229.31" y2="673.08" stroke="#444444" stroke-width="0.7"/>
<line x1="226.21" y1="679.21" x2="229.31" y2="679.21" stroke="#444444" stroke-width="0.7"/>
<rect x="231.94" y="689.37" width="6.84" height="75.38" fill="#F4A88E" stroke="#000" stroke-width="1"/>
<line x1="235.36" y1="686.39" x2="235.36" y2="692.53" stroke="#444444" stroke-width="0.7"/>
<line x1="233.81" y1="686.39" x2="236.91" y2="686.39" stroke="#444444" stroke-width="0.7"/>
<line x1="233.81" y1="692.53" x2="236.91" y2="692.53" stroke="#444444" stroke-width="0.7"/>
<rect x="239.53" y="737.55" width="6.84" height="27.2" fill="#5A9E6F" stroke="#000" stroke-width="1"/>
<line x1="242.95" y1="736.15" x2="242.95" y2="739.12" stroke="#444444" stroke-width="0.7"/>
<line x1="241.4" y1="736.15" x2="244.5" y2="736.15" stroke="#444444" stroke-width="0.7"/>
<line x1="241.4" y1="739.12" x2="244.5" y2="739.12" stroke="#444444" stroke-width="0.7"/>
<rect x="247.13" y="681.49" width="6.84" height="83.26" fill="#9C65A7" stroke="#000" stroke-width="1"/>
<line x1="250.55" y1="678.51" x2="250.55" y2="684.64" stroke="#444444" stroke-width="0.7"/>
<line x1="249" y1="678.51" x2="252.1" y2="678.51" stroke="#444444" stroke-width="0.7"/>
<line x1="249" y1="684.64" x2="252.1" y2="684.64" stroke="#444444" stroke-width="0.7"/>
<rect x="254.73" y="691.47" width="6.84" height="73.28" fill="#A6A6A6" stroke="#000" stroke-width="1"/>
<line x1="258.15" y1="684.47" x2="258.15" y2="698.48" stroke="#444444" stroke-width="0.7"/>
<line x1="256.6" y1="684.47" x2="259.7" y2="684.47" stroke="#444444" stroke-width="0.7"/>
<line x1="256.6" y1="698.48" x2="259.7" y2="698.48" stroke="#444444" stroke-width="0.7"/>
<rect x="262.33" y="693.4" width="6.84" height="71.35" fill="#F0E4A6" stroke="#000" stroke-width="1"/>
<line x1="265.74" y1="690.07" x2="265.74" y2="696.73" stroke="#444444" stroke-width="0.7"/>
<line x1="264.19" y1="690.07" x2="267.29" y2="690.07" stroke="#444444" stroke-width="0.7"/>
<line x1="264.19" y1="696.73" x2="267.29" y2="696.73" stroke="#444444" stroke-width="0.7"/>
<rect x="269.92" y="720.2" width="6.84" height="44.55" fill="#4D4D4D" stroke="#000" stroke-width="1"/>
<line x1="273.34" y1="715.47" x2="273.34" y2="725.11" stroke="#444444" stroke-width="0.7"/>
<line x1="271.79" y1="715.47" x2="274.89" y2="715.47" stroke="#444444" stroke-width="0.7"/>
<line x1="271.79" y1="725.11" x2="274.89" y2="725.11" stroke="#444444" stroke-width="0.7"/>
<line x1="47.61" y1="769.3" x2="47.61" y2="772.05" stroke="#333333" stroke-width="1.25"/>
<line x1="55.21" y1="769.3" x2="55.21" y2="772.05" stroke="#333333" stroke-width="1.25"/>
<line x1="62.8" y1="769.3" x2="62.8" y2="772.05" stroke="#333333" stroke-width="1.25"/>
<line x1="70.4" y1="769.3" x2="70.4" y2="772.05" stroke="#333333" stroke-width="1.25"/>
<line x1="78" y1="769.3" x2="78" y2="772.05" stroke="#333333" stroke-width="1.25"/>
<line x1="85.59" y1="769.3" x2="85.59" y2="772.05" stroke="#333333" stroke-width="1.25"/>
<line x1="93.19" y1="769.3" x2="93.19" y2="772.05" stroke="#333333" stroke-width="1.25"/>
<line x1="107.66" y1="769.3" x2="107.66" y2="772.05" stroke="#333333" stroke-width="1.25"/>
<line x1="115.26" y1="769.3" x2="115.26" y2="772.05" stroke="#333333" stroke-width="1.25"/>
<line x1="122.85" y1="769.3" x2="122.85" y2="772.05" stroke="#333333" stroke-width="1.25"/>
<line x1="130.45" y1="769.3" x2="130.45" y2="772.05" stroke="#333333" stroke-width="1.25"/>
<line x1="138.05" y1="769.3" x2="138.05" y2="772.05" stroke="#333333" stroke-width="1.25"/>
<line x1="145.64" y1="769.3" x2="145.64" y2="772.05" stroke="#333333" stroke-width="1.25"/>
<line x1="153.24" y1="769.3" x2="153.24" y2="772.05" stroke="#333333" stroke-width="1.25"/>
<line x1="167.71" y1="769.3" x2="167.71" y2="772.05" stroke="#333333" stroke-width="1.25"/>
<line x1="175.31" y1="769.3" x2="175.31" y2="772.05" stroke="#333333" stroke-width="1.25"/>
<line x1="182.9" y1="769.3" x2="182.9" y2="772.05" stroke="#333333" stroke-width="1.25"/>
<line x1="190.5" y1="769.3" x2="190.5" y2="772.05" stroke="#333333" stroke-width="1.25"/>
<line x1="198.1" y1="769.3" x2="198.1" y2="772.05" stroke="#333333" stroke-width="1.25"/>
<line x1="205.69" y1="769.3" x2="205.69" y2="772.05" stroke="#333333" stroke-width="1.25"/>
<line x1="213.29" y1="769.3" x2="213.29" y2="772.05" stroke="#333333" stroke-width="1.25"/>
<line x1="227.76" y1="769.3" x2="227.76" y2="772.05" stroke="#333333" stroke-width="1.25"/>
<line x1="235.36" y1="769.3" x2="235.36" y2="772.05" stroke="#333333" stroke-width="1.25"/>
<line x1="242.95" y1="769.3" x2="242.95" y2="772.05" stroke="#333333" stroke-width="1.25"/>
<line x1="250.55" y1="769.3" x2="250.55" y2="772.05" stroke="#333333" stroke-width="1.25"/>
<line x1="258.15" y1="769.3" x2="258.15" y2="772.05" stroke="#333333" stroke-width="1.25"/>
<line x1="265.74" y1="769.3" x2="265.74" y2="772.05" stroke="#333333" stroke-width="1.25"/>
<line x1="273.34" y1="769.3" x2="273.34" y2="772.05" stroke="#333333" stroke-width="1.25"/>
<rect x="349.95" y="428.2" width="54.7" height="28.45" fill="#D9D9D9"/>
<rect x="410" y="428.2" width="54.7" height="28.45" fill="#D9D9D9"/>
<rect x="470.05" y="428.2" width="54.7" height="28.45" fill="#D9D9D9"/>
<rect x="530.1" y="428.2" width="54.7" height="28.45" fill="#D9D9D9"/>
<rect x="584.85" y="456.6" width="17.95" height="101.3" fill="#D9D9D9"/>
<line x1="347" y1="552.65" x2="349.95" y2="552.65" stroke="#333333" stroke-width="0.95"/>
<line x1="347" y1="518.15" x2="349.95" y2="518.15" stroke="#333333" stroke-width="0.95"/>
<line x1="347" y1="483.65" x2="349.95" y2="483.65" stroke="#333333" stroke-width="0.95"/>
<line x1="349.95" y1="552.65" x2="404.65" y2="552.65" stroke="#EDEDED" stroke-width="0.55"/>
<line x1="349.95" y1="518.15" x2="404.65" y2="518.15" stroke="#EDEDED" stroke-width="0.55"/>
<line x1="349.95" y1="483.65" x2="404.65" y2="483.65" stroke="#EDEDED" stroke-width="0.55"/>
<line x1="354.51" y1="456.6" x2="354.51" y2="557.9" stroke="#EDEDED" stroke-width="0.55"/>
<line x1="362.11" y1="456.6" x2="362.11" y2="557.9" stroke="#EDEDED" stroke-width="0.55"/>
<line x1="369.7" y1="456.6" x2="369.7" y2="557.9" stroke="#EDEDED" stroke-width="0.55"/>
<line x1="377.3" y1="456.6" x2="377.3" y2="557.9" stroke="#EDEDED" stroke-width="0.55"/>
<line x1="384.9" y1="456.6" x2="384.9" y2="557.9" stroke="#EDEDED" stroke-width="0.55"/>
<line x1="392.49" y1="456.6" x2="392.49" y2="557.9" stroke="#EDEDED" stroke-width="0.55"/>
<line x1="400.09" y1="456.6" x2="400.09" y2="557.9" stroke="#EDEDED" stroke-width="0.55"/>
<rect x="351.09" y="520.35" width="6.84" height="32.3" fill="#9DC3E6" stroke="#000" stroke-width="1"/>
<line x1="354.51" y1="516.5" x2="354.51" y2="524.38" stroke="#444444" stroke-width="0.7"/>
<line x1="352.96" y1="516.5" x2="356.06" y2="516.5" stroke="#444444" stroke-width="0.7"/>
<line x1="352.96" y1="524.38" x2="356.06" y2="524.38" stroke="#444444" stroke-width="0.7"/>
<rect x="358.69" y="549.96" width="6.84" height="2.69" fill="#F4A88E" stroke="#000" stroke-width="1"/>
<line x1="362.11" y1="548.91" x2="362.11" y2="551.01" stroke="#444444" stroke-width="0.7"/>
<line x1="360.56" y1="548.91" x2="363.66" y2="548.91" stroke="#444444" stroke-width="0.7"/>
<line x1="360.56" y1="551.01" x2="363.66" y2="551.01" stroke="#444444" stroke-width="0.7"/>
<rect x="366.28" y="518.95" width="6.84" height="33.7" fill="#5A9E6F" stroke="#000" stroke-width="1"/>
<line x1="369.7" y1="515.09" x2="369.7" y2="522.98" stroke="#444444" stroke-width="0.7"/>
<line x1="368.15" y1="515.09" x2="371.25" y2="515.09" stroke="#444444" stroke-width="0.7"/>
<line x1="368.15" y1="522.98" x2="371.25" y2="522.98" stroke="#444444" stroke-width="0.7"/>
<rect x="373.88" y="521.58" width="6.84" height="31.07" fill="#9C65A7" stroke="#000" stroke-width="1"/>
<line x1="377.3" y1="517.9" x2="377.3" y2="525.43" stroke="#444444" stroke-width="0.7"/>
<line x1="375.75" y1="517.9" x2="378.85" y2="517.9" stroke="#444444" stroke-width="0.7"/>
<line x1="375.75" y1="525.43" x2="378.85" y2="525.43" stroke="#444444" stroke-width="0.7"/>
<rect x="381.48" y="541.55" width="6.84" height="11.1" fill="#A6A6A6" stroke="#000" stroke-width="1"/>
<line x1="384.9" y1="538.04" x2="384.9" y2="545.05" stroke="#444444" stroke-width="0.7"/>
<line x1="383.35" y1="538.04" x2="386.45" y2="538.04" stroke="#444444" stroke-width="0.7"/>
<line x1="383.35" y1="545.05" x2="386.45" y2="545.05" stroke="#444444" stroke-width="0.7"/>
<rect x="389.08" y="517.2" width="6.84" height="35.45" fill="#F0E4A6" stroke="#000" stroke-width="1"/>
<line x1="392.49" y1="513.87" x2="392.49" y2="520.53" stroke="#444444" stroke-width="0.7"/>
<line x1="390.94" y1="513.87" x2="394.04" y2="513.87" stroke="#444444" stroke-width="0.7"/>
<line x1="390.94" y1="520.53" x2="394.04" y2="520.53" stroke="#444444" stroke-width="0.7"/>
<rect x="396.67" y="524.2" width="6.84" height="28.45" fill="#4D4D4D" stroke="#000" stroke-width="1"/>
<line x1="400.09" y1="518.42" x2="400.09" y2="530.16" stroke="#444444" stroke-width="0.7"/>
<line x1="398.54" y1="518.42" x2="401.64" y2="518.42" stroke="#444444" stroke-width="0.7"/>
<line x1="398.54" y1="530.16" x2="401.64" y2="530.16" stroke="#444444" stroke-width="0.7"/>
<line x1="410" y1="552.65" x2="464.7" y2="552.65" stroke="#EDEDED" stroke-width="0.55"/>
<line x1="410" y1="518.15" x2="464.7" y2="518.15" stroke="#EDEDED" stroke-width="0.55"/>
<line x1="410" y1="483.65" x2="464.7" y2="483.65" stroke="#EDEDED" stroke-width="0.55"/>
<line x1="414.56" y1="456.6" x2="414.56" y2="557.9" stroke="#EDEDED" stroke-width="0.55"/>
<line x1="422.16" y1="456.6" x2="422.16" y2="557.9" stroke="#EDEDED" stroke-width="0.55"/>
<line x1="429.75" y1="456.6" x2="429.75" y2="557.9" stroke="#EDEDED" stroke-width="0.55"/>
<line x1="437.35" y1="456.6" x2="437.35" y2="557.9" stroke="#EDEDED" stroke-width="0.55"/>
<line x1="444.95" y1="456.6" x2="444.95" y2="557.9" stroke="#EDEDED" stroke-width="0.55"/>
<line x1="452.54" y1="456.6" x2="452.54" y2="557.9" stroke="#EDEDED" stroke-width="0.55"/>
<line x1="460.14" y1="456.6" x2="460.14" y2="557.9" stroke="#EDEDED" stroke-width="0.55"/>
<rect x="411.14" y="518.25" width="6.84" height="34.4" fill="#9DC3E6" stroke="#000" stroke-width="1"/>
<line x1="414.56" y1="514.39" x2="414.56" y2="522.45" stroke="#444444" stroke-width="0.7"/>
<line x1="413.01" y1="514.39" x2="416.11" y2="514.39" stroke="#444444" stroke-width="0.7"/>
<line x1="413.01" y1="522.45" x2="416.11" y2="522.45" stroke="#444444" stroke-width="0.7"/>
<rect x="418.74" y="543.47" width="6.84" height="9.18" fill="#F4A88E" stroke="#000" stroke-width="1"/>
<line x1="422.16" y1="541.2" x2="422.16" y2="546.1" stroke="#444444" stroke-width="0.7"/>
<line x1="420.61" y1="541.2" x2="423.71" y2="541.2" stroke="#444444" stroke-width="0.7"/>
<line x1="420.61" y1="546.1" x2="423.71" y2="546.1" stroke="#444444" stroke-width="0.7"/>
<rect x="426.33" y="519.3" width="6.84" height="33.35" fill="#5A9E6F" stroke="#000" stroke-width="1"/>
<line x1="429.75" y1="515.45" x2="429.75" y2="523.33" stroke="#444444" stroke-width="0.7"/>
<line x1="428.2" y1="515.45" x2="431.3" y2="515.45" stroke="#444444" stroke-width="0.7"/>
<line x1="428.2" y1="523.33" x2="431.3" y2="523.33" stroke="#444444" stroke-width="0.7"/>
<rect x="433.93" y="523.5" width="6.84" height="29.15" fill="#9C65A7" stroke="#000" stroke-width="1"/>
<line x1="437.35" y1="520" x2="437.35" y2="527.18" stroke="#444444" stroke-width="0.7"/>
<line x1="435.8" y1="520" x2="438.9" y2="520" stroke="#444444" stroke-width="0.7"/>
<line x1="435.8" y1="527.18" x2="438.9" y2="527.18" stroke="#444444" stroke-width="0.7"/>
<rect x="441.53" y="538.22" width="6.84" height="14.43" fill="#A6A6A6" stroke="#000" stroke-width="1"/>
<line x1="444.95" y1="534.19" x2="444.95" y2="542.25" stroke="#444444" stroke-width="0.7"/>
<line x1="443.4" y1="534.19" x2="446.5" y2="534.19" stroke="#444444" stroke-width="0.7"/>
<line x1="443.4" y1="542.25" x2="446.5" y2="542.25" stroke="#444444" stroke-width="0.7"/>
<rect x="449.13" y="515.62" width="6.84" height="37.03" fill="#F0E4A6" stroke="#000" stroke-width="1"/>
<line x1="452.54" y1="512.47" x2="452.54" y2="518.95" stroke="#444444" stroke-width="0.7"/>
<line x1="450.99" y1="512.47" x2="454.09" y2="512.47" stroke="#444444" stroke-width="0.7"/>
<line x1="450.99" y1="518.95" x2="454.09" y2="518.95" stroke="#444444" stroke-width="0.7"/>
<rect x="456.72" y="527.36" width="6.84" height="25.29" fill="#4D4D4D" stroke="#000" stroke-width="1"/>
<line x1="460.14" y1="522.8" x2="460.14" y2="531.91" stroke="#444444" stroke-width="0.7"/>
<line x1="458.59" y1="522.8" x2="461.69" y2="522.8" stroke="#444444" stroke-width="0.7"/>
<line x1="458.59" y1="531.91" x2="461.69" y2="531.91" stroke="#444444" stroke-width="0.7"/>
<line x1="470.05" y1="552.65" x2="524.75" y2="552.65" stroke="#EDEDED" stroke-width="0.55"/>
<line x1="470.05" y1="518.15" x2="524.75" y2="518.15" stroke="#EDEDED" stroke-width="0.55"/>
<line x1="470.05" y1="483.65" x2="524.75" y2="483.65" stroke="#EDEDED" stroke-width="0.55"/>
<line x1="474.61" y1="456.6" x2="474.61" y2="557.9" stroke="#EDEDED" stroke-width="0.55"/>
<line x1="482.21" y1="456.6" x2="482.21" y2="557.9" stroke="#EDEDED" stroke-width="0.55"/>
<line x1="489.8" y1="456.6" x2="489.8" y2="557.9" stroke="#EDEDED" stroke-width="0.55"/>
<line x1="497.4" y1="456.6" x2="497.4" y2="557.9" stroke="#EDEDED" stroke-width="0.55"/>
<line x1="505" y1="456.6" x2="505" y2="557.9" stroke="#EDEDED" stroke-width="0.55"/>
<line x1="512.59" y1="456.6" x2="512.59" y2="557.9" stroke="#EDEDED" stroke-width="0.55"/>
<line x1="520.19" y1="456.6" x2="520.19" y2="557.9" stroke="#EDEDED" stroke-width="0.55"/>
<rect x="471.19" y="516.32" width="6.84" height="36.33" fill="#9DC3E6" stroke="#000" stroke-width="1"/>
<line x1="474.61" y1="511.94" x2="474.61" y2="520.7" stroke="#444444" stroke-width="0.7"/>
<line x1="473.06" y1="511.94" x2="476.16" y2="511.94" stroke="#444444" stroke-width="0.7"/>
<line x1="473.06" y1="520.7" x2="476.16" y2="520.7" stroke="#444444" stroke-width="0.7"/>
<rect x="478.79" y="532.79" width="6.84" height="19.86" fill="#F4A88E" stroke="#000" stroke-width="1"/>
<line x1="482.21" y1="529.28" x2="482.21" y2="536.29" stroke="#444444" stroke-width="0.7"/>
<line x1="480.66" y1="529.28" x2="483.76" y2="529.28" stroke="#444444" stroke-width="0.7"/>
<line x1="480.66" y1="536.29" x2="483.76" y2="536.29" stroke="#444444" stroke-width="0.7"/>
<rect x="486.38" y="518.95" width="6.84" height="33.7" fill="#5A9E6F" stroke="#000" stroke-width="1"/>
<line x1="489.8" y1="515.09" x2="489.8" y2="522.98" stroke="#444444" stroke-width="0.7"/>
<line x1="488.25" y1="515.09" x2="491.35" y2="515.09" stroke="#444444" stroke-width="0.7"/>
<line x1="488.25" y1="522.98" x2="491.35" y2="522.98" stroke="#444444" stroke-width="0.7"/>
<rect x="493.98" y="521.58" width="6.84" height="31.07" fill="#9C65A7" stroke="#000" stroke-width="1"/>
<line x1="497.4" y1="517.55" x2="497.4" y2="525.43" stroke="#444444" stroke-width="0.7"/>
<line x1="495.85" y1="517.55" x2="498.95" y2="517.55" stroke="#444444" stroke-width="0.7"/>
<line x1="495.85" y1="525.43" x2="498.95" y2="525.43" stroke="#444444" stroke-width="0.7"/>
<rect x="501.58" y="528.23" width="6.84" height="24.42" fill="#A6A6A6" stroke="#000" stroke-width="1"/>
<line x1="505" y1="523.33" x2="505" y2="533.31" stroke="#444444" stroke-width="0.7"/>
<line x1="503.45" y1="523.33" x2="506.55" y2="523.33" stroke="#444444" stroke-width="0.7"/>
<line x1="503.45" y1="533.31" x2="506.55" y2="533.31" stroke="#444444" stroke-width="0.7"/>
<rect x="509.18" y="512.12" width="6.84" height="40.53" fill="#F0E4A6" stroke="#000" stroke-width="1"/>
<line x1="512.59" y1="508.79" x2="512.59" y2="515.62" stroke="#444444" stroke-width="0.7"/>
<line x1="511.04" y1="508.79" x2="514.14" y2="508.79" stroke="#444444" stroke-width="0.7"/>
<line x1="511.04" y1="515.62" x2="514.14" y2="515.62" stroke="#444444" stroke-width="0.7"/>
<rect x="516.77" y="520.35" width="6.84" height="32.3" fill="#4D4D4D" stroke="#000" stroke-width="1"/>
<line x1="520.19" y1="515.8" x2="520.19" y2="524.91" stroke="#444444" stroke-width="0.7"/>
<line x1="518.64" y1="515.8" x2="521.74" y2="515.8" stroke="#444444" stroke-width="0.7"/>
<line x1="518.64" y1="524.91" x2="521.74" y2="524.91" stroke="#444444" stroke-width="0.7"/>
<line x1="530.1" y1="552.65" x2="584.8" y2="552.65" stroke="#EDEDED" stroke-width="0.55"/>
<line x1="530.1" y1="518.15" x2="584.8" y2="518.15" stroke="#EDEDED" stroke-width="0.55"/>
<line x1="530.1" y1="483.65" x2="584.8" y2="483.65" stroke="#EDEDED" stroke-width="0.55"/>
<line x1="534.66" y1="456.6" x2="534.66" y2="557.9" stroke="#EDEDED" stroke-width="0.55"/>
<line x1="542.26" y1="456.6" x2="542.26" y2="557.9" stroke="#EDEDED" stroke-width="0.55"/>
<line x1="549.85" y1="456.6" x2="549.85" y2="557.9" stroke="#EDEDED" stroke-width="0.55"/>
<line x1="557.45" y1="456.6" x2="557.45" y2="557.9" stroke="#EDEDED" stroke-width="0.55"/>
<line x1="565.05" y1="456.6" x2="565.05" y2="557.9" stroke="#EDEDED" stroke-width="0.55"/>
<line x1="572.64" y1="456.6" x2="572.64" y2="557.9" stroke="#EDEDED" stroke-width="0.55"/>
<line x1="580.24" y1="456.6" x2="580.24" y2="557.9" stroke="#EDEDED" stroke-width="0.55"/>
<rect x="531.24" y="511.42" width="6.84" height="41.23" fill="#9DC3E6" stroke="#000" stroke-width="1"/>
<line x1="534.66" y1="507.04" x2="534.66" y2="515.8" stroke="#444444" stroke-width="0.7"/>
<line x1="533.11" y1="507.04" x2="536.21" y2="507.04" stroke="#444444" stroke-width="0.7"/>
<line x1="533.11" y1="515.8" x2="536.21" y2="515.8" stroke="#444444" stroke-width="0.7"/>
<rect x="538.84" y="517.9" width="6.84" height="34.75" fill="#F4A88E" stroke="#000" stroke-width="1"/>
<line x1="542.26" y1="514.04" x2="542.26" y2="521.75" stroke="#444444" stroke-width="0.7"/>
<line x1="540.71" y1="514.04" x2="543.81" y2="514.04" stroke="#444444" stroke-width="0.7"/>
<line x1="540.71" y1="521.75" x2="543.81" y2="521.75" stroke="#444444" stroke-width="0.7"/>
<rect x="546.43" y="518.42" width="6.84" height="34.23" fill="#5A9E6F" stroke="#000" stroke-width="1"/>
<line x1="549.85" y1="514.74" x2="549.85" y2="522.45" stroke="#444444" stroke-width="0.7"/>
<line x1="548.3" y1="514.74" x2="551.4" y2="514.74" stroke="#444444" stroke-width="0.7"/>
<line x1="548.3" y1="522.45" x2="551.4" y2="522.45" stroke="#444444" stroke-width="0.7"/>
<rect x="554.03" y="513.52" width="6.84" height="39.13" fill="#9C65A7" stroke="#000" stroke-width="1"/>
<line x1="557.45" y1="509.49" x2="557.45" y2="517.72" stroke="#444444" stroke-width="0.7"/>
<line x1="555.9" y1="509.49" x2="559" y2="509.49" stroke="#444444" stroke-width="0.7"/>
<line x1="555.9" y1="517.72" x2="559" y2="517.72" stroke="#444444" stroke-width="0.7"/>
<rect x="561.63" y="513.34" width="6.84" height="39.31" fill="#A6A6A6" stroke="#000" stroke-width="1"/>
<line x1="565.05" y1="507.74" x2="565.05" y2="518.95" stroke="#444444" stroke-width="0.7"/>
<line x1="563.5" y1="507.74" x2="566.6" y2="507.74" stroke="#444444" stroke-width="0.7"/>
<line x1="563.5" y1="518.95" x2="566.6" y2="518.95" stroke="#444444" stroke-width="0.7"/>
<rect x="569.23" y="505.64" width="6.84" height="47.01" fill="#F0E4A6" stroke="#000" stroke-width="1"/>
<line x1="572.64" y1="502.31" x2="572.64" y2="509.14" stroke="#444444" stroke-width="0.7"/>
<line x1="571.09" y1="502.31" x2="574.19" y2="502.31" stroke="#444444" stroke-width="0.7"/>
<line x1="571.09" y1="509.14" x2="574.19" y2="509.14" stroke="#444444" stroke-width="0.7"/>
<rect x="576.82" y="507.91" width="6.84" height="44.74" fill="#4D4D4D" stroke="#000" stroke-width="1"/>
<line x1="580.24" y1="503.18" x2="580.24" y2="512.82" stroke="#444444" stroke-width="0.7"/>
<line x1="578.69" y1="503.18" x2="581.79" y2="503.18" stroke="#444444" stroke-width="0.7"/>
<line x1="578.69" y1="512.82" x2="581.79" y2="512.82" stroke="#444444" stroke-width="0.7"/>
<rect x="584.85" y="562.65" width="17.95" height="101.3" fill="#D9D9D9"/>
<line x1="347" y1="658.7" x2="349.95" y2="658.7" stroke="#333333" stroke-width="0.95"/>
<line x1="347" y1="624.2" x2="349.95" y2="624.2" stroke="#333333" stroke-width="0.95"/>
<line x1="347" y1="589.7" x2="349.95" y2="589.7" stroke="#333333" stroke-width="0.95"/>
<line x1="349.95" y1="658.7" x2="404.65" y2="658.7" stroke="#EDEDED" stroke-width="0.55"/>
<line x1="349.95" y1="624.2" x2="404.65" y2="624.2" stroke="#EDEDED" stroke-width="0.55"/>
<line x1="349.95" y1="589.7" x2="404.65" y2="589.7" stroke="#EDEDED" stroke-width="0.55"/>
<line x1="354.51" y1="562.65" x2="354.51" y2="663.95" stroke="#EDEDED" stroke-width="0.55"/>
<line x1="362.11" y1="562.65" x2="362.11" y2="663.95" stroke="#EDEDED" stroke-width="0.55"/>
<line x1="369.7" y1="562.65" x2="369.7" y2="663.95" stroke="#EDEDED" stroke-width="0.55"/>
<line x1="377.3" y1="562.65" x2="377.3" y2="663.95" stroke="#EDEDED" stroke-width="0.55"/>
<line x1="384.9" y1="562.65" x2="384.9" y2="663.95" stroke="#EDEDED" stroke-width="0.55"/>
<line x1="392.49" y1="562.65" x2="392.49" y2="663.95" stroke="#EDEDED" stroke-width="0.55"/>
<line x1="400.09" y1="562.65" x2="400.09" y2="663.95" stroke="#EDEDED" stroke-width="0.55"/>
<rect x="351.09" y="625.65" width="6.84" height="33.05" fill="#9DC3E6" stroke="#000" stroke-width="1"/>
<line x1="354.51" y1="621.97" x2="354.51" y2="630.03" stroke="#444444" stroke-width="0.7"/>
<line x1="352.96" y1="621.97" x2="356.06" y2="621.97" stroke="#444444" stroke-width="0.7"/>
<line x1="352.96" y1="630.03" x2="356.06" y2="630.03" stroke="#444444" stroke-width="0.7"/>
<rect x="358.69" y="656.13" width="6.84" height="2.57" fill="#F4A88E" stroke="#000" stroke-width="1"/>
<line x1="362.11" y1="655.08" x2="362.11" y2="657.18" stroke="#444444" stroke-width="0.7"/>
<line x1="360.56" y1="655.08" x2="363.66" y2="655.08" stroke="#444444" stroke-width="0.7"/>
<line x1="360.56" y1="657.18" x2="363.66" y2="657.18" stroke="#444444" stroke-width="0.7"/>
<rect x="366.28" y="632.66" width="6.84" height="26.04" fill="#5A9E6F" stroke="#000" stroke-width="1"/>
<line x1="369.7" y1="630.2" x2="369.7" y2="635.28" stroke="#444444" stroke-width="0.7"/>
<line x1="368.15" y1="630.2" x2="371.25" y2="630.2" stroke="#444444" stroke-width="0.7"/>
<line x1="368.15" y1="635.28" x2="371.25" y2="635.28" stroke="#444444" stroke-width="0.7"/>
<rect x="373.88" y="633.01" width="6.84" height="25.69" fill="#9C65A7" stroke="#000" stroke-width="1"/>
<line x1="377.3" y1="630.38" x2="377.3" y2="635.64" stroke="#444444" stroke-width="0.7"/>
<line x1="375.75" y1="630.38" x2="378.85" y2="630.38" stroke="#444444" stroke-width="0.7"/>
<line x1="375.75" y1="635.64" x2="378.85" y2="635.64" stroke="#444444" stroke-width="0.7"/>
<rect x="381.48" y="647.37" width="6.84" height="11.33" fill="#A6A6A6" stroke="#000" stroke-width="1"/>
<line x1="384.9" y1="642.99" x2="384.9" y2="651.75" stroke="#444444" stroke-width="0.7"/>
<line x1="383.35" y1="642.99" x2="386.45" y2="642.99" stroke="#444444" stroke-width="0.7"/>
<line x1="383.35" y1="651.75" x2="386.45" y2="651.75" stroke="#444444" stroke-width="0.7"/>
<rect x="389.08" y="633.53" width="6.84" height="25.17" fill="#F0E4A6" stroke="#000" stroke-width="1"/>
<line x1="392.49" y1="631.61" x2="392.49" y2="635.64" stroke="#444444" stroke-width="0.7"/>
<line x1="390.94" y1="631.61" x2="394.04" y2="631.61" stroke="#444444" stroke-width="0.7"/>
<line x1="390.94" y1="635.64" x2="394.04" y2="635.64" stroke="#444444" stroke-width="0.7"/>
<rect x="396.67" y="630.2" width="6.84" height="28.5" fill="#4D4D4D" stroke="#000" stroke-width="1"/>
<line x1="400.09" y1="624.77" x2="400.09" y2="635.99" stroke="#444444" stroke-width="0.7"/>
<line x1="398.54" y1="624.77" x2="401.64" y2="624.77" stroke="#444444" stroke-width="0.7"/>
<line x1="398.54" y1="635.99" x2="401.64" y2="635.99" stroke="#444444" stroke-width="0.7"/>
<line x1="410" y1="658.7" x2="464.7" y2="658.7" stroke="#EDEDED" stroke-width="0.55"/>
<line x1="410" y1="624.2" x2="464.7" y2="624.2" stroke="#EDEDED" stroke-width="0.55"/>
<line x1="410" y1="589.7" x2="464.7" y2="589.7" stroke="#EDEDED" stroke-width="0.55"/>
<line x1="414.56" y1="562.65" x2="414.56" y2="663.95" stroke="#EDEDED" stroke-width="0.55"/>
<line x1="422.16" y1="562.65" x2="422.16" y2="663.95" stroke="#EDEDED" stroke-width="0.55"/>
<line x1="429.75" y1="562.65" x2="429.75" y2="663.95" stroke="#EDEDED" stroke-width="0.55"/>
<line x1="437.35" y1="562.65" x2="437.35" y2="663.95" stroke="#EDEDED" stroke-width="0.55"/>
<line x1="444.95" y1="562.65" x2="444.95" y2="663.95" stroke="#EDEDED" stroke-width="0.55"/>
<line x1="452.54" y1="562.65" x2="452.54" y2="663.95" stroke="#EDEDED" stroke-width="0.55"/>
<line x1="460.14" y1="562.65" x2="460.14" y2="663.95" stroke="#EDEDED" stroke-width="0.55"/>
<rect x="411.14" y="623.37" width="6.84" height="35.33" fill="#9DC3E6" stroke="#000" stroke-width="1"/>
<line x1="414.56" y1="619.69" x2="414.56" y2="627.58" stroke="#444444" stroke-width="0.7"/>
<line x1="413.01" y1="619.69" x2="416.11" y2="619.69" stroke="#444444" stroke-width="0.7"/>
<line x1="413.01" y1="627.58" x2="416.11" y2="627.58" stroke="#444444" stroke-width="0.7"/>
<rect x="418.74" y="649.47" width="6.84" height="9.23" fill="#F4A88E" stroke="#000" stroke-width="1"/>
<line x1="422.16" y1="647.2" x2="422.16" y2="652.1" stroke="#444444" stroke-width="0.7"/>
<line x1="420.61" y1="647.2" x2="423.71" y2="647.2" stroke="#444444" stroke-width="0.7"/>
<line x1="420.61" y1="652.1" x2="423.71" y2="652.1" stroke="#444444" stroke-width="0.7"/>
<rect x="426.33" y="632.83" width="6.84" height="25.87" fill="#5A9E6F" stroke="#000" stroke-width="1"/>
<line x1="429.75" y1="630.2" x2="429.75" y2="635.46" stroke="#444444" stroke-width="0.7"/>
<line x1="428.2" y1="630.2" x2="431.3" y2="630.2" stroke="#444444" stroke-width="0.7"/>
<line x1="428.2" y1="635.46" x2="431.3" y2="635.46" stroke="#444444" stroke-width="0.7"/>
<rect x="433.93" y="630.55" width="6.84" height="28.15" fill="#9C65A7" stroke="#000" stroke-width="1"/>
<line x1="437.35" y1="627.75" x2="437.35" y2="633.53" stroke="#444444" stroke-width="0.7"/>
<line x1="435.8" y1="627.75" x2="438.9" y2="627.75" stroke="#444444" stroke-width="0.7"/>
<line x1="435.8" y1="633.53" x2="438.9" y2="633.53" stroke="#444444" stroke-width="0.7"/>
<rect x="441.53" y="644.04" width="6.84" height="14.66" fill="#A6A6A6" stroke="#000" stroke-width="1"/>
<line x1="444.95" y1="639.66" x2="444.95" y2="648.42" stroke="#444444" stroke-width="0.7"/>
<line x1="443.4" y1="639.66" x2="446.5" y2="639.66" stroke="#444444" stroke-width="0.7"/>
<line x1="443.4" y1="648.42" x2="446.5" y2="648.42" stroke="#444444" stroke-width="0.7"/>
<rect x="449.13" y="631.43" width="6.84" height="27.27" fill="#F0E4A6" stroke="#000" stroke-width="1"/>
<line x1="452.54" y1="627.93" x2="452.54" y2="634.93" stroke="#444444" stroke-width="0.7"/>
<line x1="450.99" y1="627.93" x2="454.09" y2="627.93" stroke="#444444" stroke-width="0.7"/>
<line x1="450.99" y1="634.93" x2="454.09" y2="634.93" stroke="#444444" stroke-width="0.7"/>
<rect x="456.72" y="633.36" width="6.84" height="25.34" fill="#4D4D4D" stroke="#000" stroke-width="1"/>
<line x1="460.14" y1="629.15" x2="460.14" y2="637.74" stroke="#444444" stroke-width="0.7"/>
<line x1="458.59" y1="629.15" x2="461.69" y2="629.15" stroke="#444444" stroke-width="0.7"/>
<line x1="458.59" y1="637.74" x2="461.69" y2="637.74" stroke="#444444" stroke-width="0.7"/>
<line x1="470.05" y1="658.7" x2="524.75" y2="658.7" stroke="#EDEDED" stroke-width="0.55"/>
<line x1="470.05" y1="624.2" x2="524.75" y2="624.2" stroke="#EDEDED" stroke-width="0.55"/>
<line x1="470.05" y1="589.7" x2="524.75" y2="589.7" stroke="#EDEDED" stroke-width="0.55"/>
<line x1="474.61" y1="562.65" x2="474.61" y2="663.95" stroke="#EDEDED" stroke-width="0.55"/>
<line x1="482.21" y1="562.65" x2="482.21" y2="663.95" stroke="#EDEDED" stroke-width="0.55"/>
<line x1="489.8" y1="562.65" x2="489.8" y2="663.95" stroke="#EDEDED" stroke-width="0.55"/>
<line x1="497.4" y1="562.65" x2="497.4" y2="663.95" stroke="#EDEDED" stroke-width="0.55"/>
<line x1="505" y1="562.65" x2="505" y2="663.95" stroke="#EDEDED" stroke-width="0.55"/>
<line x1="512.59" y1="562.65" x2="512.59" y2="663.95" stroke="#EDEDED" stroke-width="0.55"/>
<line x1="520.19" y1="562.65" x2="520.19" y2="663.95" stroke="#EDEDED" stroke-width="0.55"/>
<rect x="471.19" y="621.09" width="6.84" height="37.61" fill="#9DC3E6" stroke="#000" stroke-width="1"/>
<line x1="474.61" y1="616.89" x2="474.61" y2="625.47" stroke="#444444" stroke-width="0.7"/>
<line x1="473.06" y1="616.89" x2="476.16" y2="616.89" stroke="#444444" stroke-width="0.7"/>
<line x1="473.06" y1="625.47" x2="476.16" y2="625.47" stroke="#444444" stroke-width="0.7"/>
<rect x="478.79" y="638.61" width="6.84" height="20.09" fill="#F4A88E" stroke="#000" stroke-width="1"/>
<line x1="482.21" y1="635.28" x2="482.21" y2="641.94" stroke="#444444" stroke-width="0.7"/>
<line x1="480.66" y1="635.28" x2="483.76" y2="635.28" stroke="#444444" stroke-width="0.7"/>
<line x1="480.66" y1="641.94" x2="483.76" y2="641.94" stroke="#444444" stroke-width="0.7"/>
<rect x="486.38" y="633.18" width="6.84" height="25.52" fill="#5A9E6F" stroke="#000" stroke-width="1"/>
<line x1="489.8" y1="630.38" x2="489.8" y2="635.99" stroke="#444444" stroke-width="0.7"/>
<line x1="488.25" y1="630.38" x2="491.35" y2="630.38" stroke="#444444" stroke-width="0.7"/>
<line x1="488.25" y1="635.99" x2="491.35" y2="635.99" stroke="#444444" stroke-width="0.7"/>
<rect x="493.98" y="625.12" width="6.84" height="33.58" fill="#9C65A7" stroke="#000" stroke-width="1"/>
<line x1="497.4" y1="622.15" x2="497.4" y2="628.45" stroke="#444444" stroke-width="0.7"/>
<line x1="495.85" y1="622.15" x2="498.95" y2="622.15" stroke="#444444" stroke-width="0.7"/>
<line x1="495.85" y1="628.45" x2="498.95" y2="628.45" stroke="#444444" stroke-width="0.7"/>
<rect x="501.58" y="635.64" width="6.84" height="23.06" fill="#A6A6A6" stroke="#000" stroke-width="1"/>
<line x1="505" y1="629.5" x2="505" y2="641.59" stroke="#444444" stroke-width="0.7"/>
<line x1="503.45" y1="629.5" x2="506.55" y2="629.5" stroke="#444444" stroke-width="0.7"/>
<line x1="503.45" y1="641.59" x2="506.55" y2="641.59" stroke="#444444" stroke-width="0.7"/>
<rect x="509.18" y="623.37" width="6.84" height="35.33" fill="#F0E4A6" stroke="#000" stroke-width="1"/>
<line x1="512.59" y1="619.69" x2="512.59" y2="627.58" stroke="#444444" stroke-width="0.7"/>
<line x1="511.04" y1="619.69" x2="514.14" y2="619.69" stroke="#444444" stroke-width="0.7"/>
<line x1="511.04" y1="627.58" x2="514.14" y2="627.58" stroke="#444444" stroke-width="0.7"/>
<rect x="516.77" y="626.35" width="6.84" height="32.35" fill="#4D4D4D" stroke="#000" stroke-width="1"/>
<line x1="520.19" y1="621.8" x2="520.19" y2="630.91" stroke="#444444" stroke-width="0.7"/>
<line x1="518.64" y1="621.8" x2="521.74" y2="621.8" stroke="#444444" stroke-width="0.7"/>
<line x1="518.64" y1="630.91" x2="521.74" y2="630.91" stroke="#444444" stroke-width="0.7"/>
<line x1="530.1" y1="658.7" x2="584.8" y2="658.7" stroke="#EDEDED" stroke-width="0.55"/>
<line x1="530.1" y1="624.2" x2="584.8" y2="624.2" stroke="#EDEDED" stroke-width="0.55"/>
<line x1="530.1" y1="589.7" x2="584.8" y2="589.7" stroke="#EDEDED" stroke-width="0.55"/>
<line x1="534.66" y1="562.65" x2="534.66" y2="663.95" stroke="#EDEDED" stroke-width="0.55"/>
<line x1="542.26" y1="562.65" x2="542.26" y2="663.95" stroke="#EDEDED" stroke-width="0.55"/>
<line x1="549.85" y1="562.65" x2="549.85" y2="663.95" stroke="#EDEDED" stroke-width="0.55"/>
<line x1="557.45" y1="562.65" x2="557.45" y2="663.95" stroke="#EDEDED" stroke-width="0.55"/>
<line x1="565.05" y1="562.65" x2="565.05" y2="663.95" stroke="#EDEDED" stroke-width="0.55"/>
<line x1="572.64" y1="562.65" x2="572.64" y2="663.95" stroke="#EDEDED" stroke-width="0.55"/>
<line x1="580.24" y1="562.65" x2="580.24" y2="663.95" stroke="#EDEDED" stroke-width="0.55"/>
<rect x="531.24" y="616.36" width="6.84" height="42.34" fill="#9DC3E6" stroke="#000" stroke-width="1"/>
<line x1="534.66" y1="611.99" x2="534.66" y2="620.74" stroke="#444444" stroke-width="0.7"/>
<line x1="533.11" y1="611.99" x2="536.21" y2="611.99" stroke="#444444" stroke-width="0.7"/>
<line x1="533.11" y1="620.74" x2="536.21" y2="620.74" stroke="#444444" stroke-width="0.7"/>
<rect x="538.84" y="623.2" width="6.84" height="35.5" fill="#F4A88E" stroke="#000" stroke-width="1"/>
<line x1="542.26" y1="619.34" x2="542.26" y2="627.05" stroke="#444444" stroke-width="0.7"/>
<line x1="540.71" y1="619.34" x2="543.81" y2="619.34" stroke="#444444" stroke-width="0.7"/>
<line x1="540.71" y1="627.05" x2="543.81" y2="627.05" stroke="#444444" stroke-width="0.7"/>
<rect x="546.43" y="633.53" width="6.84" height="25.17" fill="#5A9E6F" stroke="#000" stroke-width="1"/>
<line x1="549.85" y1="630.55" x2="549.85" y2="636.51" stroke="#444444" stroke-width="0.7"/>
<line x1="548.3" y1="630.55" x2="551.4" y2="630.55" stroke="#444444" stroke-width="0.7"/>
<line x1="548.3" y1="636.51" x2="551.4" y2="636.51" stroke="#444444" stroke-width="0.7"/>
<rect x="554.03" y="615.84" width="6.84" height="42.86" fill="#9C65A7" stroke="#000" stroke-width="1"/>
<line x1="557.45" y1="612.51" x2="557.45" y2="619.52" stroke="#444444" stroke-width="0.7"/>
<line x1="555.9" y1="612.51" x2="559" y2="612.51" stroke="#444444" stroke-width="0.7"/>
<line x1="555.9" y1="619.52" x2="559" y2="619.52" stroke="#444444" stroke-width="0.7"/>
<rect x="561.63" y="622.67" width="6.84" height="36.03" fill="#A6A6A6" stroke="#000" stroke-width="1"/>
<line x1="565.05" y1="614.44" x2="565.05" y2="630.91" stroke="#444444" stroke-width="0.7"/>
<line x1="563.5" y1="614.44" x2="566.6" y2="614.44" stroke="#444444" stroke-width="0.7"/>
<line x1="563.5" y1="630.91" x2="566.6" y2="630.91" stroke="#444444" stroke-width="0.7"/>
<rect x="569.23" y="614.44" width="6.84" height="44.26" fill="#F0E4A6" stroke="#000" stroke-width="1"/>
<line x1="572.64" y1="610.06" x2="572.64" y2="618.64" stroke="#444444" stroke-width="0.7"/>
<line x1="571.09" y1="610.06" x2="574.19" y2="610.06" stroke="#444444" stroke-width="0.7"/>
<line x1="571.09" y1="618.64" x2="574.19" y2="618.64" stroke="#444444" stroke-width="0.7"/>
<rect x="576.82" y="613.91" width="6.84" height="44.79" fill="#4D4D4D" stroke="#000" stroke-width="1"/>
<line x1="580.24" y1="609.36" x2="580.24" y2="618.82" stroke="#444444" stroke-width="0.7"/>
<line x1="578.69" y1="609.36" x2="581.79" y2="609.36" stroke="#444444" stroke-width="0.7"/>
<line x1="578.69" y1="618.82" x2="581.79" y2="618.82" stroke="#444444" stroke-width="0.7"/>
<rect x="584.85" y="668.7" width="17.95" height="101.3" fill="#D9D9D9"/>
<line x1="347" y1="764.75" x2="349.95" y2="764.75" stroke="#333333" stroke-width="0.95"/>
<line x1="347" y1="730.25" x2="349.95" y2="730.25" stroke="#333333" stroke-width="0.95"/>
<line x1="347" y1="695.75" x2="349.95" y2="695.75" stroke="#333333" stroke-width="0.95"/>
<line x1="349.95" y1="764.75" x2="404.65" y2="764.75" stroke="#EDEDED" stroke-width="0.55"/>
<line x1="349.95" y1="730.25" x2="404.65" y2="730.25" stroke="#EDEDED" stroke-width="0.55"/>
<line x1="349.95" y1="695.75" x2="404.65" y2="695.75" stroke="#EDEDED" stroke-width="0.55"/>
<line x1="354.51" y1="668.7" x2="354.51" y2="770" stroke="#EDEDED" stroke-width="0.55"/>
<line x1="362.11" y1="668.7" x2="362.11" y2="770" stroke="#EDEDED" stroke-width="0.55"/>
<line x1="369.7" y1="668.7" x2="369.7" y2="770" stroke="#EDEDED" stroke-width="0.55"/>
<line x1="377.3" y1="668.7" x2="377.3" y2="770" stroke="#EDEDED" stroke-width="0.55"/>
<line x1="384.9" y1="668.7" x2="384.9" y2="770" stroke="#EDEDED" stroke-width="0.55"/>
<line x1="392.49" y1="668.7" x2="392.49" y2="770" stroke="#EDEDED" stroke-width="0.55"/>
<line x1="400.09" y1="668.7" x2="400.09" y2="770" stroke="#EDEDED" stroke-width="0.55"/>
<rect x="351.09" y="714.42" width="6.84" height="50.33" fill="#9DC3E6" stroke="#000" stroke-width="1"/>
<line x1="354.51" y1="711.27" x2="354.51" y2="717.93" stroke="#444444" stroke-width="0.7"/>
<line x1="352.96" y1="711.27" x2="356.06" y2="711.27" stroke="#444444" stroke-width="0.7"/>
<line x1="352.96" y1="717.93" x2="356.06" y2="717.93" stroke="#444444" stroke-width="0.7"/>
<rect x="358.69" y="759.09" width="6.84" height="5.66" fill="#F4A88E" stroke="#000" stroke-width="1"/>
<line x1="362.11" y1="757.87" x2="362.11" y2="760.5" stroke="#444444" stroke-width="0.7"/>
<line x1="360.56" y1="757.87" x2="363.66" y2="757.87" stroke="#444444" stroke-width="0.7"/>
<line x1="360.56" y1="760.5" x2="363.66" y2="760.5" stroke="#444444" stroke-width="0.7"/>
<rect x="366.28" y="727.21" width="6.84" height="37.54" fill="#5A9E6F" stroke="#000" stroke-width="1"/>
<line x1="369.7" y1="725.46" x2="369.7" y2="729.14" stroke="#444444" stroke-width="0.7"/>
<line x1="368.15" y1="725.46" x2="371.25" y2="725.46" stroke="#444444" stroke-width="0.7"/>
<line x1="368.15" y1="729.14" x2="371.25" y2="729.14" stroke="#444444" stroke-width="0.7"/>
<rect x="373.88" y="723.71" width="6.84" height="41.04" fill="#9C65A7" stroke="#000" stroke-width="1"/>
<line x1="377.3" y1="721.26" x2="377.3" y2="726.34" stroke="#444444" stroke-width="0.7"/>
<line x1="375.75" y1="721.26" x2="378.85" y2="721.26" stroke="#444444" stroke-width="0.7"/>
<line x1="375.75" y1="726.34" x2="378.85" y2="726.34" stroke="#444444" stroke-width="0.7"/>
<rect x="381.48" y="739.47" width="6.84" height="25.28" fill="#A6A6A6" stroke="#000" stroke-width="1"/>
<line x1="384.9" y1="737.2" x2="384.9" y2="742.1" stroke="#444444" stroke-width="0.7"/>
<line x1="383.35" y1="737.2" x2="386.45" y2="737.2" stroke="#444444" stroke-width="0.7"/>
<line x1="383.35" y1="742.1" x2="386.45" y2="742.1" stroke="#444444" stroke-width="0.7"/>
<rect x="389.08" y="731.42" width="6.84" height="33.33" fill="#F0E4A6" stroke="#000" stroke-width="1"/>
<line x1="392.49" y1="729.49" x2="392.49" y2="733.52" stroke="#444444" stroke-width="0.7"/>
<line x1="390.94" y1="729.49" x2="394.04" y2="729.49" stroke="#444444" stroke-width="0.7"/>
<line x1="390.94" y1="733.52" x2="394.04" y2="733.52" stroke="#444444" stroke-width="0.7"/>
<rect x="396.67" y="736.5" width="6.84" height="28.25" fill="#4D4D4D" stroke="#000" stroke-width="1"/>
<line x1="400.09" y1="730.72" x2="400.09" y2="742.28" stroke="#444444" stroke-width="0.7"/>
<line x1="398.54" y1="730.72" x2="401.64" y2="730.72" stroke="#444444" stroke-width="0.7"/>
<line x1="398.54" y1="742.28" x2="401.64" y2="742.28" stroke="#444444" stroke-width="0.7"/>
<line x1="410" y1="764.75" x2="464.7" y2="764.75" stroke="#EDEDED" stroke-width="0.55"/>
<line x1="410" y1="730.25" x2="464.7" y2="730.25" stroke="#EDEDED" stroke-width="0.55"/>
<line x1="410" y1="695.75" x2="464.7" y2="695.75" stroke="#EDEDED" stroke-width="0.55"/>
<line x1="414.56" y1="668.7" x2="414.56" y2="770" stroke="#EDEDED" stroke-width="0.55"/>
<line x1="422.16" y1="668.7" x2="422.16" y2="770" stroke="#EDEDED" stroke-width="0.55"/>
<line x1="429.75" y1="668.7" x2="429.75" y2="770" stroke="#EDEDED" stroke-width="0.55"/>
<line x1="437.35" y1="668.7" x2="437.35" y2="770" stroke="#EDEDED" stroke-width="0.55"/>
<line x1="444.95" y1="668.7" x2="444.95" y2="770" stroke="#EDEDED" stroke-width="0.55"/>
<line x1="452.54" y1="668.7" x2="452.54" y2="770" stroke="#EDEDED" stroke-width="0.55"/>
<line x1="460.14" y1="668.7" x2="460.14" y2="770" stroke="#EDEDED" stroke-width="0.55"/>
<rect x="411.14" y="705.31" width="6.84" height="59.44" fill="#9DC3E6" stroke="#000" stroke-width="1"/>
<line x1="414.56" y1="702.34" x2="414.56" y2="708.47" stroke="#444444" stroke-width="0.7"/>
<line x1="413.01" y1="702.34" x2="416.11" y2="702.34" stroke="#444444" stroke-width="0.7"/>
<line x1="413.01" y1="708.47" x2="416.11" y2="708.47" stroke="#444444" stroke-width="0.7"/>
<rect x="418.74" y="745.26" width="6.84" height="19.49" fill="#F4A88E" stroke="#000" stroke-width="1"/>
<line x1="422.16" y1="742.8" x2="422.16" y2="747.88" stroke="#444444" stroke-width="0.7"/>
<line x1="420.61" y1="742.8" x2="423.71" y2="742.8" stroke="#444444" stroke-width="0.7"/>
<line x1="420.61" y1="747.88" x2="423.71" y2="747.88" stroke="#444444" stroke-width="0.7"/>
<rect x="426.33" y="727.56" width="6.84" height="37.19" fill="#5A9E6F" stroke="#000" stroke-width="1"/>
<line x1="429.75" y1="725.64" x2="429.75" y2="729.49" stroke="#444444" stroke-width="0.7"/>
<line x1="428.2" y1="725.64" x2="431.3" y2="725.64" stroke="#444444" stroke-width="0.7"/>
<line x1="428.2" y1="729.49" x2="431.3" y2="729.49" stroke="#444444" stroke-width="0.7"/>
<rect x="433.93" y="713.37" width="6.84" height="51.38" fill="#9C65A7" stroke="#000" stroke-width="1"/>
<line x1="437.35" y1="711.27" x2="437.35" y2="715.82" stroke="#444444" stroke-width="0.7"/>
<line x1="435.8" y1="711.27" x2="438.9" y2="711.27" stroke="#444444" stroke-width="0.7"/>
<line x1="435.8" y1="715.82" x2="438.9" y2="715.82" stroke="#444444" stroke-width="0.7"/>
<rect x="441.53" y="731.42" width="6.84" height="33.33" fill="#A6A6A6" stroke="#000" stroke-width="1"/>
<line x1="444.95" y1="727.91" x2="444.95" y2="734.92" stroke="#444444" stroke-width="0.7"/>
<line x1="443.4" y1="727.91" x2="446.5" y2="727.91" stroke="#444444" stroke-width="0.7"/>
<line x1="443.4" y1="734.92" x2="446.5" y2="734.92" stroke="#444444" stroke-width="0.7"/>
<rect x="449.13" y="724.41" width="6.84" height="40.34" fill="#F0E4A6" stroke="#000" stroke-width="1"/>
<line x1="452.54" y1="721.96" x2="452.54" y2="727.04" stroke="#444444" stroke-width="0.7"/>
<line x1="450.99" y1="721.96" x2="454.09" y2="721.96" stroke="#444444" stroke-width="0.7"/>
<line x1="450.99" y1="727.04" x2="454.09" y2="727.04" stroke="#444444" stroke-width="0.7"/>
<rect x="456.72" y="739.3" width="6.84" height="25.45" fill="#4D4D4D" stroke="#000" stroke-width="1"/>
<line x1="460.14" y1="734.92" x2="460.14" y2="743.68" stroke="#444444" stroke-width="0.7"/>
<line x1="458.59" y1="734.92" x2="461.69" y2="734.92" stroke="#444444" stroke-width="0.7"/>
<line x1="458.59" y1="743.68" x2="461.69" y2="743.68" stroke="#444444" stroke-width="0.7"/>
<line x1="470.05" y1="764.75" x2="524.75" y2="764.75" stroke="#EDEDED" stroke-width="0.55"/>
<line x1="470.05" y1="730.25" x2="524.75" y2="730.25" stroke="#EDEDED" stroke-width="0.55"/>
<line x1="470.05" y1="695.75" x2="524.75" y2="695.75" stroke="#EDEDED" stroke-width="0.55"/>
<line x1="474.61" y1="668.7" x2="474.61" y2="770" stroke="#EDEDED" stroke-width="0.55"/>
<line x1="482.21" y1="668.7" x2="482.21" y2="770" stroke="#EDEDED" stroke-width="0.55"/>
<line x1="489.8" y1="668.7" x2="489.8" y2="770" stroke="#EDEDED" stroke-width="0.55"/>
<line x1="497.4" y1="668.7" x2="497.4" y2="770" stroke="#EDEDED" stroke-width="0.55"/>
<line x1="505" y1="668.7" x2="505" y2="770" stroke="#EDEDED" stroke-width="0.55"/>
<line x1="512.59" y1="668.7" x2="512.59" y2="770" stroke="#EDEDED" stroke-width="0.55"/>
<line x1="520.19" y1="668.7" x2="520.19" y2="770" stroke="#EDEDED" stroke-width="0.55"/>
<rect x="471.19" y="693.4" width="6.84" height="71.35" fill="#9DC3E6" stroke="#000" stroke-width="1"/>
<line x1="474.61" y1="690.42" x2="474.61" y2="696.55" stroke="#444444" stroke-width="0.7"/>
<line x1="473.06" y1="690.42" x2="476.16" y2="690.42" stroke="#444444" stroke-width="0.7"/>
<line x1="473.06" y1="696.55" x2="476.16" y2="696.55" stroke="#444444" stroke-width="0.7"/>
<rect x="478.79" y="722.31" width="6.84" height="42.44" fill="#F4A88E" stroke="#000" stroke-width="1"/>
<line x1="482.21" y1="719.33" x2="482.21" y2="725.46" stroke="#444444" stroke-width="0.7"/>
<line x1="480.66" y1="719.33" x2="483.76" y2="719.33" stroke="#444444" stroke-width="0.7"/>
<line x1="480.66" y1="725.46" x2="483.76" y2="725.46" stroke="#444444" stroke-width="0.7"/>
<rect x="486.38" y="727.56" width="6.84" height="37.19" fill="#5A9E6F" stroke="#000" stroke-width="1"/>
<line x1="489.8" y1="725.64" x2="489.8" y2="729.49" stroke="#444444" stroke-width="0.7"/>
<line x1="488.25" y1="725.64" x2="491.35" y2="725.64" stroke="#444444" stroke-width="0.7"/>
<line x1="488.25" y1="729.49" x2="491.35" y2="729.49" stroke="#444444" stroke-width="0.7"/>
<rect x="493.98" y="700.41" width="6.84" height="64.34" fill="#9C65A7" stroke="#000" stroke-width="1"/>
<line x1="497.4" y1="697.78" x2="497.4" y2="703.21" stroke="#444444" stroke-width="0.7"/>
<line x1="495.85" y1="697.78" x2="498.95" y2="697.78" stroke="#444444" stroke-width="0.7"/>
<line x1="495.85" y1="703.21" x2="498.95" y2="703.21" stroke="#444444" stroke-width="0.7"/>
<rect x="501.58" y="716.53" width="6.84" height="48.22" fill="#A6A6A6" stroke="#000" stroke-width="1"/>
<line x1="505" y1="711.45" x2="505" y2="721.78" stroke="#444444" stroke-width="0.7"/>
<line x1="503.45" y1="711.45" x2="506.55" y2="711.45" stroke="#444444" stroke-width="0.7"/>
<line x1="503.45" y1="721.78" x2="506.55" y2="721.78" stroke="#444444" stroke-width="0.7"/>
<rect x="509.18" y="711.62" width="6.84" height="53.13" fill="#F0E4A6" stroke="#000" stroke-width="1"/>
<line x1="512.59" y1="708.64" x2="512.59" y2="714.6" stroke="#444444" stroke-width="0.7"/>
<line x1="511.04" y1="708.64" x2="514.14" y2="708.64" stroke="#444444" stroke-width="0.7"/>
<line x1="511.04" y1="714.6" x2="514.14" y2="714.6" stroke="#444444" stroke-width="0.7"/>
<rect x="516.77" y="732.29" width="6.84" height="32.46" fill="#4D4D4D" stroke="#000" stroke-width="1"/>
<line x1="520.19" y1="728.09" x2="520.19" y2="736.5" stroke="#444444" stroke-width="0.7"/>
<line x1="518.64" y1="728.09" x2="521.74" y2="728.09" stroke="#444444" stroke-width="0.7"/>
<line x1="518.64" y1="736.5" x2="521.74" y2="736.5" stroke="#444444" stroke-width="0.7"/>
<line x1="530.1" y1="764.75" x2="584.8" y2="764.75" stroke="#EDEDED" stroke-width="0.55"/>
<line x1="530.1" y1="730.25" x2="584.8" y2="730.25" stroke="#EDEDED" stroke-width="0.55"/>
<line x1="530.1" y1="695.75" x2="584.8" y2="695.75" stroke="#EDEDED" stroke-width="0.55"/>
<line x1="534.66" y1="668.7" x2="534.66" y2="770" stroke="#EDEDED" stroke-width="0.55"/>
<line x1="542.26" y1="668.7" x2="542.26" y2="770" stroke="#EDEDED" stroke-width="0.55"/>
<line x1="549.85" y1="668.7" x2="549.85" y2="770" stroke="#EDEDED" stroke-width="0.55"/>
<line x1="557.45" y1="668.7" x2="557.45" y2="770" stroke="#EDEDED" stroke-width="0.55"/>
<line x1="565.05" y1="668.7" x2="565.05" y2="770" stroke="#EDEDED" stroke-width="0.55"/>
<line x1="572.64" y1="668.7" x2="572.64" y2="770" stroke="#EDEDED" stroke-width="0.55"/>
<line x1="580.24" y1="668.7" x2="580.24" y2="770" stroke="#EDEDED" stroke-width="0.55"/>
<rect x="531.24" y="675.88" width="6.84" height="88.87" fill="#9DC3E6" stroke="#000" stroke-width="1"/>
<line x1="534.66" y1="672.91" x2="534.66" y2="678.86" stroke="#444444" stroke-width="0.7"/>
<line x1="533.11" y1="672.91" x2="536.21" y2="672.91" stroke="#444444" stroke-width="0.7"/>
<line x1="533.11" y1="678.86" x2="536.21" y2="678.86" stroke="#444444" stroke-width="0.7"/>
<rect x="538.84" y="690.42" width="6.84" height="74.33" fill="#F4A88E" stroke="#000" stroke-width="1"/>
<line x1="542.26" y1="687.62" x2="542.26" y2="693.58" stroke="#444444" stroke-width="0.7"/>
<line x1="540.71" y1="687.62" x2="543.81" y2="687.62" stroke="#444444" stroke-width="0.7"/>
<line x1="540.71" y1="693.58" x2="543.81" y2="693.58" stroke="#444444" stroke-width="0.7"/>
<rect x="546.43" y="727.56" width="6.84" height="37.19" fill="#5A9E6F" stroke="#000" stroke-width="1"/>
<line x1="549.85" y1="725.64" x2="549.85" y2="729.66" stroke="#444444" stroke-width="0.7"/>
<line x1="548.3" y1="725.64" x2="551.4" y2="725.64" stroke="#444444" stroke-width="0.7"/>
<line x1="548.3" y1="729.66" x2="551.4" y2="729.66" stroke="#444444" stroke-width="0.7"/>
<rect x="554.03" y="680.44" width="6.84" height="84.31" fill="#9C65A7" stroke="#000" stroke-width="1"/>
<line x1="557.45" y1="677.64" x2="557.45" y2="683.42" stroke="#444444" stroke-width="0.7"/>
<line x1="555.9" y1="677.64" x2="559" y2="677.64" stroke="#444444" stroke-width="0.7"/>
<line x1="555.9" y1="683.42" x2="559" y2="683.42" stroke="#444444" stroke-width="0.7"/>
<rect x="561.63" y="691.65" width="6.84" height="73.1" fill="#A6A6A6" stroke="#000" stroke-width="1"/>
<line x1="565.05" y1="684.99" x2="565.05" y2="698.48" stroke="#444444" stroke-width="0.7"/>
<line x1="563.5" y1="684.99" x2="566.6" y2="684.99" stroke="#444444" stroke-width="0.7"/>
<line x1="563.5" y1="698.48" x2="566.6" y2="698.48" stroke="#444444" stroke-width="0.7"/>
<rect x="569.23" y="692.53" width="6.84" height="72.22" fill="#F0E4A6" stroke="#000" stroke-width="1"/>
<line x1="572.64" y1="689.37" x2="572.64" y2="695.68" stroke="#444444" stroke-width="0.7"/>
<line x1="571.09" y1="689.37" x2="574.19" y2="689.37" stroke="#444444" stroke-width="0.7"/>
<line x1="571.09" y1="695.68" x2="574.19" y2="695.68" stroke="#444444" stroke-width="0.7"/>
<rect x="576.82" y="720.38" width="6.84" height="44.37" fill="#4D4D4D" stroke="#000" stroke-width="1"/>
<line x1="580.24" y1="715.12" x2="580.24" y2="724.76" stroke="#444444" stroke-width="0.7"/>
<line x1="578.69" y1="715.12" x2="581.79" y2="715.12" stroke="#444444" stroke-width="0.7"/>
<line x1="578.69" y1="724.76" x2="581.79" y2="724.76" stroke="#444444" stroke-width="0.7"/>
<line x1="354.51" y1="769.3" x2="354.51" y2="772.05" stroke="#333333" stroke-width="1.25"/>
<line x1="362.11" y1="769.3" x2="362.11" y2="772.05" stroke="#333333" stroke-width="1.25"/>
<line x1="369.7" y1="769.3" x2="369.7" y2="772.05" stroke="#333333" stroke-width="1.25"/>
<line x1="377.3" y1="769.3" x2="377.3" y2="772.05" stroke="#333333" stroke-width="1.25"/>
<line x1="384.9" y1="769.3" x2="384.9" y2="772.05" stroke="#333333" stroke-width="1.25"/>
<line x1="392.49" y1="769.3" x2="392.49" y2="772.05" stroke="#333333" stroke-width="1.25"/>
<line x1="400.09" y1="769.3" x2="400.09" y2="772.05" stroke="#333333" stroke-width="1.25"/>
<line x1="414.56" y1="769.3" x2="414.56" y2="772.05" stroke="#333333" stroke-width="1.25"/>
<line x1="422.16" y1="769.3" x2="422.16" y2="772.05" stroke="#333333" stroke-width="1.25"/>
<line x1="429.75" y1="769.3" x2="429.75" y2="772.05" stroke="#333333" stroke-width="1.25"/>
<line x1="437.35" y1="769.3" x2="437.35" y2="772.05" stroke="#333333" stroke-width="1.25"/>
<line x1="444.95" y1="769.3" x2="444.95" y2="772.05" stroke="#333333" stroke-width="1.25"/>
<line x1="452.54" y1="769.3" x2="452.54" y2="772.05" stroke="#333333" stroke-width="1.25"/>
<line x1="460.14" y1="769.3" x2="460.14" y2="772.05" stroke="#333333" stroke-width="1.25"/>
<line x1="474.61" y1="769.3" x2="474.61" y2="772.05" stroke="#333333" stroke-width="1.25"/>
<line x1="482.21" y1="769.3" x2="482.21" y2="772.05" stroke="#333333" stroke-width="1.25"/>
<line x1="489.8" y1="769.3" x2="489.8" y2="772.05" stroke="#333333" stroke-width="1.25"/>
<line x1="497.4" y1="769.3" x2="497.4" y2="772.05" stroke="#333333" stroke-width="1.25"/>
<line x1="505" y1="769.3" x2="505" y2="772.05" stroke="#333333" stroke-width="1.25"/>
<line x1="512.59" y1="769.3" x2="512.59" y2="772.05" stroke="#333333" stroke-width="1.25"/>
<line x1="520.19" y1="769.3" x2="520.19" y2="772.05" stroke="#333333" stroke-width="1.25"/>
<line x1="534.66" y1="769.3" x2="534.66" y2="772.05" stroke="#333333" stroke-width="1.25"/>
<line x1="542.26" y1="769.3" x2="542.26" y2="772.05" stroke="#333333" stroke-width="1.25"/>
<line x1="549.85" y1="769.3" x2="549.85" y2="772.05" stroke="#333333" stroke-width="1.25"/>
<line x1="557.45" y1="769.3" x2="557.45" y2="772.05" stroke="#333333" stroke-width="1.25"/>
<line x1="565.05" y1="769.3" x2="565.05" y2="772.05" stroke="#333333" stroke-width="1.25"/>
<line x1="572.64" y1="769.3" x2="572.64" y2="772.05" stroke="#333333" stroke-width="1.25"/>
<line x1="580.24" y1="769.3" x2="580.24" y2="772.05" stroke="#333333" stroke-width="1.25"/>
<rect x="619.35" y="352.15" width="15.7" height="15.8" fill="#9DC3E6" stroke="#000" stroke-width="1.15"/>
<rect x="619.35" y="369.05" width="15.7" height="15.8" fill="#F4A88E" stroke="#000" stroke-width="1.15"/>
<rect x="619.35" y="385.95" width="15.7" height="15.8" fill="#5A9E6F" stroke="#000" stroke-width="1.15"/>
<rect x="619.35" y="402.85" width="15.7" height="15.8" fill="#9C65A7" stroke="#000" stroke-width="1.15"/>
<rect x="619.35" y="419.75" width="15.7" height="15.8" fill="#A6A6A6" stroke="#000" stroke-width="1.15"/>
<rect x="619.35" y="436.65" width="15.7" height="15.8" fill="#F0E4A6" stroke="#000" stroke-width="1.15"/>
<rect x="619.35" y="453.55" width="15.7" height="15.8" fill="#4D4D4D" stroke="#000" stroke-width="1.15"/>
</g>
<g style="filter:grayscale(1)">
<text font-size="12.4" fill="#000" text-anchor="start" transform="translate(-0.7 8.2)" stroke="#000" stroke-width="0.18">A</text>
<text font-size="9.8" fill="#1A1A1A" text-anchor="middle" transform="translate(70.4 22.3) scale(1 1.04)" stroke="#1A1A1A" stroke-width="0.18">gcor:0.2</text>
<text font-size="9.8" fill="#1A1A1A" text-anchor="middle" transform="translate(71.4 32.3) scale(1 1.04)" stroke="#1A1A1A" stroke-width="0.18">Nprog:500</text>
<text font-size="9.8" fill="#1A1A1A" text-anchor="middle" transform="translate(130.45 22.3) scale(1 1.04)" stroke="#1A1A1A" stroke-width="0.18">gcor:0.4</text>
<text font-size="9.8" fill="#1A1A1A" text-anchor="middle" transform="translate(131.45 32.3) scale(1 1.04)" stroke="#1A1A1A" stroke-width="0.18">Nprog:500</text>
<text font-size="9.8" fill="#1A1A1A" text-anchor="middle" transform="translate(190.5 22.3) scale(1 1.04)" stroke="#1A1A1A" stroke-width="0.18">gcor:0.6</text>
<text font-size="9.8" fill="#1A1A1A" text-anchor="middle" transform="translate(191.5 32.3) scale(1 1.04)" stroke="#1A1A1A" stroke-width="0.18">Nprog:500</text>
<text font-size="9.8" fill="#1A1A1A" text-anchor="middle" transform="translate(250.55 22.3) scale(1 1.04)" stroke="#1A1A1A" stroke-width="0.18">gcor:0.8</text>
<text font-size="9.8" fill="#1A1A1A" text-anchor="middle" transform="translate(251.55 32.3) scale(1 1.04)" stroke="#1A1A1A" stroke-width="0.18">Nprog:500</text>
<text font-size="9.75" fill="#1A1A1A" text-anchor="middle" transform="translate(283.3 88.45) rotate(90) scale(1 1.04)" stroke="#1A1A1A" stroke-width="0.18">Lassosum</text>
<text font-size="7.85" fill="#4D4D4D" text-anchor="end" transform="translate(38.1 137.15) scale(1 1.08)" stroke="#4D4D4D" stroke-width="0.18">0.00</text>
<text font-size="7.85" fill="#4D4D4D" text-anchor="end" transform="translate(38.1 117) scale(1 1.08)" stroke="#4D4D4D" stroke-width="0.18">0.05</text>
<text font-size="7.85" fill="#4D4D4D" text-anchor="end" transform="translate(38.1 96.85) scale(1 1.08)" stroke="#4D4D4D" stroke-width="0.18">0.10</text>
<text font-size="7.85" fill="#4D4D4D" text-anchor="end" transform="translate(38.1 76.7) scale(1 1.08)" stroke="#4D4D4D" stroke-width="0.18">0.15</text>
<text font-size="7.85" fill="#4D4D4D" text-anchor="end" transform="translate(38.1 56.55) scale(1 1.08)" stroke="#4D4D4D" stroke-width="0.18">0.20</text>
<text font-size="9.75" fill="#1A1A1A" text-anchor="middle" transform="translate(283.3 194.5) rotate(90) scale(1 1.04)" stroke="#1A1A1A" stroke-width="0.18">LDpred2</text>
<text font-size="7.85" fill="#4D4D4D" text-anchor="end" transform="translate(38.1 243.2) scale(1 1.08)" stroke="#4D4D4D" stroke-width="0.18">0.00</text>
<text font-size="7.85" fill="#4D4D4D" text-anchor="end" transform="translate(38.1 223.05) scale(1 1.08)" stroke="#4D4D4D" stroke-width="0.18">0.05</text>
<text font-size="7.85" fill="#4D4D4D" text-anchor="end" transform="translate(38.1 202.9) scale(1 1.08)" stroke="#4D4D4D" stroke-width="0.18">0.10</text>
<text font-size="7.85" fill="#4D4D4D" text-anchor="end" transform="translate(38.1 182.75) scale(1 1.08)" stroke="#4D4D4D" stroke-width="0.18">0.15</text>
<text font-size="7.85" fill="#4D4D4D" text-anchor="end" transform="translate(38.1 162.6) scale(1 1.08)" stroke="#4D4D4D" stroke-width="0.18">0.20</text>
<text font-size="9.75" fill="#1A1A1A" text-anchor="middle" transform="translate(283.3 300.55) rotate(90) scale(1 1.04)" stroke="#1A1A1A" stroke-width="0.18">PRS−CS</text>
<text font-size="7.85" fill="#4D4D4D" text-anchor="end" transform="translate(38.1 349.25) scale(1 1.08)" stroke="#4D4D4D" stroke-width="0.18">0.00</text>
<text font-size="7.85" fill="#4D4D4D" text-anchor="end" transform="translate(38.1 329.1) scale(1 1.08)" stroke="#4D4D4D" stroke-width="0.18">0.05</text>
<text font-size="7.85" fill="#4D4D4D" text-anchor="end" transform="translate(38.1 308.95) scale(1 1.08)" stroke="#4D4D4D" stroke-width="0.18">0.10</text>
<text font-size="7.85" fill="#4D4D4D" text-anchor="end" transform="translate(38.1 288.8) scale(1 1.08)" stroke="#4D4D4D" stroke-width="0.18">0.15</text>
<text font-size="7.85" fill="#4D4D4D" text-anchor="end" transform="translate(38.1 268.65) scale(1 1.08)" stroke="#4D4D4D" stroke-width="0.18">0.20</text>
<text font-size="7.7" fill="#4D4D4D" text-anchor="end" transform="translate(50.06 355.45) rotate(-90) scale(1 1.1)" stroke="#4D4D4D" stroke-width="0.18">GPS</text>
<text font-size="7.7" fill="#4D4D4D" text-anchor="end" transform="translate(57.66 355.45) rotate(-90) scale(1 1.1)" stroke="#4D4D4D" stroke-width="0.18">CC</text>
<text font-size="7.7" fill="#4D4D4D" text-anchor="end" transform="translate(65.25 355.45) rotate(-90) scale(1 1.1)" stroke="#4D4D4D" stroke-width="0.18">PROG</text>
<text font-size="7.7" fill="#4D4D4D" text-anchor="end" transform="translate(72.85 355.45) rotate(-90) scale(1 1.1)" stroke="#4D4D4D" stroke-width="0.18">MTAG</text>
<text font-size="7.7" fill="#4D4D4D" text-anchor="end" transform="translate(80.45 355.45) rotate(-90) scale(1 1.1)" stroke="#4D4D4D" stroke-width="0.18">TL−PRS</text>
<text font-size="7.7" fill="#4D4D4D" text-anchor="end" transform="translate(88.04 355.45) rotate(-90) scale(1 1.1)" stroke="#4D4D4D" stroke-width="0.18">STACKING</text>
<text font-size="7.7" fill="#4D4D4D" text-anchor="end" transform="translate(95.64 355.45) rotate(-90) scale(1 1.1)" stroke="#4D4D4D" stroke-width="0.18">MVL</text>
<text font-size="7.7" fill="#4D4D4D" text-anchor="end" transform="translate(110.11 355.45) rotate(-90) scale(1 1.1)" stroke="#4D4D4D" stroke-width="0.18">GPS</text>
<text font-size="7.7" fill="#4D4D4D" text-anchor="end" transform="translate(117.71 355.45) rotate(-90) scale(1 1.1)" stroke="#4D4D4D" stroke-width="0.18">CC</text>
<text font-size="7.7" fill="#4D4D4D" text-anchor="end" transform="translate(125.3 355.45) rotate(-90) scale(1 1.1)" stroke="#4D4D4D" stroke-width="0.18">PROG</text>
<text font-size="7.7" fill="#4D4D4D" text-anchor="end" transform="translate(132.9 355.45) rotate(-90) scale(1 1.1)" stroke="#4D4D4D" stroke-width="0.18">MTAG</text>
<text font-size="7.7" fill="#4D4D4D" text-anchor="end" transform="translate(140.5 355.45) rotate(-90) scale(1 1.1)" stroke="#4D4D4D" stroke-width="0.18">TL−PRS</text>
<text font-size="7.7" fill="#4D4D4D" text-anchor="end" transform="translate(148.09 355.45) rotate(-90) scale(1 1.1)" stroke="#4D4D4D" stroke-width="0.18">STACKING</text>
<text font-size="7.7" fill="#4D4D4D" text-anchor="end" transform="translate(155.69 355.45) rotate(-90) scale(1 1.1)" stroke="#4D4D4D" stroke-width="0.18">MVL</text>
<text font-size="7.7" fill="#4D4D4D" text-anchor="end" transform="translate(170.16 355.45) rotate(-90) scale(1 1.1)" stroke="#4D4D4D" stroke-width="0.18">GPS</text>
<text font-size="7.7" fill="#4D4D4D" text-anchor="end" transform="translate(177.76 355.45) rotate(-90) scale(1 1.1)" stroke="#4D4D4D" stroke-width="0.18">CC</text>
<text font-size="7.7" fill="#4D4D4D" text-anchor="end" transform="translate(185.35 355.45) rotate(-90) scale(1 1.1)" stroke="#4D4D4D" stroke-width="0.18">PROG</text>
<text font-size="7.7" fill="#4D4D4D" text-anchor="end" transform="translate(192.95 355.45) rotate(-90) scale(1 1.1)" stroke="#4D4D4D" stroke-width="0.18">MTAG</text>
<text font-size="7.7" fill="#4D4D4D" text-anchor="end" transform="translate(200.55 355.45) rotate(-90) scale(1 1.1)" stroke="#4D4D4D" stroke-width="0.18">TL−PRS</text>
<text font-size="7.7" fill="#4D4D4D" text-anchor="end" transform="translate(208.14 355.45) rotate(-90) scale(1 1.1)" stroke="#4D4D4D" stroke-width="0.18">STACKING</text>
<text font-size="7.7" fill="#4D4D4D" text-anchor="end" transform="translate(215.74 355.45) rotate(-90) scale(1 1.1)" stroke="#4D4D4D" stroke-width="0.18">MVL</text>
<text font-size="7.7" fill="#4D4D4D" text-anchor="end" transform="translate(230.21 355.45) rotate(-90) scale(1 1.1)" stroke="#4D4D4D" stroke-width="0.18">GPS</text>
<text font-size="7.7" fill="#4D4D4D" text-anchor="end" transform="translate(237.81 355.45) rotate(-90) scale(1 1.1)" stroke="#4D4D4D" stroke-width="0.18">CC</text>
<text font-size="7.7" fill="#4D4D4D" text-anchor="end" transform="translate(245.4 355.45) rotate(-90) scale(1 1.1)" stroke="#4D4D4D" stroke-width="0.18">PROG</text>
<text font-size="7.7" fill="#4D4D4D" text-anchor="end" transform="translate(253 355.45) rotate(-90) scale(1 1.1)" stroke="#4D4D4D" stroke-width="0.18">MTAG</text>
<text font-size="7.7" fill="#4D4D4D" text-anchor="end" transform="translate(260.6 355.45) rotate(-90) scale(1 1.1)" stroke="#4D4D4D" stroke-width="0.18">TL−PRS</text>
<text font-size="7.7" fill="#4D4D4D" text-anchor="end" transform="translate(268.19 355.45) rotate(-90) scale(1 1.1)" stroke="#4D4D4D" stroke-width="0.18">STACKING</text>
<text font-size="7.7" fill="#4D4D4D" text-anchor="end" transform="translate(275.79 355.45) rotate(-90) scale(1 1.1)" stroke="#4D4D4D" stroke-width="0.18">MVL</text>
<text font-size="9.8" fill="#000" text-anchor="middle" transform="translate(160.47 403.9) scale(1 1.04)" stroke="#000" stroke-width="0.18">PRS strategy</text>
<text font-size="9.8" fill="#000" text-anchor="middle" transform="translate(18 194.5) rotate(-90) scale(1 1.04)" stroke="#000" stroke-width="0.18">mean&#160;&#160;R<tspan dx="-0.9" dy="-4.0" font-size="6.9">2</tspan></text>
<text font-size="12.4" fill="#000" text-anchor="start" transform="translate(306.2 8.2)" stroke="#000" stroke-width="0.18">B</text>
<text font-size="9.8" fill="#1A1A1A" text-anchor="middle" transform="translate(377.3 22.3) scale(1 1.04)" stroke="#1A1A1A" stroke-width="0.18">gcor:0.2</text>
<text font-size="9.8" fill="#1A1A1A" text-anchor="middle" transform="translate(378.3 32.3) scale(1 1.04)" stroke="#1A1A1A" stroke-width="0.18">Nprog:1000</text>
<text font-size="9.8" fill="#1A1A1A" text-anchor="middle" transform="translate(437.35 22.3) scale(1 1.04)" stroke="#1A1A1A" stroke-width="0.18">gcor:0.4</text>
<text font-size="9.8" fill="#1A1A1A" text-anchor="middle" transform="translate(438.35 32.3) scale(1 1.04)" stroke="#1A1A1A" stroke-width="0.18">Nprog:1000</text>
<text font-size="9.8" fill="#1A1A1A" text-anchor="middle" transform="translate(497.4 22.3) scale(1 1.04)" stroke="#1A1A1A" stroke-width="0.18">gcor:0.6</text>
<text font-size="9.8" fill="#1A1A1A" text-anchor="middle" transform="translate(498.4 32.3) scale(1 1.04)" stroke="#1A1A1A" stroke-width="0.18">Nprog:1000</text>
<text font-size="9.8" fill="#1A1A1A" text-anchor="middle" transform="translate(557.45 22.3) scale(1 1.04)" stroke="#1A1A1A" stroke-width="0.18">gcor:0.8</text>
<text font-size="9.8" fill="#1A1A1A" text-anchor="middle" transform="translate(558.45 32.3) scale(1 1.04)" stroke="#1A1A1A" stroke-width="0.18">Nprog:1000</text>
<text font-size="9.75" fill="#1A1A1A" text-anchor="middle" transform="translate(590.2 88.45) rotate(90) scale(1 1.04)" stroke="#1A1A1A" stroke-width="0.18">Lassosum</text>
<text font-size="7.85" fill="#4D4D4D" text-anchor="end" transform="translate(345 137.15) scale(1 1.08)" stroke="#4D4D4D" stroke-width="0.18">0.00</text>
<text font-size="7.85" fill="#4D4D4D" text-anchor="end" transform="translate(345 118.7) scale(1 1.08)" stroke="#4D4D4D" stroke-width="0.18">0.05</text>
<text font-size="7.85" fill="#4D4D4D" text-anchor="end" transform="translate(345 100.25) scale(1 1.08)" stroke="#4D4D4D" stroke-width="0.18">0.10</text>
<text font-size="7.85" fill="#4D4D4D" text-anchor="end" transform="translate(345 81.8) scale(1 1.08)" stroke="#4D4D4D" stroke-width="0.18">0.15</text>
<text font-size="7.85" fill="#4D4D4D" text-anchor="end" transform="translate(345 63.35) scale(1 1.08)" stroke="#4D4D4D" stroke-width="0.18">0.20</text>
<text font-size="7.85" fill="#4D4D4D" text-anchor="end" transform="translate(345 44.9) scale(1 1.08)" stroke="#4D4D4D" stroke-width="0.18">0.25</text>
<text font-size="9.75" fill="#1A1A1A" text-anchor="middle" transform="translate(590.2 194.5) rotate(90) scale(1 1.04)" stroke="#1A1A1A" stroke-width="0.18">LDpred2</text>
<text font-size="7.85" fill="#4D4D4D" text-anchor="end" transform="translate(345 243.2) scale(1 1.08)" stroke="#4D4D4D" stroke-width="0.18">0.00</text>
<text font-size="7.85" fill="#4D4D4D" text-anchor="end" transform="translate(345 224.75) scale(1 1.08)" stroke="#4D4D4D" stroke-width="0.18">0.05</text>
<text font-size="7.85" fill="#4D4D4D" text-anchor="end" transform="translate(345 206.3) scale(1 1.08)" stroke="#4D4D4D" stroke-width="0.18">0.10</text>
<text font-size="7.85" fill="#4D4D4D" text-anchor="end" transform="translate(345 187.85) scale(1 1.08)" stroke="#4D4D4D" stroke-width="0.18">0.15</text>
<text font-size="7.85" fill="#4D4D4D" text-anchor="end" transform="translate(345 169.4) scale(1 1.08)" stroke="#4D4D4D" stroke-width="0.18">0.20</text>
<text font-size="7.85" fill="#4D4D4D" text-anchor="end" transform="translate(345 150.95) scale(1 1.08)" stroke="#4D4D4D" stroke-width="0.18">0.25</text>
<text font-size="9.75" fill="#1A1A1A" text-anchor="middle" transform="translate(590.2 300.55) rotate(90) scale(1 1.04)" stroke="#1A1A1A" stroke-width="0.18">PRS−CS</text>
<text font-size="7.85" fill="#4D4D4D" text-anchor="end" transform="translate(345 349.25) scale(1 1.08)" stroke="#4D4D4D" stroke-width="0.18">0.00</text>
<text font-size="7.85" fill="#4D4D4D" text-anchor="end" transform="translate(345 330.8) scale(1 1.08)" stroke="#4D4D4D" stroke-width="0.18">0.05</text>
<text font-size="7.85" fill="#4D4D4D" text-anchor="end" transform="translate(345 312.35) scale(1 1.08)" stroke="#4D4D4D" stroke-width="0.18">0.10</text>
<text font-size="7.85" fill="#4D4D4D" text-anchor="end" transform="translate(345 293.9) scale(1 1.08)" stroke="#4D4D4D" stroke-width="0.18">0.15</text>
<text font-size="7.85" fill="#4D4D4D" text-anchor="end" transform="translate(345 275.45) scale(1 1.08)" stroke="#4D4D4D" stroke-width="0.18">0.20</text>
<text font-size="7.85" fill="#4D4D4D" text-anchor="end" transform="translate(345 257) scale(1 1.08)" stroke="#4D4D4D" stroke-width="0.18">0.25</text>
<text font-size="7.7" fill="#4D4D4D" text-anchor="end" transform="translate(356.96 355.45) rotate(-90) scale(1 1.1)" stroke="#4D4D4D" stroke-width="0.18">GPS</text>
<text font-size="7.7" fill="#4D4D4D" text-anchor="end" transform="translate(364.56 355.45) rotate(-90) scale(1 1.1)" stroke="#4D4D4D" stroke-width="0.18">CC</text>
<text font-size="7.7" fill="#4D4D4D" text-anchor="end" transform="translate(372.15 355.45) rotate(-90) scale(1 1.1)" stroke="#4D4D4D" stroke-width="0.18">PROG</text>
<text font-size="7.7" fill="#4D4D4D" text-anchor="end" transform="translate(379.75 355.45) rotate(-90) scale(1 1.1)" stroke="#4D4D4D" stroke-width="0.18">MTAG</text>
<text font-size="7.7" fill="#4D4D4D" text-anchor="end" transform="translate(387.35 355.45) rotate(-90) scale(1 1.1)" stroke="#4D4D4D" stroke-width="0.18">TL−PRS</text>
<text font-size="7.7" fill="#4D4D4D" text-anchor="end" transform="translate(394.94 355.45) rotate(-90) scale(1 1.1)" stroke="#4D4D4D" stroke-width="0.18">STACKING</text>
<text font-size="7.7" fill="#4D4D4D" text-anchor="end" transform="translate(402.54 355.45) rotate(-90) scale(1 1.1)" stroke="#4D4D4D" stroke-width="0.18">MVL</text>
<text font-size="7.7" fill="#4D4D4D" text-anchor="end" transform="translate(417.01 355.45) rotate(-90) scale(1 1.1)" stroke="#4D4D4D" stroke-width="0.18">GPS</text>
<text font-size="7.7" fill="#4D4D4D" text-anchor="end" transform="translate(424.61 355.45) rotate(-90) scale(1 1.1)" stroke="#4D4D4D" stroke-width="0.18">CC</text>
<text font-size="7.7" fill="#4D4D4D" text-anchor="end" transform="translate(432.2 355.45) rotate(-90) scale(1 1.1)" stroke="#4D4D4D" stroke-width="0.18">PROG</text>
<text font-size="7.7" fill="#4D4D4D" text-anchor="end" transform="translate(439.8 355.45) rotate(-90) scale(1 1.1)" stroke="#4D4D4D" stroke-width="0.18">MTAG</text>
<text font-size="7.7" fill="#4D4D4D" text-anchor="end" transform="translate(447.4 355.45) rotate(-90) scale(1 1.1)" stroke="#4D4D4D" stroke-width="0.18">TL−PRS</text>
<text font-size="7.7" fill="#4D4D4D" text-anchor="end" transform="translate(454.99 355.45) rotate(-90) scale(1 1.1)" stroke="#4D4D4D" stroke-width="0.18">STACKING</text>
<text font-size="7.7" fill="#4D4D4D" text-anchor="end" transform="translate(462.59 355.45) rotate(-90) scale(1 1.1)" stroke="#4D4D4D" stroke-width="0.18">MVL</text>
<text font-size="7.7" fill="#4D4D4D" text-anchor="end" transform="translate(477.06 355.45) rotate(-90) scale(1 1.1)" stroke="#4D4D4D" stroke-width="0.18">GPS</text>
<text font-size="7.7" fill="#4D4D4D" text-anchor="end" transform="translate(484.66 355.45) rotate(-90) scale(1 1.1)" stroke="#4D4D4D" stroke-width="0.18">CC</text>
<text font-size="7.7" fill="#4D4D4D" text-anchor="end" transform="translate(492.25 355.45) rotate(-90) scale(1 1.1)" stroke="#4D4D4D" stroke-width="0.18">PROG</text>
<text font-size="7.7" fill="#4D4D4D" text-anchor="end" transform="translate(499.85 355.45) rotate(-90) scale(1 1.1)" stroke="#4D4D4D" stroke-width="0.18">MTAG</text>
<text font-size="7.7" fill="#4D4D4D" text-anchor="end" transform="translate(507.45 355.45) rotate(-90) scale(1 1.1)" stroke="#4D4D4D" stroke-width="0.18">TL−PRS</text>
<text font-size="7.7" fill="#4D4D4D" text-anchor="end" transform="translate(515.04 355.45) rotate(-90) scale(1 1.1)" stroke="#4D4D4D" stroke-width="0.18">STACKING</text>
<text font-size="7.7" fill="#4D4D4D" text-anchor="end" transform="translate(522.64 355.45) rotate(-90) scale(1 1.1)" stroke="#4D4D4D" stroke-width="0.18">MVL</text>
<text font-size="7.7" fill="#4D4D4D" text-anchor="end" transform="translate(537.11 355.45) rotate(-90) scale(1 1.1)" stroke="#4D4D4D" stroke-width="0.18">GPS</text>
<text font-size="7.7" fill="#4D4D4D" text-anchor="end" transform="translate(544.71 355.45) rotate(-90) scale(1 1.1)" stroke="#4D4D4D" stroke-width="0.18">CC</text>
<text font-size="7.7" fill="#4D4D4D" text-anchor="end" transform="translate(552.3 355.45) rotate(-90) scale(1 1.1)" stroke="#4D4D4D" stroke-width="0.18">PROG</text>
<text font-size="7.7" fill="#4D4D4D" text-anchor="end" transform="translate(559.9 355.45) rotate(-90) scale(1 1.1)" stroke="#4D4D4D" stroke-width="0.18">MTAG</text>
<text font-size="7.7" fill="#4D4D4D" text-anchor="end" transform="translate(567.5 355.45) rotate(-90) scale(1 1.1)" stroke="#4D4D4D" stroke-width="0.18">TL−PRS</text>
<text font-size="7.7" fill="#4D4D4D" text-anchor="end" transform="translate(575.09 355.45) rotate(-90) scale(1 1.1)" stroke="#4D4D4D" stroke-width="0.18">STACKING</text>
<text font-size="7.7" fill="#4D4D4D" text-anchor="end" transform="translate(582.69 355.45) rotate(-90) scale(1 1.1)" stroke="#4D4D4D" stroke-width="0.18">MVL</text>
<text font-size="9.8" fill="#000" text-anchor="middle" transform="translate(467.38 403.9) scale(1 1.04)" stroke="#000" stroke-width="0.18">PRS strategy</text>
<text font-size="9.8" fill="#000" text-anchor="middle" transform="translate(324.9 194.5) rotate(-90) scale(1 1.04)" stroke="#000" stroke-width="0.18">mean&#160;&#160;R<tspan dx="-0.9" dy="-4.0" font-size="6.9">2</tspan></text>
<text font-size="12.4" fill="#000" text-anchor="start" transform="translate(-0.7 426.7)" stroke="#000" stroke-width="0.18">C</text>
<text font-size="9.8" fill="#1A1A1A" text-anchor="middle" transform="translate(70.4 440.98) scale(1 1.04)" stroke="#1A1A1A" stroke-width="0.18">gcor:0.2</text>
<text font-size="9.8" fill="#1A1A1A" text-anchor="middle" transform="translate(71.4 450.98) scale(1 1.04)" stroke="#1A1A1A" stroke-width="0.18">Nprog:2000</text>
<text font-size="9.8" fill="#1A1A1A" text-anchor="middle" transform="translate(130.45 440.98) scale(1 1.04)" stroke="#1A1A1A" stroke-width="0.18">gcor:0.4</text>
<text font-size="9.8" fill="#1A1A1A" text-anchor="middle" transform="translate(131.45 450.98) scale(1 1.04)" stroke="#1A1A1A" stroke-width="0.18">Nprog:2000</text>
<text font-size="9.8" fill="#1A1A1A" text-anchor="middle" transform="translate(190.5 440.98) scale(1 1.04)" stroke="#1A1A1A" stroke-width="0.18">gcor:0.6</text>
<text font-size="9.8" fill="#1A1A1A" text-anchor="middle" transform="translate(191.5 450.98) scale(1 1.04)" stroke="#1A1A1A" stroke-width="0.18">Nprog:2000</text>
<text font-size="9.8" fill="#1A1A1A" text-anchor="middle" transform="translate(250.55 440.98) scale(1 1.04)" stroke="#1A1A1A" stroke-width="0.18">gcor:0.8</text>
<text font-size="9.8" fill="#1A1A1A" text-anchor="middle" transform="translate(251.55 450.98) scale(1 1.04)" stroke="#1A1A1A" stroke-width="0.18">Nprog:2000</text>
<text font-size="9.75" fill="#1A1A1A" text-anchor="middle" transform="translate(283.3 507.25) rotate(90) scale(1 1.04)" stroke="#1A1A1A" stroke-width="0.18">Lassosum</text>
<text font-size="7.85" fill="#4D4D4D" text-anchor="end" transform="translate(38.1 555.65) scale(1 1.08)" stroke="#4D4D4D" stroke-width="0.18">0.0</text>
<text font-size="7.85" fill="#4D4D4D" text-anchor="end" transform="translate(38.1 520.55) scale(1 1.08)" stroke="#4D4D4D" stroke-width="0.18">0.1</text>
<text font-size="7.85" fill="#4D4D4D" text-anchor="end" transform="translate(38.1 485.45) scale(1 1.08)" stroke="#4D4D4D" stroke-width="0.18">0.2</text>
<text font-size="9.75" fill="#1A1A1A" text-anchor="middle" transform="translate(283.3 613.3) rotate(90) scale(1 1.04)" stroke="#1A1A1A" stroke-width="0.18">LDpred2</text>
<text font-size="7.85" fill="#4D4D4D" text-anchor="end" transform="translate(38.1 661.7) scale(1 1.08)" stroke="#4D4D4D" stroke-width="0.18">0.0</text>
<text font-size="7.85" fill="#4D4D4D" text-anchor="end" transform="translate(38.1 626.6) scale(1 1.08)" stroke="#4D4D4D" stroke-width="0.18">0.1</text>
<text font-size="7.85" fill="#4D4D4D" text-anchor="end" transform="translate(38.1 591.5) scale(1 1.08)" stroke="#4D4D4D" stroke-width="0.18">0.2</text>
<text font-size="9.75" fill="#1A1A1A" text-anchor="middle" transform="translate(283.3 719.35) rotate(90) scale(1 1.04)" stroke="#1A1A1A" stroke-width="0.18">PRS−CS</text>
<text font-size="7.85" fill="#4D4D4D" text-anchor="end" transform="translate(38.1 767.75) scale(1 1.08)" stroke="#4D4D4D" stroke-width="0.18">0.0</text>
<text font-size="7.85" fill="#4D4D4D" text-anchor="end" transform="translate(38.1 732.65) scale(1 1.08)" stroke="#4D4D4D" stroke-width="0.18">0.1</text>
<text font-size="7.85" fill="#4D4D4D" text-anchor="end" transform="translate(38.1 697.55) scale(1 1.08)" stroke="#4D4D4D" stroke-width="0.18">0.2</text>
<text font-size="7.7" fill="#4D4D4D" text-anchor="end" transform="translate(50.06 773.95) rotate(-90) scale(1 1.1)" stroke="#4D4D4D" stroke-width="0.18">GPS</text>
<text font-size="7.7" fill="#4D4D4D" text-anchor="end" transform="translate(57.66 773.95) rotate(-90) scale(1 1.1)" stroke="#4D4D4D" stroke-width="0.18">CC</text>
<text font-size="7.7" fill="#4D4D4D" text-anchor="end" transform="translate(65.25 773.95) rotate(-90) scale(1 1.1)" stroke="#4D4D4D" stroke-width="0.18">PROG</text>
<text font-size="7.7" fill="#4D4D4D" text-anchor="end" transform="translate(72.85 773.95) rotate(-90) scale(1 1.1)" stroke="#4D4D4D" stroke-width="0.18">MTAG</text>
<text font-size="7.7" fill="#4D4D4D" text-anchor="end" transform="translate(80.45 773.95) rotate(-90) scale(1 1.1)" stroke="#4D4D4D" stroke-width="0.18">TL−PRS</text>
<text font-size="7.7" fill="#4D4D4D" text-anchor="end" transform="translate(88.04 773.95) rotate(-90) scale(1 1.1)" stroke="#4D4D4D" stroke-width="0.18">STACKING</text>
<text font-size="7.7" fill="#4D4D4D" text-anchor="end" transform="translate(95.64 773.95) rotate(-90) scale(1 1.1)" stroke="#4D4D4D" stroke-width="0.18">MVL</text>
<text font-size="7.7" fill="#4D4D4D" text-anchor="end" transform="translate(110.11 773.95) rotate(-90) scale(1 1.1)" stroke="#4D4D4D" stroke-width="0.18">GPS</text>
<text font-size="7.7" fill="#4D4D4D" text-anchor="end" transform="translate(117.71 773.95) rotate(-90) scale(1 1.1)" stroke="#4D4D4D" stroke-width="0.18">CC</text>
<text font-size="7.7" fill="#4D4D4D" text-anchor="end" transform="translate(125.3 773.95) rotate(-90) scale(1 1.1)" stroke="#4D4D4D" stroke-width="0.18">PROG</text>
<text font-size="7.7" fill="#4D4D4D" text-anchor="end" transform="translate(132.9 773.95) rotate(-90) scale(1 1.1)" stroke="#4D4D4D" stroke-width="0.18">MTAG</text>
<text font-size="7.7" fill="#4D4D4D" text-anchor="end" transform="translate(140.5 773.95) rotate(-90) scale(1 1.1)" stroke="#4D4D4D" stroke-width="0.18">TL−PRS</text>
<text font-size="7.7" fill="#4D4D4D" text-anchor="end" transform="translate(148.09 773.95) rotate(-90) scale(1 1.1)" stroke="#4D4D4D" stroke-width="0.18">STACKING</text>
<text font-size="7.7" fill="#4D4D4D" text-anchor="end" transform="translate(155.69 773.95) rotate(-90) scale(1 1.1)" stroke="#4D4D4D" stroke-width="0.18">MVL</text>
<text font-size="7.7" fill="#4D4D4D" text-anchor="end" transform="translate(170.16 773.95) rotate(-90) scale(1 1.1)" stroke="#4D4D4D" stroke-width="0.18">GPS</text>
<text font-size="7.7" fill="#4D4D4D" text-anchor="end" transform="translate(177.76 773.95) rotate(-90) scale(1 1.1)" stroke="#4D4D4D" stroke-width="0.18">CC</text>
<text font-size="7.7" fill="#4D4D4D" text-anchor="end" transform="translate(185.35 773.95) rotate(-90) scale(1 1.1)" stroke="#4D4D4D" stroke-width="0.18">PROG</text>
<text font-size="7.7" fill="#4D4D4D" text-anchor="end" transform="translate(192.95 773.95) rotate(-90) scale(1 1.1)" stroke="#4D4D4D" stroke-width="0.18">MTAG</text>
<text font-size="7.7" fill="#4D4D4D" text-anchor="end" transform="translate(200.55 773.95) rotate(-90) scale(1 1.1)" stroke="#4D4D4D" stroke-width="0.18">TL−PRS</text>
<text font-size="7.7" fill="#4D4D4D" text-anchor="end" transform="translate(208.14 773.95) rotate(-90) scale(1 1.1)" stroke="#4D4D4D" stroke-width="0.18">STACKING</text>
<text font-size="7.7" fill="#4D4D4D" text-anchor="end" transform="translate(215.74 773.95) rotate(-90) scale(1 1.1)" stroke="#4D4D4D" stroke-width="0.18">MVL</text>
<text font-size="7.7" fill="#4D4D4D" text-anchor="end" transform="translate(230.21 773.95) rotate(-90) scale(1 1.1)" stroke="#4D4D4D" stroke-width="0.18">GPS</text>
<text font-size="7.7" fill="#4D4D4D" text-anchor="end" transform="translate(237.81 773.95) rotate(-90) scale(1 1.1)" stroke="#4D4D4D" stroke-width="0.18">CC</text>
<text font-size="7.7" fill="#4D4D4D" text-anchor="end" transform="translate(245.4 773.95) rotate(-90) scale(1 1.1)" stroke="#4D4D4D" stroke-width="0.18">PROG</text>
<text font-size="7.7" fill="#4D4D4D" text-anchor="end" transform="translate(253 773.95) rotate(-90) scale(1 1.1)" stroke="#4D4D4D" stroke-width="0.18">MTAG</text>
<text font-size="7.7" fill="#4D4D4D" text-anchor="end" transform="translate(260.6 773.95) rotate(-90) scale(1 1.1)" stroke="#4D4D4D" stroke-width="0.18">TL−PRS</text>
<text font-size="7.7" fill="#4D4D4D" text-anchor="end" transform="translate(268.19 773.95) rotate(-90) scale(1 1.1)" stroke="#4D4D4D" stroke-width="0.18">STACKING</text>
<text font-size="7.7" fill="#4D4D4D" text-anchor="end" transform="translate(275.79 773.95) rotate(-90) scale(1 1.1)" stroke="#4D4D4D" stroke-width="0.18">MVL</text>
<text font-size="9.8" fill="#000" text-anchor="middle" transform="translate(160.47 823.2) scale(1 1.04)" stroke="#000" stroke-width="0.18">PRS strategy</text>
<text font-size="9.8" fill="#000" text-anchor="middle" transform="translate(18 613) rotate(-90) scale(1 1.04)" stroke="#000" stroke-width="0.18">mean&#160;&#160;R<tspan dx="-0.9" dy="-4.0" font-size="6.9">2</tspan></text>
<text font-size="12.4" fill="#000" text-anchor="start" transform="translate(306.2 426.7)" stroke="#000" stroke-width="0.18">D</text>
<text font-size="9.8" fill="#1A1A1A" text-anchor="middle" transform="translate(377.3 440.98) scale(1 1.04)" stroke="#1A1A1A" stroke-width="0.18">gcor:0.2</text>
<text font-size="9.8" fill="#1A1A1A" text-anchor="middle" transform="translate(378.3 450.98) scale(1 1.04)" stroke="#1A1A1A" stroke-width="0.18">Nprog:3000</text>
<text font-size="9.8" fill="#1A1A1A" text-anchor="middle" transform="translate(437.35 440.98) scale(1 1.04)" stroke="#1A1A1A" stroke-width="0.18">gcor:0.4</text>
<text font-size="9.8" fill="#1A1A1A" text-anchor="middle" transform="translate(438.35 450.98) scale(1 1.04)" stroke="#1A1A1A" stroke-width="0.18">Nprog:3000</text>
<text font-size="9.8" fill="#1A1A1A" text-anchor="middle" transform="translate(497.4 440.98) scale(1 1.04)" stroke="#1A1A1A" stroke-width="0.18">gcor:0.6</text>
<text font-size="9.8" fill="#1A1A1A" text-anchor="middle" transform="translate(498.4 450.98) scale(1 1.04)" stroke="#1A1A1A" stroke-width="0.18">Nprog:3000</text>
<text font-size="9.8" fill="#1A1A1A" text-anchor="middle" transform="translate(557.45 440.98) scale(1 1.04)" stroke="#1A1A1A" stroke-width="0.18">gcor:0.8</text>
<text font-size="9.8" fill="#1A1A1A" text-anchor="middle" transform="translate(558.45 450.98) scale(1 1.04)" stroke="#1A1A1A" stroke-width="0.18">Nprog:3000</text>
<text font-size="9.75" fill="#1A1A1A" text-anchor="middle" transform="translate(590.2 507.25) rotate(90) scale(1 1.04)" stroke="#1A1A1A" stroke-width="0.18">Lassosum</text>
<text font-size="7.85" fill="#4D4D4D" text-anchor="end" transform="translate(345 555.65) scale(1 1.08)" stroke="#4D4D4D" stroke-width="0.18">0.0</text>
<text font-size="7.85" fill="#4D4D4D" text-anchor="end" transform="translate(345 521.15) scale(1 1.08)" stroke="#4D4D4D" stroke-width="0.18">0.1</text>
<text font-size="7.85" fill="#4D4D4D" text-anchor="end" transform="translate(345 486.65) scale(1 1.08)" stroke="#4D4D4D" stroke-width="0.18">0.2</text>
<text font-size="9.75" fill="#1A1A1A" text-anchor="middle" transform="translate(590.2 613.3) rotate(90) scale(1 1.04)" stroke="#1A1A1A" stroke-width="0.18">LDpred2</text>
<text font-size="7.85" fill="#4D4D4D" text-anchor="end" transform="translate(345 661.7) scale(1 1.08)" stroke="#4D4D4D" stroke-width="0.18">0.0</text>
<text font-size="7.85" fill="#4D4D4D" text-anchor="end" transform="translate(345 627.2) scale(1 1.08)" stroke="#4D4D4D" stroke-width="0.18">0.1</text>
<text font-size="7.85" fill="#4D4D4D" text-anchor="end" transform="translate(345 592.7) scale(1 1.08)" stroke="#4D4D4D" stroke-width="0.18">0.2</text>
<text font-size="9.75" fill="#1A1A1A" text-anchor="middle" transform="translate(590.2 719.35) rotate(90) scale(1 1.04)" stroke="#1A1A1A" stroke-width="0.18">PRS−CS</text>
<text font-size="7.85" fill="#4D4D4D" text-anchor="end" transform="translate(345 767.75) scale(1 1.08)" stroke="#4D4D4D" stroke-width="0.18">0.0</text>
<text font-size="7.85" fill="#4D4D4D" text-anchor="end" transform="translate(345 733.25) scale(1 1.08)" stroke="#4D4D4D" stroke-width="0.18">0.1</text>
<text font-size="7.85" fill="#4D4D4D" text-anchor="end" transform="translate(345 698.75) scale(1 1.08)" stroke="#4D4D4D" stroke-width="0.18">0.2</text>
<text font-size="7.7" fill="#4D4D4D" text-anchor="end" transform="translate(356.96 773.95) rotate(-90) scale(1 1.1)" stroke="#4D4D4D" stroke-width="0.18">GPS</text>
<text font-size="7.7" fill="#4D4D4D" text-anchor="end" transform="translate(364.56 773.95) rotate(-90) scale(1 1.1)" stroke="#4D4D4D" stroke-width="0.18">CC</text>
<text font-size="7.7" fill="#4D4D4D" text-anchor="end" transform="translate(372.15 773.95) rotate(-90) scale(1 1.1)" stroke="#4D4D4D" stroke-width="0.18">PROG</text>
<text font-size="7.7" fill="#4D4D4D" text-anchor="end" transform="translate(379.75 773.95) rotate(-90) scale(1 1.1)" stroke="#4D4D4D" stroke-width="0.18">MTAG</text>
<text font-size="7.7" fill="#4D4D4D" text-anchor="end" transform="translate(387.35 773.95) rotate(-90) scale(1 1.1)" stroke="#4D4D4D" stroke-width="0.18">TL−PRS</text>
<text font-size="7.7" fill="#4D4D4D" text-anchor="end" transform="translate(394.94 773.95) rotate(-90) scale(1 1.1)" stroke="#4D4D4D" stroke-width="0.18">STACKING</text>
<text font-size="7.7" fill="#4D4D4D" text-anchor="end" transform="translate(402.54 773.95) rotate(-90) scale(1 1.1)" stroke="#4D4D4D" stroke-width="0.18">MVL</text>
<text font-size="7.7" fill="#4D4D4D" text-anchor="end" transform="translate(417.01 773.95) rotate(-90) scale(1 1.1)" stroke="#4D4D4D" stroke-width="0.18">GPS</text>
<text font-size="7.7" fill="#4D4D4D" text-anchor="end" transform="translate(424.61 773.95) rotate(-90) scale(1 1.1)" stroke="#4D4D4D" stroke-width="0.18">CC</text>
<text font-size="7.7" fill="#4D4D4D" text-anchor="end" transform="translate(432.2 773.95) rotate(-90) scale(1 1.1)" stroke="#4D4D4D" stroke-width="0.18">PROG</text>
<text font-size="7.7" fill="#4D4D4D" text-anchor="end" transform="translate(439.8 773.95) rotate(-90) scale(1 1.1)" stroke="#4D4D4D" stroke-width="0.18">MTAG</text>
<text font-size="7.7" fill="#4D4D4D" text-anchor="end" transform="translate(447.4 773.95) rotate(-90) scale(1 1.1)" stroke="#4D4D4D" stroke-width="0.18">TL−PRS</text>
<text font-size="7.7" fill="#4D4D4D" text-anchor="end" transform="translate(454.99 773.95) rotate(-90) scale(1 1.1)" stroke="#4D4D4D" stroke-width="0.18">STACKING</text>
<text font-size="7.7" fill="#4D4D4D" text-anchor="end" transform="translate(462.59 773.95) rotate(-90) scale(1 1.1)" stroke="#4D4D4D" stroke-width="0.18">MVL</text>
<text font-size="7.7" fill="#4D4D4D" text-anchor="end" transform="translate(477.06 773.95) rotate(-90) scale(1 1.1)" stroke="#4D4D4D" stroke-width="0.18">GPS</text>
<text font-size="7.7" fill="#4D4D4D" text-anchor="end" transform="translate(484.66 773.95) rotate(-90) scale(1 1.1)" stroke="#4D4D4D" stroke-width="0.18">CC</text>
<text font-size="7.7" fill="#4D4D4D" text-anchor="end" transform="translate(492.25 773.95) rotate(-90) scale(1 1.1)" stroke="#4D4D4D" stroke-width="0.18">PROG</text>
<text font-size="7.7" fill="#4D4D4D" text-anchor="end" transform="translate(499.85 773.95) rotate(-90) scale(1 1.1)" stroke="#4D4D4D" stroke-width="0.18">MTAG</text>
<text font-size="7.7" fill="#4D4D4D" text-anchor="end" transform="translate(507.45 773.95) rotate(-90) scale(1 1.1)" stroke="#4D4D4D" stroke-width="0.18">TL−PRS</text>
<text font-size="7.7" fill="#4D4D4D" text-anchor="end" transform="translate(515.04 773.95) rotate(-90) scale(1 1.1)" stroke="#4D4D4D" stroke-width="0.18">STACKING</text>
<text font-size="7.7" fill="#4D4D4D" text-anchor="end" transform="translate(522.64 773.95) rotate(-90) scale(1 1.1)" stroke="#4D4D4D" stroke-width="0.18">MVL</text>
<text font-size="7.7" fill="#4D4D4D" text-anchor="end" transform="translate(537.11 773.95) rotate(-90) scale(1 1.1)" stroke="#4D4D4D" stroke-width="0.18">GPS</text>
<text font-size="7.7" fill="#4D4D4D" text-anchor="end" transform="translate(544.71 773.95) rotate(-90) scale(1 1.1)" stroke="#4D4D4D" stroke-width="0.18">CC</text>
<text font-size="7.7" fill="#4D4D4D" text-anchor="end" transform="translate(552.3 773.95) rotate(-90) scale(1 1.1)" stroke="#4D4D4D" stroke-width="0.18">PROG</text>
<text font-size="7.7" fill="#4D4D4D" text-anchor="end" transform="translate(559.9 773.95) rotate(-90) scale(1 1.1)" stroke="#4D4D4D" stroke-width="0.18">MTAG</text>
<text font-size="7.7" fill="#4D4D4D" text-anchor="end" transform="translate(567.5 773.95) rotate(-90) scale(1 1.1)" stroke="#4D4D4D" stroke-width="0.18">TL−PRS</text>
<text font-size="7.7" fill="#4D4D4D" text-anchor="end" transform="translate(575.09 773.95) rotate(-90) scale(1 1.1)" stroke="#4D4D4D" stroke-width="0.18">STACKING</text>
<text font-size="7.7" fill="#4D4D4D" text-anchor="end" transform="translate(582.69 773.95) rotate(-90) scale(1 1.1)" stroke="#4D4D4D" stroke-width="0.18">MVL</text>
<text font-size="9.8" fill="#000" text-anchor="middle" transform="translate(467.38 823.2) scale(1 1.04)" stroke="#000" stroke-width="0.18">PRS strategy</text>
<text font-size="9.8" fill="#000" text-anchor="middle" transform="translate(324.9 613) rotate(-90) scale(1 1.04)" stroke="#000" stroke-width="0.18">mean&#160;&#160;R<tspan dx="-0.9" dy="-4.0" font-size="6.9">2</tspan></text>
<text font-size="9.8" fill="#000" text-anchor="start" transform="translate(619.3 345.7) scale(1 1.04)" stroke="#000" stroke-width="0.18">PRS strategy</text>
<text font-size="7.7" fill="#000" text-anchor="start" transform="translate(640.9 362.95) scale(1 1.1)" stroke="#000" stroke-width="0.18">GPS</text>
<text font-size="7.7" fill="#000" text-anchor="start" transform="translate(640.9 379.85) scale(1 1.1)" stroke="#000" stroke-width="0.18">CC</text>
<text font-size="7.7" fill="#000" text-anchor="start" transform="translate(640.9 396.75) scale(1 1.1)" stroke="#000" stroke-width="0.18">PROG</text>
<text font-size="7.7" fill="#000" text-anchor="start" transform="translate(640.9 413.65) scale(1 1.1)" stroke="#000" stroke-width="0.18">MTAG</text>
<text font-size="7.7" fill="#000" text-anchor="start" transform="translate(640.9 430.55) scale(1 1.1)" stroke="#000" stroke-width="0.18">TL−PRS</text>
<text font-size="7.7" fill="#000" text-anchor="start" transform="translate(640.9 447.45) scale(1 1.1)" stroke="#000" stroke-width="0.18">STACKING</text>
<text font-size="7.7" fill="#000" text-anchor="start" transform="translate(640.9 464.35) scale(1 1.1)" stroke="#000" stroke-width="0.18">MVL</text>
</g>
</svg>
</body></html>
